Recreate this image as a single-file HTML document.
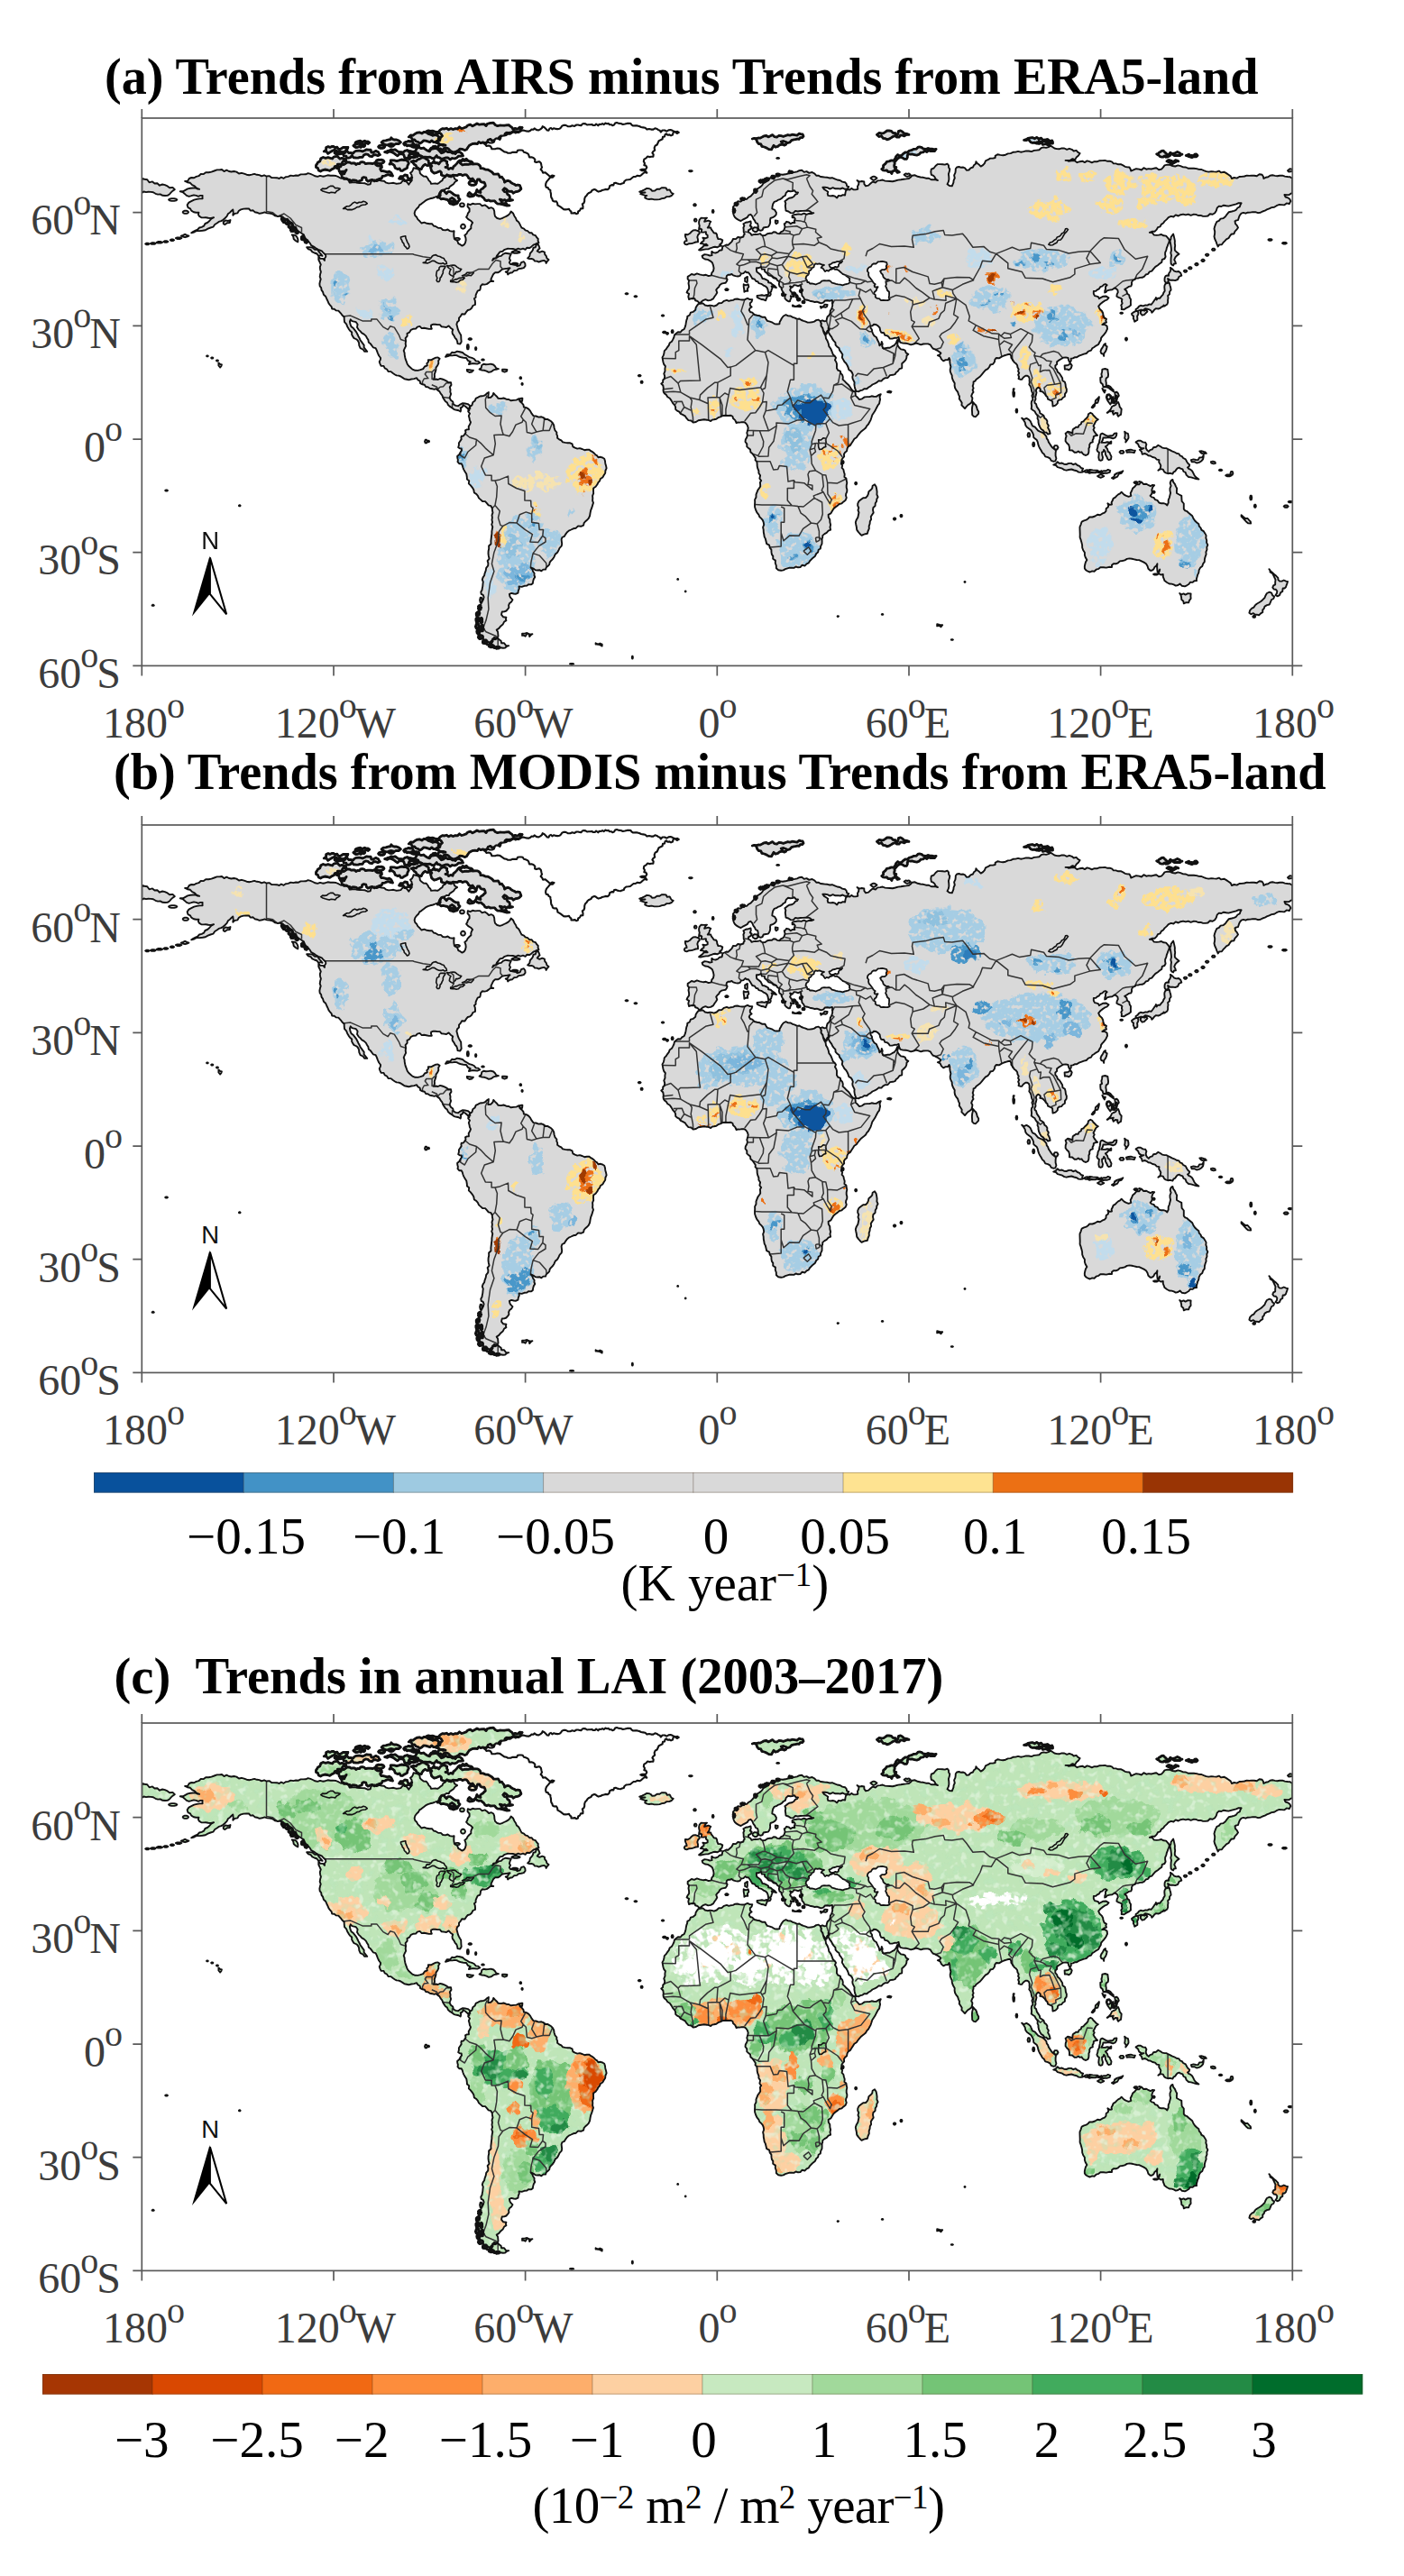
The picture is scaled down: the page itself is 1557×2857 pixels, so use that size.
<!DOCTYPE html>
<html><head><meta charset="utf-8"><title>Trends</title>
<style>
html,body{margin:0;padding:0;background:#fff}
body{width:1557px;height:2857px;position:relative;overflow:hidden;font-family:"Liberation Serif",serif}
.map{position:absolute;overflow:visible}
.ti{position:absolute;font-weight:bold;font-size:56px;line-height:60px;white-space:pre;color:#000}
.yl{position:absolute;left:0;width:134px;text-align:right;font-size:48px;line-height:50px;color:#3c3c3c;white-space:nowrap}
.xl{position:absolute;width:200px;text-align:center;font-size:48px;line-height:50px;color:#3c3c3c;white-space:nowrap}
.yl sup,.xl sup{font-size:40px;vertical-align:baseline;position:relative;top:-22.5px;line-height:0;margin:0 -2px 0 -1px}
.cl{position:absolute;width:200px;text-align:center;font-size:57px;line-height:60px;color:#000;white-space:nowrap}
.un{position:absolute;font-size:57px;line-height:60px;color:#000;white-space:nowrap}
.un sup{font-size:37px;vertical-align:baseline;position:relative;top:-16px;line-height:0}
</style></head><body>

<div class="ti" style="left:116px;top:55px;font-size:56.2px">(a) Trends from AIRS minus Trends from ERA5-land</div>
<div class="ti" style="left:126px;top:826px;font-size:56.3px">(b) Trends from MODIS minus Trends from ERA5-land</div>
<div class="ti" style="left:126.5px;top:1829px;font-size:56.5px">(c)  Trends in annual LAI (2003–2017)</div>
<svg class="map" style="left:0;top:110.6px" width="1557" height="652" viewBox="0 0 1557 652">
<defs>
<path id="landp" d="M42.5,81.3L45.6,81.3L48.2,79.9L50.9,78.4L53.8,77.8L56.7,77.5L59.2,77.4L61.4,78.5L63.8,78.8L60.8,77.7L58.5,75.4L55.8,74.1L53.6,71.8L50.5,71.2L47.8,70.0L50.7,69.9L52.5,67.0L55.0,66.0L57.9,66.3L60.3,64.9L63.1,64.2L65.4,62.0L68.5,62.1L70.9,60.3L74.1,60.3L77.2,59.6L80.3,58.5L83.3,57.4L86.0,57.4L88.7,57.0L91.2,59.1L94.0,57.7L96.6,59.0L99.2,59.5L102.2,59.0L105.0,59.6L107.7,61.5L110.6,60.8L113.4,61.6L116.2,62.7L119.0,63.2L121.9,62.6L124.8,61.9L127.6,62.8L130.3,63.1L132.8,64.4L135.7,63.3L138.2,64.5L141.2,64.1L143.8,66.1L146.7,66.1L149.6,66.2L152.4,67.0L154.6,65.5L157.3,66.8L159.5,65.3L162.3,64.9L165.1,63.6L168.0,64.1L170.8,63.5L173.7,63.7L176.2,62.4L179.0,62.4L181.8,62.3L184.3,61.2L187.0,61.9L189.6,63.0L192.2,64.3L194.9,64.9L197.7,63.9L200.6,64.7L203.5,64.2L206.2,63.3L209.1,63.7L212.2,63.6L215.2,64.0L218.0,65.2L220.8,66.8L224.0,66.0L226.8,67.4L229.2,68.9L230.4,71.6L233.2,71.2L236.1,71.2L238.9,71.9L241.7,72.0L244.6,72.1L247.5,72.3L250.4,73.7L253.4,73.3L254.0,71.1L255.2,69.1L257.9,68.4L260.5,70.1L263.2,68.8L265.8,69.5L268.6,69.7L271.0,71.7L273.6,72.4L276.5,72.1L279.1,71.8L281.8,72.7L284.4,72.5L287.1,72.1L288.7,70.2L290.6,68.7L292.6,70.1L294.5,71.6L296.0,73.7L297.6,71.3L299.5,69.1L299.2,66.2L299.3,63.3L297.7,60.7L299.6,59.4L300.6,57.5L301.3,55.3L303.9,55.9L306.6,56.6L308.2,58.4L308.5,61.1L310.1,62.8L312.4,64.5L315.3,64.7L317.2,67.0L318.2,69.1L320.0,70.7L320.8,72.9L323.1,72.6L325.5,72.5L327.9,72.9L329.7,71.7L331.4,70.3L333.2,69.1L334.0,67.0L336.1,65.9L336.7,63.7L339.7,63.3L342.7,63.4L345.6,64.5L347.0,67.5L349.8,69.1L347.3,70.7L345.6,73.3L343.5,74.6L341.5,76.0L340.3,78.3L337.8,77.9L335.6,79.5L333.2,79.6L331.9,81.4L331.2,83.5L331.4,85.9L329.3,87.6L326.6,87.0L324.3,88.0L322.0,88.8L319.6,89.3L317.2,90.1L314.7,91.4L312.4,93.3L310.1,95.1L307.9,96.4L306.7,98.8L304.8,100.5L303.1,102.8L302.3,105.6L303.0,108.1L304.8,109.8L306.1,112.4L308.2,114.3L310.1,116.5L313.2,115.7L316.1,116.8L319.0,117.3L321.7,117.2L323.6,119.5L326.1,120.2L328.6,121.8L331.6,121.9L333.8,124.0L336.7,124.4L339.2,123.5L341.5,125.1L343.9,125.6L346.3,125.3L346.0,128.2L346.1,131.1L346.6,134.0L348.7,135.1L350.2,136.7L350.9,139.1L353.1,140.2L355.2,141.6L357.3,140.4L358.7,138.2L359.4,135.3L359.1,132.6L358.0,129.9L360.1,128.3L361.3,125.9L363.1,124.0L365.1,122.3L365.0,120.0L365.6,117.9L366.8,116.0L364.7,113.7L361.9,112.1L359.8,109.8L361.0,107.7L361.7,105.3L363.3,103.5L363.3,100.5L361.2,98.1L361.5,95.1L364.2,96.2L366.8,94.8L369.5,95.4L372.2,95.1L375.0,95.1L377.3,97.4L380.4,96.4L382.8,98.0L384.8,100.0L387.7,99.2L389.9,100.5L390.9,103.2L391.1,106.1L391.7,108.9L394.0,111.0L397.0,111.8L399.4,111.1L401.7,110.0L404.1,108.9L406.3,107.6L408.1,105.8L409.4,103.5L411.7,105.5L413.0,108.4L414.7,111.0L415.6,113.4L417.6,115.0L418.9,117.1L420.0,119.4L421.3,121.7L423.7,122.6L425.3,124.4L427.8,125.2L429.8,127.2L432.4,127.3L433.9,129.4L436.5,130.1L437.8,132.2L439.5,134.0L439.3,136.2L440.2,138.2L438.1,138.8L436.2,139.8L434.2,140.7L432.2,142.4L430.1,144.0L427.1,143.7L425.3,145.8L422.7,144.7L420.0,145.6L417.4,144.6L414.7,145.8L411.6,145.0L408.5,144.9L405.4,144.8L402.3,145.8L400.1,147.7L397.1,148.4L395.2,150.8L393.7,152.7L392.7,155.1L389.9,155.6L388.8,157.9L390.9,155.9L393.4,155.0L395.7,153.4L398.5,152.9L400.5,150.8L403.5,149.7L406.4,150.2L409.4,150.8L408.3,153.2L407.6,155.8L408.7,157.8L407.5,160.2L408.7,162.1L411.4,162.1L414.1,162.7L416.5,164.2L419.3,163.3L420.7,160.1L423.6,159.2L425.0,161.2L425.3,163.8L423.5,166.1L420.7,166.7L418.0,167.1L415.7,168.9L412.9,169.2L410.9,171.2L408.0,171.7L405.8,173.4L405.3,171.3L403.4,170.5L405.6,170.0L406.7,167.7L408.3,166.3L405.3,166.8L402.3,167.1L399.3,167.8L397.0,170.1L394.7,171.3L391.9,171.1L389.9,173.0L388.9,174.9L388.0,176.9L387.1,178.9L388.1,180.5L389.9,181.0L387.0,180.8L384.6,182.6L382.4,184.1L380.0,184.6L377.5,184.3L375.7,186.4L375.5,188.5L375.0,190.6L372.4,191.7L371.1,194.4L370.3,196.3L370.3,198.7L368.6,200.2L369.5,202.4L369.7,204.6L369.7,206.9L367.1,208.0L365.8,210.7L363.9,212.3L361.5,213.0L359.8,214.9L358.2,217.5L354.9,217.3L353.4,219.9L351.7,221.7L351.7,224.5L349.8,226.2L349.1,228.7L349.8,231.2L350.4,233.9L351.4,236.4L352.7,238.8L353.9,240.7L354.0,242.9L354.1,245.1L354.4,248.0L353.0,250.5L350.2,250.1L349.8,247.7L349.0,245.5L347.4,243.8L346.2,241.3L344.5,239.2L344.2,236.8L344.9,234.6L342.4,232.7L340.3,230.4L337.8,232.0L334.9,231.6L332.4,231.3L330.5,229.1L327.9,229.1L325.5,228.8L323.1,228.7L320.8,229.6L320.7,231.7L321.5,233.7L318.4,233.9L315.5,233.3L313.0,232.8L310.4,233.1L308.2,230.9L305.5,231.6L303.8,233.6L301.3,233.7L298.5,234.8L296.8,237.6L294.2,238.8L294.4,241.7L292.3,244.2L292.8,247.1L292.4,250.0L292.8,252.9L291.4,255.5L290.4,257.9L291.3,260.3L291.4,262.6L291.9,265.2L292.5,267.7L293.5,270.2L294.4,272.7L295.8,274.8L297.7,276.5L300.1,278.6L303.1,279.8L306.1,279.9L309.0,279.2L311.9,278.1L313.7,275.5L316.5,274.4L316.0,272.1L317.7,270.3L317.6,268.1L320.7,268.3L323.4,266.9L326.1,265.6L328.4,265.4L330.3,266.8L328.9,269.1L329.0,272.0L327.9,274.4L326.2,276.6L326.1,279.4L325.3,281.9L324.5,284.3L324.7,286.9L323.6,289.9L326.0,289.5L328.4,290.0L330.8,288.9L333.2,289.5L335.6,290.4L337.9,291.6L340.0,293.3L342.7,293.2L343.2,295.9L341.5,298.4L342.2,301.1L342.0,303.7L342.8,305.9L342.1,308.0L341.3,310.0L342.5,312.7L344.9,314.5L345.6,317.5L348.1,318.9L350.9,319.2L353.1,317.6L355.5,316.3L358.5,316.5L361.5,317.1L363.1,318.2L364.0,320.0L363.1,322.0L363.0,324.2L361.9,322.6L360.5,321.3L358.5,319.5L356.2,318.4L355.4,320.5L353.4,321.3L353.9,323.4L353.4,325.5L351.4,324.3L349.1,323.8L346.2,323.1L343.8,321.3L341.3,319.6L339.6,318.0L338.6,315.6L336.7,314.2L335.3,312.1L333.9,310.0L333.0,307.3L331.3,305.4L330.1,303.1L327.9,301.6L326.3,300.2L324.3,300.8L321.9,300.2L319.4,299.8L317.2,298.3L314.9,298.0L313.5,295.7L311.2,295.3L308.9,294.2L308.3,291.5L306.1,290.3L304.8,288.2L301.9,289.1L298.9,289.5L296.0,290.3L293.6,289.8L291.2,289.3L289.2,287.9L287.1,286.5L284.9,285.6L282.4,285.4L280.3,284.2L278.2,282.8L276.2,281.1L273.3,281.0L271.7,278.5L269.4,277.3L268.2,274.9L265.2,274.7L264.1,272.3L263.4,270.1L264.5,268.1L264.8,266.0L262.9,263.5L261.6,260.6L260.5,257.6L259.3,255.1L256.5,254.3L255.0,252.2L253.4,250.1L251.5,248.7L251.1,246.1L249.9,244.2L248.5,241.6L246.3,239.6L244.0,238.4L242.3,236.4L240.3,234.6L238.7,232.1L239.3,228.7L237.5,226.2L235.3,225.6L233.1,225.1L231.5,223.3L230.6,225.7L231.1,228.3L232.2,231.2L234.6,233.1L236.4,235.4L237.9,237.3L239.0,239.5L240.0,241.7L241.3,243.9L242.3,246.4L243.9,248.4L245.1,250.2L246.4,251.9L246.3,254.3L248.1,256.6L249.9,258.9L247.0,258.9L245.2,256.5L242.3,255.1L241.0,252.2L240.7,249.0L239.2,246.3L237.4,245.0L235.3,244.1L233.9,242.1L232.8,240.0L232.9,237.5L230.8,235.8L229.3,233.6L227.9,231.2L226.8,228.4L224.7,226.1L224.4,222.9L224.4,220.5L222.6,219.1L221.2,217.2L219.6,215.4L218.0,213.6L215.5,213.4L213.4,211.8L210.9,211.5L210.3,209.1L208.7,207.3L207.2,205.4L206.3,203.2L205.0,200.5L203.8,197.7L201.6,195.8L200.8,192.9L199.2,190.6L198.9,188.2L197.4,186.4L197.1,183.8L197.6,181.2L198.4,178.6L197.4,175.9L197.8,173.3L198.6,170.6L197.8,167.9L197.5,165.1L198.5,162.5L197.2,159.7L196.0,157.0L196.0,153.7L197.9,155.8L200.9,155.9L202.7,157.9L202.6,155.7L204.0,153.8L203.8,151.6L202.6,150.5L201.3,149.5L199.8,147.7L197.8,146.7L195.7,145.8L193.0,144.3L190.6,142.5L187.9,141.2L186.3,138.5L184.3,136.1L182.2,134.4L180.5,132.2L179.6,129.3L177.2,127.8L175.4,126.5L173.3,125.5L171.9,123.6L170.8,120.8L168.0,119.8L167.3,116.6L164.8,115.2L162.5,113.7L160.2,112.2L157.7,111.0L155.6,109.2L153.2,108.7L150.6,108.9L147.6,108.2L144.9,106.2L141.8,105.6L138.9,105.4L136.1,104.4L133.3,105.3L130.4,105.9L127.6,104.7L125.2,104.2L123.3,102.3L120.6,102.6L118.7,100.5L115.8,100.5L112.8,100.6L109.9,101.4L107.6,102.8L106.0,105.4L103.1,105.9L101.0,107.7L101.4,104.5L101.0,101.4L99.3,103.0L97.7,104.7L95.7,106.0L94.3,108.8L92.2,111.0L90.2,112.8L87.9,114.1L85.4,114.9L83.3,116.5L80.9,118.0L79.1,120.7L76.2,121.5L73.2,122.6L70.5,124.3L67.3,124.8L64.2,125.1L60.9,125.0L58.0,126.5L54.9,127.3L57.1,125.8L59.5,124.6L61.9,123.5L63.8,121.5L66.4,120.8L68.7,119.7L70.2,117.0L72.7,116.0L75.0,114.0L77.0,111.6L79.8,110.2L76.8,111.0L73.8,110.8L70.9,110.2L68.4,110.4L66.0,110.3L63.8,108.9L62.6,107.0L63.1,104.7L60.2,104.8L57.5,104.2L54.9,102.6L53.6,100.3L51.1,99.1L50.3,96.3L52.1,93.6L54.9,92.2L57.9,90.7L61.0,89.9L64.1,89.4L67.3,89.2L67.2,87.5L67.3,85.9L65.0,85.9L62.6,86.9L60.3,85.9L57.6,85.4L54.9,86.2L52.3,86.9L49.6,85.9L47.5,83.9L45.3,82.1L42.5,81.3Z M364.0,320.0L366.2,318.2L367.0,315.3L369.3,313.6L370.4,310.8L372.9,309.6L374.9,308.5L377.1,308.2L379.3,307.9L381.2,306.9L382.7,305.2L384.6,304.1L384.3,307.1L383.9,310.0L386.9,309.7L389.2,307.5L389.9,305.0L391.7,306.9L393.6,308.7L395.2,310.8L398.2,311.1L401.2,310.5L404.1,311.7L406.9,312.0L409.4,313.3L412.4,312.9L415.4,312.6L418.2,311.2L419.4,314.3L421.8,316.3L423.2,318.1L423.6,320.5L426.4,321.1L428.9,322.6L430.8,324.9L432.3,327.7L434.2,330.1L437.1,330.5L440.0,331.6L443.1,331.3L445.3,332.2L447.2,334.0L449.8,333.9L451.9,335.1L453.9,336.3L455.5,338.0L456.9,340.5L457.3,343.5L458.2,346.3L460.1,348.5L460.0,350.7L460.9,352.7L460.8,354.8L462.8,356.3L465.1,357.4L466.8,359.4L469.5,359.9L472.2,360.2L475.0,360.3L477.3,361.4L478.0,364.4L480.3,365.7L482.9,366.6L485.6,366.1L488.3,367.0L490.9,368.2L493.5,367.7L496.2,367.8L497.9,369.2L499.8,370.2L501.5,371.6L503.0,373.2L504.8,374.4L506.1,376.2L508.6,375.8L510.8,376.5L512.9,377.8L513.7,380.3L514.0,382.9L514.7,385.4L515.3,388.3L514.1,391.0L513.9,393.8L512.4,396.0L511.0,398.5L508.6,400.0L507.8,402.3L506.1,404.1L505.1,406.3L503.3,408.8L500.8,410.5L500.7,413.3L500.9,416.2L499.8,418.9L500.0,421.5L499.8,424.1L500.7,426.8L499.8,429.4L499.0,432.2L497.9,434.9L497.3,437.7L496.8,441.0L495.5,443.8L493.4,446.1L491.7,447.5L490.3,449.2L489.8,451.6L486.9,452.8L483.8,452.4L481.5,454.7L478.5,455.3L476.0,456.5L473.5,457.6L471.4,459.5L469.9,461.6L468.5,463.9L466.1,465.0L465.3,467.3L465.6,469.8L465.9,472.2L465.4,474.6L463.4,476.6L462.2,479.2L460.8,481.7L458.4,483.8L457.2,486.7L455.5,489.3L453.8,490.9L452.4,492.7L451.9,495.1L450.3,496.8L448.5,498.3L447.7,500.6L445.1,500.6L443.1,502.3L441.0,501.2L438.8,501.5L436.7,501.4L434.2,499.6L431.4,498.5L433.0,500.3L433.8,502.8L435.3,504.8L435.1,507.0L436.0,509.0L434.6,511.1L433.9,513.6L433.5,516.1L431.5,517.4L429.0,517.1L427.1,518.6L424.1,518.8L421.3,519.9L418.2,519.4L418.5,521.9L417.5,524.2L417.2,526.6L414.9,527.7L412.4,527.5L409.9,526.9L407.6,527.8L408.1,530.4L409.4,532.4L411.2,534.1L409.8,536.6L407.6,538.3L406.8,540.3L407.1,542.7L405.8,544.6L404.1,546.5L401.9,547.4L399.5,547.5L399.0,549.2L398.8,550.8L400.9,553.3L404.1,553.8L403.6,555.5L404.1,557.1L401.7,558.8L400.3,561.6L398.0,563.4L396.0,565.9L393.4,567.6L394.8,569.7L395.0,572.2L395.2,574.7L393.1,576.4L390.6,576.0L389.4,578.0L387.7,579.6L386.3,581.4L383.7,581.0L381.8,578.7L379.3,578.1L377.1,577.2L375.4,575.7L373.9,573.9L372.1,571.4L372.4,567.9L370.4,565.5L371.6,562.9L370.7,559.7L372.2,557.1L372.3,554.8L371.1,552.9L370.4,550.8L372.0,548.6L374.0,546.7L375.7,544.6L375.6,541.6L376.0,538.8L377.5,536.2L378.7,533.8L379.3,531.2L378.4,528.9L376.4,527.8L376.0,525.6L377.2,523.6L377.5,521.5L378.0,519.1L378.2,516.7L378.5,514.3L377.5,511.9L378.3,509.4L379.8,507.3L380.3,504.8L381.4,501.9L381.9,498.8L383.9,496.4L384.1,493.8L383.3,491.1L385.3,488.6L384.6,485.9L384.2,483.1L384.3,480.3L384.9,477.5L384.8,474.5L387.2,472.2L387.1,469.2L387.4,466.4L387.7,463.6L388.1,460.8L388.1,458.3L388.5,455.8L389.0,453.3L387.9,450.7L388.8,448.2L388.2,445.6L388.6,443.0L388.2,440.3L389.2,437.7L388.7,435.3L388.5,432.7L387.2,430.2L384.4,429.4L382.8,427.3L380.8,425.1L377.8,425.0L375.7,423.1L373.7,421.4L372.6,418.8L370.9,416.9L368.6,415.5L368.0,412.3L366.4,409.6L364.4,407.2L362.5,405.3L362.9,402.3L360.7,400.6L360.5,398.0L360.0,394.8L358.4,392.2L356.9,389.6L356.1,387.5L355.5,385.3L354.4,383.3L351.9,383.2L350.2,381.2L350.6,379.1L350.0,377.0L349.8,374.9L352.1,373.0L353.4,370.3L354.7,368.7L354.4,366.5L352.5,366.3L350.9,365.3L351.6,362.8L351.6,360.3L353.0,358.2L354.4,356.1L354.1,354.4L354.4,352.7L356.6,352.5L358.0,350.6L359.2,348.7L358.7,346.4L360.5,345.4L362.6,345.2L362.4,342.0L364.0,339.3L364.7,337.1L363.6,335.1L363.3,333.0L362.5,330.2L363.7,327.6L361.9,325.5L362.3,322.5L364.0,320.0Z M617.1,206.1L619.2,205.7L622.2,205.4L624.6,207.5L627.4,208.2L629.8,207.8L632.1,207.9L634.5,208.6L637.4,207.5L639.8,205.3L643.0,205.1L645.6,202.8L648.6,201.9L651.0,202.8L653.4,202.2L655.7,201.9L658.0,200.7L660.4,200.5L662.8,201.1L665.9,201.5L668.8,201.2L671.7,199.8L674.2,201.1L677.0,201.1L676.3,203.6L674.5,205.3L674.5,207.8L676.3,209.4L674.4,210.7L673.4,212.8L674.7,215.0L677.0,215.7L679.3,218.0L682.3,218.7L685.3,219.3L688.1,220.8L691.2,220.8L692.3,223.0L693.6,224.9L696.5,225.6L699.3,226.7L701.8,228.3L704.5,228.5L707.1,228.3L707.4,226.0L708.6,224.0L709.6,222.0L711.5,219.5L714.2,218.2L716.7,219.4L719.5,219.5L721.8,220.9L724.3,221.6L726.6,222.9L729.2,222.5L731.4,224.0L733.7,224.9L736.1,225.6L738.3,226.6L740.8,226.6L743.3,226.3L745.7,225.6L747.9,224.1L750.4,223.6L752.5,225.4L753.6,227.8L753.2,230.4L755.1,232.8L755.6,236.0L756.7,238.8L758.3,241.4L758.7,244.5L760.3,247.1L761.4,250.0L762.0,253.1L763.8,255.5L764.8,257.7L765.7,260.0L766.6,262.3L768.4,263.9L769.7,265.8L768.6,268.3L769.9,270.2L770.7,272.5L770.7,274.9L770.6,277.3L772.0,279.7L774.5,280.7L775.1,283.0L776.8,284.9L777.5,287.2L777.3,289.9L779.5,291.9L781.5,294.1L783.7,295.9L785.4,298.2L786.9,300.8L788.8,302.6L791.1,303.7L791.4,305.8L791.5,307.9L793.7,309.8L795.7,312.1L798.7,311.3L801.4,309.4L804.6,309.1L807.0,309.1L809.3,308.3L811.7,308.7L814.5,308.9L816.9,307.2L819.5,306.2L818.2,309.0L818.8,312.1L818.2,314.3L817.8,316.6L816.3,318.4L815.2,320.5L814.1,322.6L813.0,324.8L811.7,326.7L810.0,329.3L809.1,332.2L808.1,335.1L806.9,337.3L805.7,339.5L803.9,341.3L802.8,343.5L800.4,345.6L797.9,347.4L795.7,349.8L794.0,352.0L792.5,354.2L790.1,355.8L788.6,358.2L787.1,360.5L785.6,362.9L783.3,364.4L782.2,366.6L781.8,369.2L779.8,370.7L778.6,372.7L778.9,375.3L777.3,377.0L776.1,378.9L775.9,381.1L775.5,383.3L776.9,385.1L776.3,387.9L778.0,389.6L778.6,392.3L779.4,395.1L779.1,398.0L781.1,399.5L781.5,402.1L782.0,404.6L781.4,407.2L781.4,409.7L782.1,412.2L781.9,414.7L780.9,416.7L780.7,418.8L781.5,421.0L780.4,423.7L778.2,425.4L776.2,427.3L773.5,428.0L771.4,429.9L769.1,431.5L767.1,433.2L765.6,435.7L764.0,438.4L761.3,439.8L761.5,442.7L763.0,445.3L763.1,448.2L763.8,451.0L763.2,453.8L763.8,456.6L761.3,457.7L759.4,459.8L757.1,461.1L755.0,462.9L754.9,465.0L754.2,467.0L754.3,469.2L754.2,472.1L752.9,474.7L752.5,477.5L750.4,478.8L749.8,481.6L747.9,483.0L746.7,485.7L744.6,487.4L742.6,489.3L740.9,491.0L739.5,493.3L737.2,494.3L735.3,496.5L732.1,495.8L730.2,498.1L727.8,498.3L725.3,497.5L723.1,498.9L720.7,498.7L718.3,498.6L716.0,499.3L713.6,500.1L711.4,501.4L708.9,501.8L705.9,501.3L703.6,499.3L703.5,496.3L702.5,493.5L702.6,490.6L699.9,488.8L700.0,485.9L698.6,483.9L698.2,481.4L698.1,478.7L696.5,476.7L695.8,473.7L692.9,472.2L692.2,469.2L691.6,466.7L690.4,464.3L690.0,461.8L689.5,459.2L689.4,456.6L688.8,453.8L689.9,451.0L689.4,448.2L688.5,445.8L686.8,443.9L685.0,442.3L684.1,439.8L682.1,437.4L680.8,434.5L679.8,431.5L679.7,428.7L679.9,425.9L679.8,423.1L681.2,420.5L681.2,417.4L682.3,414.7L683.2,412.4L684.6,410.5L685.9,408.4L685.8,406.2L685.6,404.1L686.9,402.1L685.1,399.7L685.8,396.3L684.1,393.8L684.1,391.1L683.0,388.6L682.4,386.0L682.3,383.3L682.1,381.1L680.3,379.4L680.5,377.0L678.8,374.4L677.0,372.0L675.1,370.5L674.7,367.6L672.8,366.0L671.0,364.4L671.0,361.4L669.2,359.0L669.5,356.4L670.8,354.2L671.7,351.9L671.0,349.0L671.9,346.3L672.4,343.5L671.5,340.8L669.9,338.5L668.1,337.2L665.4,337.1L662.8,337.6L661.0,337.5L659.3,338.0L658.0,335.1L655.7,333.0L655.1,330.8L653.2,329.7L650.1,330.0L646.9,329.7L644.1,330.1L641.5,331.3L639.1,332.2L637.0,333.8L634.5,334.3L632.5,334.6L630.9,336.0L628.8,335.2L626.7,334.7L623.5,334.3L620.3,334.7L617.2,335.3L614.5,337.0L611.4,337.6L609.1,335.5L606.1,335.1L604.1,332.9L602.4,330.3L599.7,328.8L597.5,327.8L595.9,325.7L593.7,324.6L591.9,323.0L591.8,320.4L590.9,318.4L588.8,316.1L587.3,313.4L585.5,310.8L583.0,309.3L581.3,306.6L579.6,305.5L578.5,303.7L578.2,301.6L578.5,299.5L578.0,296.5L576.0,294.5L577.8,293.1L577.9,290.5L579.5,289.0L579.9,286.3L579.0,283.4L580.2,280.7L580.1,277.9L580.6,275.2L579.0,273.1L578.2,270.7L577.7,268.1L577.2,265.4L578.5,263.1L579.1,260.7L579.5,258.2L581.3,256.4L582.8,254.1L584.5,251.9L585.5,249.2L587.7,247.7L589.0,245.4L590.1,243.0L590.7,240.4L592.6,238.8L594.6,237.3L597.3,237.5L599.0,235.4L601.5,234.0L602.6,231.2L603.2,228.7L603.6,226.2L604.0,224.1L604.8,222.1L605.0,219.9L607.5,218.5L608.6,215.7L611.5,214.8L613.9,212.8L614.3,210.2L615.6,208.1L617.1,206.1Z M812.7,406.3L814.3,408.8L814.9,411.6L815.3,414.5L815.1,417.5L816.3,420.2L815.0,422.4L814.8,425.1L813.4,427.3L813.3,430.0L811.1,432.0L810.7,434.6L811.4,437.6L809.9,439.8L808.5,442.1L808.8,445.0L807.5,447.3L807.3,450.0L806.4,452.4L806.5,455.4L805.3,458.0L804.6,460.8L802.4,461.2L800.2,461.8L798.2,462.9L796.3,461.0L794.5,458.9L792.9,456.6L792.6,453.8L792.0,451.0L791.5,448.2L792.5,445.4L794.1,442.8L794.7,439.8L795.2,437.3L794.2,434.8L795.0,432.2L793.9,429.8L794.0,427.3L795.3,424.7L797.5,423.1L799.9,421.3L802.8,421.0L804.6,419.2L805.6,416.9L806.1,414.2L808.1,412.6L809.9,410.7L810.4,407.7L812.7,406.3Z M752.5,225.4L754.7,224.3L757.0,225.4L759.2,224.9L759.6,222.6L760.3,220.3L762.1,218.7L763.3,216.5L763.5,213.7L764.9,211.5L765.5,209.5L766.0,207.4L765.6,205.3L765.9,203.6L765.6,201.9L763.0,202.7L760.3,202.3L757.6,202.5L755.7,204.6L753.2,205.3L750.9,204.5L748.6,203.7L746.1,204.0L743.5,203.2L740.8,202.7L737.8,201.7L734.8,201.1L733.9,198.9L732.2,197.2L731.9,194.8L731.6,192.5L733.0,190.6L730.9,188.5L731.0,186.7L730.2,185.2L727.8,186.3L725.4,185.4L723.1,185.2L721.3,187.7L718.8,186.4L719.7,188.5L718.8,190.6L720.2,192.7L722.1,193.9L723.1,196.0L723.1,198.1L721.3,197.8L719.5,197.3L720.2,199.8L719.1,201.3L718.8,203.2L717.0,203.2L714.9,201.9L713.2,200.2L713.1,197.7L714.2,195.6L712.3,195.5L711.7,193.5L710.5,192.0L709.6,190.2L709.0,187.8L707.1,186.4L706.5,183.9L707.1,181.4L705.0,180.2L703.6,178.0L700.5,177.3L698.3,175.1L695.1,174.4L692.9,171.7L690.9,170.2L690.5,167.6L687.6,167.6L686.6,165.0L684.2,166.2L681.6,166.3L681.6,168.4L682.0,170.5L684.1,172.1L686.2,173.8L687.3,175.9L688.3,178.0L690.6,178.3L692.7,179.4L694.7,180.5L694.7,182.2L697.4,182.8L699.5,184.7L701.8,186.0L703.6,188.1L700.9,187.4L698.3,186.4L699.2,188.5L698.3,190.6L697.9,192.4L696.5,193.5L697.5,195.1L696.8,196.9L695.2,197.3L693.6,196.9L694.9,195.0L694.7,192.7L694.3,190.6L693.6,188.5L691.8,186.6L689.4,185.6L686.9,183.8L684.1,183.1L683.1,181.3L681.2,181.0L679.6,178.7L677.0,178.0L675.8,175.9L674.5,173.8L672.7,171.3L670.8,171.3L669.2,170.1L667.2,172.1L664.6,172.6L663.4,174.9L661.0,175.5L658.3,175.1L655.7,174.3L654.1,172.9L652.2,173.8L650.2,173.8L648.6,175.1L648.1,177.2L649.3,178.9L648.6,181.0L647.2,182.8L645.1,183.1L642.8,183.7L640.8,185.2L639.9,187.3L638.2,188.7L636.9,190.6L638.0,193.5L636.7,195.7L635.2,197.7L633.5,200.4L630.9,201.9L628.0,202.4L625.0,201.2L622.0,202.3L620.3,204.0L618.2,205.3L617.1,203.8L615.7,202.7L613.8,202.3L613.2,200.2L611.0,200.0L608.9,200.2L606.8,201.1L606.0,197.9L606.8,194.8L604.3,193.5L605.3,191.2L606.8,189.1L606.8,186.4L606.2,183.3L606.8,180.1L605.3,178.3L605.4,175.9L607.5,174.5L609.6,173.0L612.6,173.9L615.6,172.4L618.5,173.4L620.8,173.9L623.2,174.3L625.6,173.8L628.5,175.1L631.6,174.3L632.0,171.6L633.7,169.7L634.3,166.5L633.7,163.4L632.6,160.3L630.2,158.3L627.6,156.9L624.6,156.5L622.0,155.0L621.3,152.9L624.1,151.1L627.4,151.6L629.8,152.5L632.3,152.1L631.9,150.0L632.0,147.9L633.7,149.1L636.3,149.5L638.7,148.7L640.7,146.7L643.3,146.2L643.7,144.3L644.0,142.4L646.1,141.5L648.1,140.5L650.4,140.7L652.1,139.0L653.9,137.4L654.9,135.8L655.7,134.0L658.7,134.1L661.0,132.0L664.1,132.5L667.1,131.5L667.4,129.9L668.5,128.6L667.4,126.2L667.4,123.6L667.1,121.5L668.1,119.3L667.1,117.3L669.7,115.7L672.7,115.2L675.2,114.4L675.5,117.0L674.5,119.4L676.3,120.6L675.0,123.1L672.7,124.4L672.7,126.5L674.9,127.8L676.3,129.9L678.3,129.1L680.5,129.0L683.2,128.9L685.9,128.2L686.9,129.5L688.3,130.3L691.2,130.1L693.7,128.3L696.5,127.8L698.7,127.7L700.6,126.2L702.9,126.5L704.8,127.9L707.1,128.2L708.9,126.1L710.9,125.3L712.4,123.6L713.3,120.4L712.4,117.3L714.0,116.4L714.9,114.8L717.5,115.5L719.5,117.3L721.7,115.9L724.1,116.0L723.5,113.9L724.5,111.8L723.3,110.0L721.3,110.2L721.3,108.1L723.6,107.1L726.0,106.8L728.4,106.4L731.3,106.9L734.3,105.6L737.2,106.8L739.8,105.8L742.5,106.1L745.0,105.1L742.8,105.0L741.1,103.3L739.0,102.6L736.1,102.7L733.1,102.9L730.2,103.0L727.5,103.5L724.7,103.0L722.3,105.4L719.5,105.1L717.0,103.5L714.2,102.6L713.9,99.9L713.5,97.2L714.0,94.6L713.1,92.2L715.4,90.4L717.8,88.8L720.6,88.3L723.0,87.0L724.8,84.6L726.6,84.1L727.7,82.5L725.4,82.3L723.8,80.4L721.4,81.0L719.1,81.2L716.7,80.8L714.4,82.9L713.5,85.9L711.4,87.0L709.7,88.9L707.6,90.1L705.3,90.9L703.5,92.2L701.3,92.9L700.0,95.1L699.3,97.8L699.0,100.5L701.9,101.9L703.6,104.7L703.4,107.2L701.8,108.9L699.6,110.2L697.2,111.0L696.7,113.1L696.9,115.2L696.5,117.3L695.7,119.0L694.7,120.6L692.0,121.0L689.4,121.5L688.3,124.0L686.2,124.8L684.1,124.0L683.6,121.7L683.4,119.4L682.9,117.1L680.6,116.0L679.8,113.9L678.1,111.7L677.0,108.9L675.2,106.8L672.9,107.6L671.7,109.8L669.0,111.3L666.4,112.7L664.3,114.0L662.1,113.1L659.6,111.7L657.5,109.8L656.3,107.4L655.7,104.7L655.8,101.6L655.7,98.4L657.6,96.5L659.3,94.3L661.1,92.2L663.9,92.6L665.9,91.2L668.1,90.1L670.8,89.8L672.8,87.8L675.2,86.7L676.8,84.8L678.5,83.0L680.5,81.7L681.6,78.9L684.1,77.5L686.2,76.1L688.0,74.3L689.4,72.1L691.3,71.1L693.1,69.9L694.7,68.3L696.7,66.3L699.7,66.7L701.8,64.9L704.8,64.3L707.5,62.4L710.7,62.8L713.7,62.3L716.6,61.5L719.5,60.7L722.0,60.3L724.4,59.9L726.8,59.3L729.1,58.2L731.9,57.7L734.4,59.9L737.2,59.1L740.0,60.9L743.3,60.0L746.1,61.6L747.9,63.7L750.3,63.7L752.6,65.0L755.0,65.3L757.6,65.6L760.3,65.8L762.9,66.5L765.6,66.2L768.4,67.3L771.2,68.5L774.2,69.0L776.8,70.6L779.8,71.2L781.3,72.8L781.9,75.3L784.0,76.2L782.4,78.5L779.8,78.8L777.2,77.5L774.5,78.5L771.8,78.1L769.1,78.3L766.3,77.1L763.1,78.6L760.3,77.1L757.6,76.7L755.0,76.7L756.6,78.9L758.8,80.3L761.0,81.7L760.4,83.8L761.0,85.9L763.5,86.4L766.2,86.0L768.7,86.7L770.9,88.4L772.7,85.9L775.1,86.4L777.4,85.1L779.8,85.5L780.2,82.9L780.8,80.4L782.6,79.0L785.1,79.5L786.9,77.9L789.1,79.3L791.5,79.4L794.0,78.8L793.7,75.8L795.0,73.3L795.0,70.8L793.2,69.1L795.7,70.6L798.4,70.0L801.0,70.4L801.1,73.2L802.8,75.4L805.8,74.6L808.1,72.5L810.5,70.6L813.6,71.5L815.9,69.4L818.8,69.1L821.5,68.5L824.1,69.6L826.7,69.9L829.4,70.0L832.6,70.2L835.6,69.5L838.7,68.6L841.8,68.3L844.7,67.7L847.7,67.4L850.7,67.0L852.6,65.6L854.2,63.7L857.4,63.3L860.4,64.8L863.5,65.5L866.6,65.8L869.6,66.7L872.7,66.7L875.5,68.3L877.9,68.3L880.3,68.3L882.6,69.1L880.3,67.5L879.0,64.9L877.4,63.6L875.5,62.8L875.0,59.7L875.5,56.6L878.3,55.5L880.2,53.0L882.6,51.1L885.2,51.1L887.9,51.2L890.6,51.6L893.2,50.7L894.7,52.3L894.8,54.8L896.0,56.6L895.5,59.3L894.6,62.0L895.0,64.9L895.1,67.9L894.5,70.7L893.2,73.3L895.6,75.0L898.5,75.4L899.3,73.4L900.1,71.3L900.3,69.1L901.5,66.5L900.8,63.4L902.1,60.7L902.4,58.6L902.5,56.3L903.8,54.5L906.2,54.0L908.6,54.8L910.9,54.5L913.1,55.7L914.5,57.8L917.2,57.5L919.1,55.4L921.6,54.5L922.7,52.3L924.7,50.7L925.1,48.2L926.6,50.3L928.7,51.8L930.4,53.6L932.8,52.1L934.6,50.1L935.7,47.3L938.3,46.2L940.8,44.6L943.7,44.6L946.4,44.0L946.4,41.9L949.0,40.2L952.0,40.9L955.0,41.3L957.8,40.7L960.5,39.4L963.4,39.1L966.1,37.8L969.0,37.6L971.8,36.9L974.7,37.7L977.7,37.1L980.6,36.4L983.6,36.5L986.6,37.1L989.5,35.9L992.4,35.6L995.1,35.3L997.3,33.2L999.9,32.4L1002.8,32.9L1005.4,32.2L1007.7,30.6L1009.9,32.0L1012.1,33.5L1014.6,34.1L1017.3,34.3L1020.1,33.4L1023.0,33.5L1025.8,34.8L1028.6,33.8L1031.4,34.8L1033.4,36.5L1036.3,35.8L1038.1,37.8L1040.3,39.0L1038.7,41.5L1036.4,43.4L1035.0,46.1L1032.2,45.1L1029.7,46.6L1027.0,47.0L1024.3,46.9L1026.2,46.9L1027.9,47.8L1031.0,47.2L1034.1,47.0L1037.2,49.2L1040.3,48.2L1043.0,47.7L1045.6,49.1L1048.3,47.4L1050.9,48.1L1053.6,49.3L1056.2,48.2L1059.2,48.3L1062.1,47.2L1065.1,47.1L1068.0,46.9L1071.0,47.8L1074.0,47.8L1076.0,48.7L1077.5,50.3L1080.2,50.4L1082.8,51.3L1085.6,51.2L1088.1,52.4L1090.3,53.8L1092.7,54.4L1095.2,54.5L1096.3,56.4L1097.0,58.6L1099.8,57.4L1102.7,56.2L1105.9,56.6L1108.6,57.5L1111.1,55.2L1113.9,56.7L1116.5,56.1L1119.3,56.5L1122.2,55.8L1125.0,55.2L1127.8,57.2L1130.7,56.6L1132.6,54.6L1134.2,52.4L1137.2,51.6L1140.2,51.8L1143.1,53.0L1146.0,53.5L1149.0,52.4L1151.9,53.2L1154.8,54.4L1157.8,54.5L1160.6,55.8L1163.7,55.8L1166.7,55.8L1169.7,56.1L1172.3,56.9L1175.1,57.0L1177.7,58.1L1180.3,59.1L1183.2,59.6L1186.0,59.1L1188.8,59.4L1191.7,59.6L1194.5,58.6L1196.9,60.4L1200.1,59.7L1202.7,61.1L1205.1,62.8L1207.4,64.4L1208.7,67.0L1211.4,66.0L1214.4,66.6L1217.1,65.0L1220.0,64.9L1222.8,64.5L1225.4,63.6L1228.1,63.9L1230.8,63.6L1233.5,63.7L1236.5,64.3L1239.3,62.3L1242.3,62.8L1243.6,64.7L1244.1,67.0L1246.4,65.8L1249.0,65.3L1251.2,63.7L1253.8,63.3L1256.5,63.9L1259.2,64.3L1261.8,63.7L1264.8,63.7L1267.6,64.6L1270.5,65.0L1273.4,65.2L1276.0,67.0L1276.0,82.9L1274.1,83.8L1272.5,85.0L1269.8,85.3L1267.1,85.0L1268.3,87.5L1270.9,88.3L1272.9,89.8L1274.2,92.2L1273.2,93.5L1272.5,95.1L1269.5,94.4L1266.8,96.4L1263.9,96.1L1261.0,96.0L1258.3,97.2L1255.8,98.8L1252.9,99.1L1250.3,100.3L1247.6,101.4L1245.4,102.7L1242.9,103.5L1240.6,104.7L1237.7,105.1L1234.9,104.2L1232.0,104.1L1229.2,104.6L1226.4,104.7L1224.1,105.7L1221.6,104.9L1219.3,105.6L1217.5,107.8L1216.5,110.4L1215.7,113.1L1213.9,113.4L1212.2,114.4L1212.7,117.1L1214.5,119.1L1215.7,121.5L1214.1,123.7L1212.2,125.7L1211.1,128.3L1208.1,128.8L1206.5,130.9L1205.1,133.2L1202.7,134.3L1200.9,136.3L1199.1,138.2L1197.6,140.3L1194.9,140.4L1193.4,142.4L1192.2,139.6L1191.2,136.8L1189.9,134.0L1189.2,131.3L1189.8,128.5L1189.9,125.7L1189.2,122.7L1189.9,120.0L1190.9,117.3L1192.1,114.9L1194.5,113.9L1196.3,111.6L1199.4,111.1L1201.6,109.3L1203.3,106.8L1205.5,104.2L1208.7,103.5L1211.2,102.8L1213.5,101.8L1215.2,99.5L1217.5,98.4L1218.2,96.3L1219.3,94.3L1216.3,94.2L1213.6,95.4L1210.7,96.1L1207.9,96.8L1205.1,97.6L1202.5,97.3L1199.8,96.7L1197.1,98.0L1194.5,97.6L1192.4,99.7L1191.5,102.7L1189.9,105.2L1187.4,106.8L1184.5,106.3L1182.2,108.5L1179.5,108.9L1176.8,108.9L1174.2,107.9L1171.4,108.0L1168.9,106.9L1166.1,106.8L1163.3,107.8L1160.4,106.6L1157.6,107.4L1154.8,106.6L1151.9,107.2L1149.4,108.5L1146.5,107.4L1144.1,109.5L1141.3,108.9L1138.5,110.1L1136.5,112.4L1134.2,114.4L1132.7,116.5L1130.5,117.9L1129.3,120.3L1126.7,121.2L1125.4,123.6L1123.2,125.7L1120.2,125.8L1117.6,126.9L1120.4,127.0L1122.5,129.6L1125.4,129.9L1128.0,129.6L1130.7,129.0L1133.0,130.3L1135.8,130.6L1137.8,132.8L1139.4,134.8L1139.2,137.4L1138.2,139.6L1137.4,141.9L1136.5,144.2L1136.0,146.6L1134.9,148.9L1134.8,151.3L1135.3,153.7L1134.1,156.0L1131.5,156.9L1131.0,159.9L1128.9,161.3L1126.6,163.2L1124.0,164.9L1122.0,167.2L1120.0,169.7L1117.5,170.4L1115.9,172.8L1113.4,173.5L1111.7,175.6L1109.4,176.8L1107.0,176.9L1104.7,177.6L1102.3,177.6L1101.3,178.9L1098.9,179.8L1097.7,182.2L1097.8,184.4L1097.0,186.4L1094.4,186.9L1092.2,188.5L1089.9,189.8L1092.1,191.8L1092.8,194.8L1094.9,196.3L1095.4,198.9L1096.7,201.1L1096.6,204.2L1096.7,207.4L1095.4,208.4L1094.2,209.4L1091.7,210.6L1089.3,212.2L1086.4,212.0L1086.6,209.6L1086.0,207.4L1087.3,205.4L1086.6,203.1L1087.1,201.1L1085.2,199.6L1083.1,198.8L1081.1,197.7L1081.4,195.3L1082.5,193.1L1082.1,190.6L1080.5,189.2L1078.6,188.5L1076.1,190.3L1073.2,190.6L1070.4,191.4L1069.4,192.8L1067.9,193.5L1068.0,191.4L1068.8,189.4L1068.6,187.2L1070.4,185.2L1068.7,184.1L1066.9,184.7L1065.2,186.4L1062.9,187.2L1061.6,189.3L1059.6,190.3L1057.9,191.9L1055.5,191.9L1055.5,194.8L1056.7,197.1L1059.1,197.7L1060.8,198.4L1061.6,200.2L1063.8,198.8L1066.2,197.7L1069.4,197.5L1072.2,199.4L1070.4,201.5L1067.6,202.7L1065.1,204.4L1062.8,206.3L1060.9,208.6L1062.1,211.5L1064.4,213.6L1065.8,216.0L1066.2,218.7L1067.3,221.4L1069.7,222.9L1069.0,224.7L1069.7,226.6L1067.2,227.4L1065.1,229.1L1068.0,228.9L1070.4,230.8L1070.7,233.9L1069.4,236.7L1068.1,238.7L1066.7,240.5L1065.1,242.1L1063.8,243.9L1063.5,246.2L1062.3,248.0L1060.8,251.0L1058.0,252.6L1056.1,254.0L1054.0,255.3L1052.7,257.6L1049.7,258.7L1047.4,261.0L1044.7,261.6L1042.1,262.6L1039.3,263.6L1036.8,265.2L1034.5,265.3L1032.5,266.4L1030.4,266.8L1030.5,269.2L1029.0,271.0L1027.8,268.6L1027.2,266.0L1024.5,265.4L1021.9,265.6L1019.2,267.2L1016.5,268.9L1014.8,270.3L1014.8,273.1L1013.0,274.4L1013.0,277.1L1014.8,279.1L1015.5,281.5L1017.7,283.3L1019.3,285.7L1020.8,288.2L1021.1,291.1L1023.6,292.7L1024.3,295.3L1024.6,298.1L1025.6,300.8L1025.4,303.7L1023.7,305.9L1023.6,308.7L1021.5,310.0L1019.8,312.1L1017.3,312.5L1015.7,314.0L1015.5,316.3L1013.2,318.7L1010.2,319.6L1010.0,316.9L1009.8,314.2L1007.4,312.8L1004.8,311.7L1004.2,309.3L1002.5,307.7L1001.3,305.8L999.0,303.5L996.0,302.9L996.6,301.1L995.6,299.5L993.9,298.7L992.4,299.9L991.5,302.1L992.2,304.4L991.7,306.6L990.9,309.1L991.2,311.8L990.0,314.2L990.3,316.0L991.7,317.1L992.5,320.1L994.2,322.6L995.6,324.7L996.0,327.2L998.2,328.5L1000.2,330.1L1000.9,332.6L1002.9,334.0L1004.1,336.0L1003.9,338.5L1005.5,340.9L1004.8,343.5L1006.0,345.4L1006.8,347.6L1007.3,349.8L1004.8,350.6L1003.3,348.8L1000.9,348.4L999.5,346.4L997.4,345.0L996.0,342.7L994.8,340.0L994.2,337.2L994.2,335.1L993.2,333.1L993.5,330.9L992.7,329.1L991.4,327.6L990.3,325.3L988.3,324.0L986.4,322.6L986.8,319.4L986.4,316.3L986.7,314.1L988.1,312.3L987.8,310.0L987.1,308.0L988.1,305.7L987.1,303.7L986.5,301.6L986.2,299.4L985.4,297.4L984.0,295.5L984.5,293.3L984.3,291.1L984.4,288.9L983.6,286.9L982.0,285.8L980.0,285.7L977.6,287.5L975.8,289.9L974.0,289.7L972.2,289.0L972.8,287.0L971.8,284.7L972.9,282.8L971.8,280.8L972.4,278.4L971.2,276.5L970.8,274.0L969.5,272.3L967.6,271.0L966.0,268.4L964.1,266.0L964.0,263.8L963.0,261.8L960.9,262.0L958.8,262.6L956.0,263.5L953.5,264.7L950.6,266.3L947.4,266.0L946.0,267.8L945.7,270.2L943.9,272.8L941.0,273.5L939.8,276.0L938.1,278.1L935.7,279.4L933.7,281.7L931.7,284.1L929.7,286.5L927.4,288.2L925.1,289.9L924.1,291.7L922.3,292.4L922.2,294.8L921.4,297.1L922.3,299.5L921.3,301.5L922.2,303.9L920.8,305.8L919.9,308.2L921.1,310.5L920.8,312.9L920.0,315.5L918.0,317.1L916.5,317.9L915.2,319.2L913.9,320.6L912.7,322.1L910.9,320.2L909.1,318.4L909.4,315.7L908.0,313.5L906.5,311.4L906.7,308.7L905.6,306.3L904.8,303.7L903.1,301.6L901.8,299.3L901.3,296.7L901.4,294.1L900.2,292.1L899.2,290.0L898.5,287.8L898.4,285.4L897.3,283.2L896.5,281.0L896.4,278.6L897.1,275.7L896.4,273.0L896.0,270.2L896.1,268.0L895.3,266.0L893.9,268.1L891.3,268.1L888.9,269.4L886.7,267.4L885.3,264.4L882.6,263.1L884.8,262.5L886.1,260.6L884.0,259.1L881.9,257.6L879.6,256.3L877.2,255.5L875.7,253.5L874.4,251.3L871.9,250.4L869.3,250.4L866.6,250.5L864.0,251.4L861.3,250.4L858.6,249.5L856.0,250.5L852.9,251.3L850.0,250.4L847.1,249.7L844.1,249.6L841.1,248.8L839.8,246.0L839.3,243.0L837.1,243.9L834.7,243.8L832.1,244.6L829.4,244.6L828.1,242.6L826.4,241.2L824.1,240.9L823.0,238.3L820.0,237.8L818.8,235.4L818.3,232.5L816.3,230.4L814.2,229.0L811.7,228.7L810.2,230.4L808.1,230.4L808.2,232.7L809.6,234.5L809.9,236.7L810.8,239.3L812.2,241.5L814.5,243.0L815.2,244.6L815.9,246.3L817.4,249.1L818.1,252.2L820.0,250.6L820.5,248.0L821.4,250.4L820.9,253.0L822.3,255.5L824.7,255.1L827.0,254.8L829.4,254.7L832.0,253.2L834.6,251.8L836.5,249.2L837.2,247.6L837.9,245.9L838.6,248.0L837.9,250.1L838.3,252.2L839.8,254.5L841.8,256.4L844.2,256.7L846.4,257.6L847.5,260.4L850.0,261.8L848.2,263.5L848.0,266.0L847.1,268.1L845.1,270.3L842.9,272.3L843.0,274.8L842.9,277.3L840.1,278.2L838.3,280.7L836.5,282.0L835.2,284.2L832.9,284.8L829.7,285.1L827.3,288.0L824.1,288.2L821.9,289.6L820.1,291.6L817.1,291.3L815.2,293.2L812.8,294.4L810.2,295.5L808.1,297.4L805.9,298.5L804.0,300.2L801.3,300.1L799.3,301.6L796.9,302.2L794.7,303.4L792.2,302.9L791.0,300.2L790.4,297.4L790.1,295.3L790.3,293.1L789.3,291.1L788.3,289.1L788.0,287.1L788.6,284.8L787.7,282.4L786.3,280.4L784.0,279.1L783.3,276.5L782.3,274.2L781.0,272.0L779.2,270.3L778.0,268.1L776.5,265.5L777.1,262.2L775.5,259.7L773.9,257.7L773.1,255.0L770.9,253.4L769.3,251.6L769.1,248.9L767.4,247.1L765.9,245.2L764.9,242.9L763.4,240.9L762.1,238.8L761.1,236.8L762.6,234.5L761.3,232.5L761.4,234.8L759.8,236.5L759.6,238.8L759.2,239.6L757.2,237.7L755.7,235.4L754.8,232.7L753.2,230.4L753.3,227.8L752.5,225.4Z M0.0,67.0L3.0,67.7L6.0,68.3L8.2,71.3L11.7,70.4L14.2,72.5L17.1,72.3L19.7,74.7L22.8,73.5L25.6,74.1L28.4,75.4L30.8,77.3L34.2,76.9L36.5,79.2L34.3,80.6L32.4,82.4L30.6,84.5L28.4,85.9L25.7,86.0L23.0,85.8L20.4,84.4L17.7,84.6L15.1,83.8L12.6,82.3L9.9,81.9L7.1,81.7L4.7,82.1L2.2,81.5L0.0,82.9Z M1143.1,400.9L1143.8,403.6L1145.6,405.8L1146.6,408.4L1147.9,410.8L1147.6,413.4L1147.7,416.0L1150.3,417.5L1153.0,418.9L1153.1,421.9L1153.3,424.9L1155.5,427.5L1155.5,430.5L1155.5,433.6L1157.0,435.4L1159.2,436.2L1160.8,437.7L1162.9,439.5L1165.0,441.3L1166.1,444.0L1167.8,446.5L1169.9,448.5L1172.1,450.3L1172.5,452.7L1174.2,454.4L1175.0,456.6L1177.4,458.1L1178.9,460.4L1180.3,462.9L1180.0,465.6L1180.9,468.2L1180.8,470.9L1182.1,473.4L1181.0,475.8L1181.2,478.6L1180.1,481.1L1180.3,483.8L1179.3,486.5L1178.6,489.3L1178.5,492.2L1176.9,494.2L1176.0,496.9L1173.9,498.5L1172.4,501.1L1172.0,504.2L1170.7,506.9L1170.2,508.9L1169.6,511.0L1169.7,513.1L1167.2,513.2L1165.1,514.9L1162.6,514.8L1161.0,517.0L1158.8,518.3L1156.6,519.4L1153.5,518.8L1151.2,516.5L1149.1,518.0L1146.6,518.6L1144.4,517.4L1142.1,516.6L1139.5,516.5L1136.8,515.0L1134.2,513.1L1133.4,510.8L1132.5,508.6L1132.5,506.0L1130.0,506.5L1127.8,505.2L1127.8,502.7L1128.9,500.6L1128.4,502.8L1126.4,503.5L1126.0,500.5L1125.8,497.4L1126.1,494.3L1125.0,496.6L1123.1,498.1L1122.0,500.4L1120.0,501.8L1118.3,501.8L1116.1,499.8L1115.2,496.8L1113.7,494.3L1111.2,492.6L1108.6,491.3L1105.9,490.1L1103.2,490.0L1100.5,489.4L1097.9,488.8L1095.2,488.4L1092.5,488.9L1090.0,490.4L1087.4,491.0L1084.6,491.4L1082.6,493.3L1080.2,494.3L1077.5,494.3L1075.7,495.7L1075.7,498.1L1072.6,497.8L1069.5,498.6L1066.4,498.2L1063.3,498.1L1061.1,499.8L1058.3,500.7L1056.2,502.7L1053.9,502.4L1051.5,503.5L1049.2,502.7L1047.2,501.5L1045.6,499.7L1045.5,497.1L1046.0,494.7L1046.7,492.3L1048.1,490.1L1046.6,487.6L1045.6,484.8L1045.6,481.7L1043.9,479.2L1042.9,476.5L1042.8,473.4L1042.1,470.5L1041.3,467.7L1040.3,465.0L1040.4,461.8L1040.3,458.7L1040.2,456.0L1040.2,453.3L1041.3,450.8L1042.1,448.2L1042.8,447.4L1044.9,446.3L1047.3,445.7L1049.3,444.3L1050.9,442.4L1054.1,442.5L1057.0,441.5L1059.8,439.8L1062.6,440.3L1065.0,438.7L1067.6,437.7L1069.2,435.9L1069.4,433.0L1071.5,431.5L1072.0,429.3L1071.1,427.3L1073.2,428.8L1075.7,428.5L1075.3,426.3L1076.4,424.3L1077.3,421.9L1079.5,420.7L1081.1,418.9L1082.8,417.4L1084.8,416.4L1086.4,414.7L1088.0,416.3L1089.6,417.9L1091.7,418.9L1094.3,419.8L1097.0,418.9L1096.4,416.0L1097.7,413.5L1098.9,410.4L1101.3,408.4L1103.0,406.3L1105.9,406.3L1107.6,404.2L1105.9,403.0L1108.6,403.7L1110.9,406.0L1114.0,405.7L1116.5,407.2L1118.6,408.2L1120.8,406.9L1122.9,407.2L1120.9,409.5L1120.0,412.6L1120.4,415.0L1119.7,417.1L1118.3,418.9L1120.0,420.4L1122.3,420.9L1123.6,423.1L1126.2,423.9L1128.0,426.5L1130.7,427.3L1133.0,427.2L1135.2,427.8L1137.1,429.4L1138.4,426.7L1138.4,423.7L1139.5,421.0L1140.1,418.4L1140.8,415.8L1140.2,413.1L1140.2,410.5L1141.3,407.8L1140.3,404.8L1141.3,402.1L1143.1,400.9Z M1150.9,527.0L1152.8,528.4L1155.3,527.4L1157.3,528.6L1160.1,527.1L1163.3,527.4L1163.1,530.1L1163.3,532.8L1161.7,534.9L1160.8,537.4L1158.1,537.2L1155.5,538.3L1155.0,535.7L1153.0,534.1L1152.8,531.5L1152.2,529.1L1150.9,527.0Z M1250.1,500.2L1251.7,502.5L1253.8,504.1L1255.8,506.0L1258.0,507.8L1260.0,509.8L1260.2,512.1L1261.8,513.6L1264.2,513.6L1266.5,512.5L1268.9,513.6L1270.7,514.0L1270.1,516.1L1269.3,518.2L1268.6,520.3L1267.2,521.5L1265.4,521.5L1265.1,523.2L1265.0,524.9L1262.8,526.3L1261.7,529.1L1259.3,530.3L1257.2,529.1L1258.7,527.0L1259.0,524.5L1257.6,522.8L1255.4,522.5L1254.0,520.7L1254.9,518.4L1256.9,517.3L1256.9,514.6L1257.2,511.9L1256.3,510.0L1255.4,508.1L1254.0,505.1L1251.2,503.5L1251.3,501.6L1250.1,500.2Z M1250.5,525.7L1252.8,526.7L1253.9,529.3L1255.8,530.7L1255.0,533.0L1252.8,534.0L1251.9,536.2L1251.2,537.8L1250.5,539.5L1247.7,540.1L1245.2,541.6L1244.5,543.8L1242.9,545.5L1243.0,547.9L1240.8,549.4L1238.8,551.3L1236.7,550.6L1234.5,550.8L1232.7,549.1L1230.1,550.2L1228.1,548.8L1228.9,545.8L1231.0,543.7L1233.2,542.6L1234.5,540.4L1236.4,538.7L1238.5,537.5L1240.6,536.2L1243.0,534.2L1245.2,532.0L1246.2,529.4L1247.6,527.0L1250.5,525.7Z M1102.3,359.4L1104.8,357.8L1107.6,357.7L1110.1,359.4L1113.0,359.8L1114.1,362.0L1113.4,364.3L1113.7,366.5L1114.9,368.4L1116.5,369.9L1118.1,368.1L1120.5,367.4L1121.8,365.3L1124.7,364.7L1127.1,362.8L1129.4,364.0L1131.6,365.6L1134.2,366.1L1136.1,366.1L1137.8,367.0L1140.1,368.2L1142.4,369.4L1144.9,370.3L1147.4,371.8L1150.2,372.4L1151.3,374.4L1153.5,375.1L1154.8,377.0L1157.5,378.4L1159.0,381.2L1160.2,383.1L1161.9,384.5L1161.3,386.4L1159.7,387.5L1160.9,388.9L1162.6,389.6L1164.7,391.3L1166.1,393.8L1167.5,396.6L1169.7,398.8L1172.1,400.5L1169.1,400.0L1166.1,399.2L1163.5,398.4L1160.8,398.0L1158.4,395.9L1157.3,392.9L1155.2,392.0L1154.2,389.4L1151.9,388.7L1150.3,387.6L1148.4,388.3L1147.1,389.9L1145.9,391.7L1144.1,392.7L1143.1,394.6L1140.5,393.8L1137.8,394.2L1135.4,393.4L1133.6,391.9L1132.5,389.6L1129.6,389.1L1127.1,390.8L1129.4,388.6L1130.0,385.4L1129.1,383.4L1127.9,381.5L1128.2,379.1L1125.5,378.6L1123.6,376.6L1120.8,376.0L1118.3,374.5L1116.1,374.2L1114.3,372.8L1112.2,372.0L1109.4,372.8L1108.7,369.9L1106.6,367.8L1108.9,367.0L1111.2,366.1L1108.3,366.1L1105.9,364.4L1104.7,361.4L1102.3,359.4Z M1024.3,349.8L1025.6,348.8L1026.8,347.7L1029.6,348.4L1032.1,349.8L1032.1,347.5L1032.5,345.2L1034.4,343.9L1036.2,342.6L1038.5,342.7L1039.3,340.5L1041.4,339.5L1042.1,337.2L1044.2,336.3L1045.7,334.5L1047.4,333.0L1049.1,331.1L1049.7,328.2L1052.0,326.7L1053.9,327.8L1055.2,329.7L1056.9,331.3L1058.5,333.0L1060.5,334.3L1058.3,335.7L1057.0,338.0L1056.2,339.8L1055.2,341.4L1056.4,343.3L1055.2,345.7L1056.2,347.7L1057.9,349.9L1059.8,351.9L1057.6,352.2L1055.5,353.1L1055.4,355.3L1054.3,357.2L1054.5,359.4L1052.1,360.1L1050.9,362.3L1051.0,364.5L1050.1,366.5L1050.2,368.6L1050.0,370.8L1049.2,372.8L1046.9,374.0L1044.5,373.2L1043.2,371.9L1042.1,370.3L1040.1,370.8L1038.5,369.5L1036.6,370.8L1034.3,370.7L1031.8,368.5L1028.6,368.2L1028.7,365.2L1027.9,362.3L1025.9,360.5L1024.3,358.2L1024.4,355.4L1025.3,352.6L1024.3,349.8Z M975.8,332.6L978.2,334.2L981.1,332.9L983.6,334.3L985.4,336.1L986.4,338.5L987.7,341.3L990.5,342.6L992.4,344.8L993.9,346.7L996.0,347.7L998.8,348.8L1001.1,350.7L1003.1,353.1L1003.5,355.4L1004.9,357.2L1005.6,359.4L1007.0,361.5L1008.4,363.6L1009.9,365.6L1011.8,367.1L1013.7,368.6L1013.3,371.5L1013.3,374.5L1014.1,377.5L1013.0,380.4L1010.7,380.7L1008.4,379.9L1007.1,377.4L1004.7,376.1L1001.9,375.4L1000.6,372.8L998.6,371.1L997.4,368.8L996.0,366.5L994.9,364.3L994.0,361.9L993.5,359.4L992.5,357.1L990.6,355.6L988.9,354.0L988.8,351.3L987.8,348.9L986.2,346.2L983.6,344.3L981.5,342.7L980.0,340.6L979.4,337.4L977.8,334.9L975.8,332.6Z M1010.9,384.5L1013.5,383.4L1015.5,381.2L1017.6,382.9L1020.3,382.5L1022.6,383.7L1025.3,384.0L1028.0,382.9L1030.7,382.9L1032.8,384.3L1035.5,383.2L1037.5,385.0L1039.8,385.9L1041.5,387.9L1043.8,388.7L1042.8,390.5L1043.5,392.5L1041.1,392.9L1038.8,392.6L1036.8,391.2L1033.8,390.5L1031.0,389.5L1027.9,390.0L1025.4,390.7L1023.0,390.1L1020.8,388.7L1018.2,387.8L1015.5,387.1L1013.6,385.0L1010.9,384.5Z M1063.3,350.6L1065.1,349.7L1066.9,350.6L1069.1,351.9L1071.4,352.6L1074.0,352.3L1076.6,352.2L1078.5,349.8L1081.1,349.4L1080.8,352.1L1079.3,354.4L1076.9,355.4L1074.5,354.5L1072.2,354.0L1069.2,354.5L1066.2,354.4L1065.5,357.3L1064.0,359.8L1066.3,359.9L1068.6,359.8L1070.8,359.3L1073.0,359.8L1075.0,358.6L1075.0,360.7L1072.3,361.0L1070.4,363.2L1068.6,364.4L1070.7,366.8L1071.5,369.9L1073.2,370.9L1074.0,372.8L1075.2,375.4L1074.7,378.3L1072.2,379.1L1070.9,377.9L1070.4,376.2L1069.4,374.6L1068.6,372.8L1068.4,370.0L1066.9,367.8L1066.4,369.8L1064.8,370.7L1064.9,373.5L1065.7,376.3L1065.1,379.1L1063.3,379.8L1061.6,379.1L1061.0,376.3L1061.3,373.5L1061.6,370.7L1059.9,369.7L1059.1,367.8L1060.0,365.3L1060.3,362.6L1061.6,360.3L1062.0,357.7L1062.6,355.2L1062.8,352.9L1063.3,350.6Z M1065.1,278.6L1068.2,278.0L1071.1,279.0L1071.4,281.6L1071.8,284.3L1071.5,286.9L1069.4,288.5L1069.0,291.1L1069.5,293.8L1069.4,296.6L1071.8,296.7L1074.0,297.8L1075.7,299.8L1077.5,301.6L1077.5,303.3L1075.8,302.0L1074.0,300.8L1072.1,299.0L1069.7,298.3L1067.9,298.0L1066.2,298.3L1065.5,295.3L1063.3,293.2L1063.0,290.5L1063.0,287.8L1064.8,286.9L1064.1,284.1L1064.8,281.4L1065.1,278.6Z M1070.4,326.7L1072.6,324.9L1074.5,322.8L1075.7,320.0L1077.6,319.0L1079.7,318.2L1081.1,316.3L1082.8,315.0L1083.8,317.6L1084.5,320.4L1086.4,322.6L1086.2,324.7L1086.0,326.8L1085.7,328.8L1084.1,329.6L1082.8,330.9L1081.9,329.2L1082.1,327.2L1079.5,327.0L1077.5,328.8L1076.6,326.7L1077.5,324.6L1075.3,325.2L1073.0,325.3L1071.1,326.7L1070.4,326.7Z M1081.1,303.7L1082.7,305.5L1083.5,307.9L1081.7,310.3L1081.1,313.3L1080.9,311.2L1079.3,310.0L1079.4,307.0L1078.9,304.1L1081.1,303.7Z M1070.4,306.6L1072.8,306.3L1074.7,307.9L1074.6,310.2L1075.7,312.1L1075.4,315.0L1074.0,317.5L1072.2,315.0L1071.2,313.6L1070.4,312.1L1069.5,309.4L1070.4,306.6Z M1053.4,320.9L1055.0,318.5L1057.2,316.6L1057.6,313.2L1059.7,311.3L1061.6,309.1L1061.4,311.1L1060.9,312.9L1060.0,315.6L1057.0,316.5L1056.5,319.6L1054.5,321.3L1053.4,320.9Z M1065.1,299.9L1066.5,301.6L1068.6,301.6L1067.6,304.5L1066.2,302.4L1065.1,299.9Z M1139.5,182.6L1140.1,185.3L1140.9,187.9L1141.3,190.6L1139.8,192.5L1139.7,195.3L1137.8,196.9L1138.2,199.4L1137.8,201.9L1137.9,204.3L1137.1,206.5L1135.6,207.5L1134.2,208.6L1133.2,207.4L1132.4,209.0L1130.7,209.4L1129.6,210.7L1127.2,211.5L1124.7,211.1L1122.9,212.4L1121.6,214.2L1120.0,215.7L1119.2,213.5L1117.2,212.4L1115.1,211.6L1113.0,211.1L1110.6,213.0L1107.6,212.8L1105.0,213.6L1102.3,214.1L1102.3,212.0L1104.2,210.8L1105.7,208.9L1107.6,207.8L1110.4,208.4L1113.0,207.4L1115.1,207.6L1117.2,206.4L1119.3,206.9L1121.2,204.5L1122.9,201.9L1124.0,200.6L1124.7,199.0L1125.4,201.5L1126.7,199.7L1128.9,199.8L1130.6,197.7L1132.5,195.6L1133.1,193.6L1134.4,191.7L1134.2,189.3L1134.0,187.5L1134.2,185.6L1135.3,183.5L1137.4,183.1L1139.5,182.6Z M1135.3,182.2L1137.2,182.6L1138.5,181.0L1137.8,178.0L1140.3,179.7L1143.2,179.6L1145.9,180.1L1148.8,179.0L1150.2,175.8L1153.0,174.7L1151.9,171.7L1149.8,170.0L1147.2,170.4L1144.9,169.7L1143.0,167.5L1140.6,165.9L1141.1,168.2L1140.2,170.5L1138.9,172.3L1138.8,174.7L1137.0,174.5L1135.3,175.1L1134.4,176.9L1134.2,178.9L1134.3,180.7L1135.3,182.2Z M1102.0,214.1L1104.0,213.9L1105.2,215.7L1104.9,217.8L1103.8,219.8L1104.1,222.0L1104.0,224.0L1102.3,224.9L1100.9,225.8L1100.4,223.8L1099.5,222.0L1099.8,219.5L1098.3,218.7L1097.7,217.0L1099.8,215.3L1102.0,214.1Z M1107.6,214.5L1109.4,212.9L1111.8,213.7L1113.7,212.4L1115.1,214.5L1113.0,216.6L1111.5,218.2L1109.4,218.7L1107.6,216.6L1107.6,214.5Z M1143.8,128.6L1144.5,131.1L1145.1,133.6L1145.6,136.1L1145.5,138.8L1145.9,141.4L1145.5,144.0L1145.6,146.6L1147.8,148.8L1150.2,150.8L1147.9,152.4L1146.1,154.4L1144.9,157.1L1146.0,159.1L1146.6,161.3L1144.7,161.5L1143.8,163.4L1142.3,162.6L1141.3,161.3L1141.2,158.1L1141.3,155.0L1141.7,152.2L1141.0,149.4L1141.7,146.6L1141.5,143.8L1141.1,141.0L1140.6,138.2L1140.2,136.1L1141.1,134.1L1141.3,132.0L1142.5,130.3L1143.8,128.6Z M1068.6,250.1L1068.7,252.3L1070.4,253.4L1069.8,256.1L1068.8,258.7L1067.0,261.0L1066.9,263.9L1066.1,261.7L1064.0,261.0L1063.2,258.7L1064.0,256.4L1065.6,254.0L1066.9,251.3L1068.6,250.1Z M1029.7,271.9L1031.4,274.4L1030.4,277.5L1027.9,279.4L1025.9,278.4L1023.6,278.6L1023.4,276.5L1023.3,274.4L1025.7,274.3L1027.9,273.7L1029.7,271.9Z M921.6,315.0L923.1,316.7L924.8,318.2L925.8,320.5L926.5,323.2L927.9,325.5L927.8,327.9L926.2,329.7L924.7,331.2L922.6,330.9L920.9,329.2L920.8,326.7L920.6,323.6L920.8,320.5L921.5,317.8L921.6,315.0Z M619.6,146.6L622.6,145.9L625.6,145.4L628.4,145.2L630.9,144.1L633.2,143.3L635.6,142.8L638.0,143.3L640.2,142.1L642.6,141.6L640.8,140.3L643.2,138.4L644.0,135.3L641.7,134.1L639.1,134.0L638.0,131.5L637.8,129.5L636.9,127.8L634.3,127.2L632.7,124.8L631.5,123.3L630.9,121.5L629.1,121.5L627.4,121.5L629.1,119.4L629.7,116.9L630.9,114.8L628.3,113.6L625.6,114.4L623.8,114.8L624.9,112.4L626.7,110.6L623.5,110.9L620.3,110.6L618.5,112.6L617.8,115.2L617.9,117.3L618.5,119.4L618.0,121.4L617.8,123.6L619.4,122.5L621.0,123.6L620.3,126.5L623.0,126.6L625.6,126.1L625.6,128.4L627.4,129.9L627.4,132.4L624.8,133.3L622.0,132.8L623.3,134.2L623.1,136.1L621.1,137.3L619.6,139.1L621.8,139.2L623.8,140.3L625.8,139.7L627.4,141.2L625.2,141.1L623.1,141.6L621.6,143.4L619.6,144.7L617.8,146.2L619.6,146.6Z M616.7,137.4L616.7,134.6L616.0,132.0L616.8,129.5L618.5,127.8L617.9,125.7L616.0,124.8L613.8,124.1L611.4,124.4L609.5,125.9L607.9,127.8L605.4,129.3L602.6,129.0L602.6,131.0L603.3,132.8L604.0,134.4L604.3,136.1L602.4,136.4L601.5,138.2L602.5,139.9L604.3,140.3L606.9,139.2L609.6,139.1L612.0,138.4L614.3,137.5L616.7,137.4Z M551.9,81.7L554.7,80.6L557.4,79.4L560.0,77.9L562.4,78.1L564.4,79.0L566.0,80.8L568.9,80.6L571.3,78.7L574.2,78.8L576.4,77.3L578.8,77.1L581.3,77.5L582.5,79.8L585.4,79.4L586.6,81.7L587.7,83.2L589.4,83.8L587.5,86.0L584.8,87.1L582.0,87.1L579.6,88.8L576.8,89.1L574.2,90.1L571.2,90.4L568.3,90.4L565.3,89.6L562.7,90.0L560.3,89.6L557.9,88.4L558.4,86.6L560.0,85.9L557.6,85.6L555.3,84.8L552.9,84.2L555.4,82.7L558.2,82.5L556.1,82.5L553.9,82.7L551.9,81.7Z M677.0,23.0L679.2,22.3L681.4,22.6L683.6,22.0L685.9,22.1L688.0,20.9L690.1,19.8L692.6,19.5L694.7,20.9L697.0,19.8L699.3,18.6L701.4,20.6L704.2,21.1L706.3,19.5L708.9,19.7L711.4,20.3L713.9,19.5L716.3,18.7L718.8,19.1L721.3,18.2L723.8,18.6L726.6,19.1L728.8,17.2L730.6,17.7L732.7,17.9L733.7,20.1L732.4,21.7L730.1,21.7L728.8,23.4L726.9,23.0L725.0,23.7L723.1,23.9L720.5,24.7L718.6,26.9L716.1,27.5L713.7,26.3L711.4,25.5L708.9,26.0L709.9,27.4L710.9,28.9L712.4,30.1L714.2,29.3L711.8,29.5L709.5,29.1L707.2,29.8L705.3,31.4L702.7,32.2L700.7,30.3L699.5,32.5L698.3,34.8L695.4,34.6L692.9,33.1L690.3,32.0L687.6,31.4L686.6,28.9L684.1,28.5L682.4,26.6L681.7,24.1L679.6,22.3L677.0,23.0Z M820.5,56.6L822.1,57.8L824.1,58.1L826.2,57.8L827.6,59.5L830.1,59.6L831.7,61.5L832.3,59.1L834.5,58.3L836.0,56.7L838.0,58.4L840.0,59.9L837.9,60.4L836.4,58.6L835.3,56.5L836.5,54.5L834.6,54.3L834.4,52.2L834.9,50.7L834.7,49.0L836.5,46.9L838.3,44.7L840.8,43.2L843.6,44.0L845.6,45.3L848.1,45.3L849.0,43.6L849.0,41.4L850.1,39.7L852.2,40.1L854.2,39.8L856.7,40.7L859.4,41.1L861.9,40.2L863.8,38.2L866.3,37.9L868.4,36.4L870.6,37.5L872.5,35.8L874.7,36.6L876.9,36.6L879.3,36.5L880.8,34.3L878.6,34.9L876.3,34.2L874.1,34.1L871.9,33.5L869.3,34.5L866.6,34.0L864.9,32.6L863.0,32.0L861.0,32.1L858.8,34.2L855.8,34.4L853.4,35.7L850.7,36.4L848.9,38.1L846.6,37.9L844.6,39.3L842.9,41.0L840.5,42.1L838.3,40.6L836.4,42.4L835.5,44.8L833.9,47.1L831.2,46.9L828.7,47.9L826.1,48.4L824.5,50.7L822.3,52.4L822.3,54.9L820.5,56.6Z M978.3,24.3L980.7,23.7L982.8,22.3L985.2,21.9L987.6,21.6L990.1,22.8L992.4,21.4L994.7,23.0L997.3,22.1L999.1,24.3L1001.9,24.0L1004.5,23.5L1006.6,25.1L1007.7,27.6L1010.2,28.1L1007.5,27.9L1005.7,30.1L1003.7,29.3L1003.4,26.5L1001.3,25.7L998.9,25.3L996.9,26.7L994.9,28.2L992.4,28.1L990.1,27.1L987.6,27.4L985.7,26.7L984.4,25.2L983.5,23.4L981.0,24.6L978.3,24.3Z M407.6,96.8L404.9,97.1L402.2,96.4L399.6,95.7L397.0,95.1L394.7,95.1L392.8,93.9L391.3,91.8L388.8,91.9L386.6,92.0L384.6,90.9L382.5,91.6L380.5,90.9L379.4,88.8L377.6,87.4L376.0,85.9L373.9,86.3L371.7,85.6L369.9,83.9L368.2,86.1L365.6,86.9L363.5,87.0L361.5,85.9L361.9,83.9L363.3,82.5L365.2,84.3L367.4,85.4L369.6,84.0L370.8,81.9L371.6,79.4L373.1,81.8L375.7,82.5L375.1,80.4L376.5,78.9L378.1,78.0L379.3,76.7L381.0,75.3L380.6,73.1L379.6,71.1L377.5,71.2L375.5,70.2L374.5,68.0L372.3,68.0L371.4,70.6L369.5,71.1L368.3,69.0L366.8,67.0L364.6,67.9L362.5,66.5L361.4,64.4L359.8,62.8L357.6,62.8L355.6,63.7L353.7,62.4L351.5,62.5L349.5,63.7L347.4,63.3L344.8,63.2L342.8,65.0L340.5,64.4L338.5,62.8L336.6,64.7L334.1,63.9L332.1,62.9L332.1,60.2L330.6,58.8L328.3,59.7L326.1,60.7L324.2,61.2L322.6,59.9L321.2,58.5L320.8,56.6L320.2,54.6L321.5,53.2L320.1,52.1L319.7,50.3L322.3,49.8L323.9,47.5L325.1,49.8L327.6,49.5L329.3,50.9L330.9,48.6L333.2,46.9L336.0,46.9L338.5,48.2L338.2,50.1L339.1,51.8L338.8,54.1L336.7,54.5L338.9,54.8L340.3,56.6L342.4,55.4L344.7,56.2L345.5,53.9L347.4,52.4L349.3,50.4L350.9,48.2L352.5,47.0L354.4,47.3L355.9,45.5L358.2,46.4L359.9,45.3L361.4,46.8L363.0,48.0L365.1,48.2L365.2,50.2L366.8,51.1L369.6,50.8L372.4,50.9L374.1,52.0L375.4,53.5L375.7,55.7L378.5,55.8L381.0,57.1L383.9,57.2L386.3,58.6L388.5,60.0L390.2,62.1L392.7,62.1L395.2,62.0L396.3,63.7L397.0,65.6L399.1,65.2L400.5,67.0L401.8,68.9L402.3,71.2L404.0,69.9L405.9,69.4L408.0,70.0L409.4,71.5L411.1,72.5L412.9,73.3L414.8,74.5L416.9,74.0L419.1,74.5L420.0,76.7L420.6,78.5L419.3,79.9L418.0,80.9L416.5,81.3L414.1,81.8L412.0,83.2L410.2,81.2L407.6,81.3L405.7,80.6L404.4,79.0L402.2,77.8L400.5,79.6L402.2,81.6L404.6,82.1L405.5,84.5L407.6,85.9L408.1,87.9L407.5,90.0L409.1,91.4L411.2,90.9L409.2,90.5L407.6,91.7L405.8,90.9L404.1,92.2L402.5,90.6L400.5,91.4L398.8,90.5L397.0,90.1L398.7,92.1L399.2,94.8L401.6,94.6L404.1,94.4L405.3,96.6L407.6,96.8Z M226.8,67.0L228.7,68.0L230.7,68.5L231.7,70.7L233.3,68.8L235.4,68.8L237.5,69.1L239.6,70.6L241.9,69.5L243.9,68.9L244.4,66.4L246.2,65.6L248.5,66.2L249.2,68.8L250.8,70.2L253.0,69.1L255.2,68.3L257.8,69.9L260.6,68.6L263.1,67.5L265.8,67.0L266.9,64.4L269.6,64.1L271.5,63.1L273.6,62.6L275.8,63.7L278.2,64.1L277.4,62.4L276.5,60.7L274.4,59.2L272.0,59.8L269.8,59.2L267.6,58.6L265.4,58.5L264.4,56.3L266.1,54.7L265.8,52.4L263.8,53.2L261.6,52.9L259.5,51.8L258.7,49.4L256.2,50.5L253.4,50.2L250.7,50.1L248.1,50.7L246.6,49.1L244.7,48.7L242.6,48.8L241.3,50.6L239.1,50.5L237.5,51.5L236.1,50.0L234.1,49.8L232.1,50.2L230.4,49.0L228.0,48.8L226.0,50.2L223.9,51.5L221.5,51.1L219.3,51.2L217.1,51.1L216.4,53.3L216.2,55.7L218.4,56.2L218.9,59.1L221.1,59.5L223.1,59.1L225.3,59.1L226.8,57.4L225.5,59.5L224.4,61.8L222.1,61.3L219.8,60.7L221.5,62.8L222.0,65.6L224.2,67.3L226.8,67.0Z M193.2,54.5L195.2,55.6L196.0,57.9L198.2,59.0L200.3,57.8L202.9,57.0L205.6,57.5L208.4,58.3L210.9,56.6L213.0,55.8L214.0,53.6L216.5,53.0L218.7,54.5L220.8,53.4L221.5,51.1L222.3,49.3L223.2,47.7L225.1,47.7L226.8,48.2L226.1,45.8L223.8,45.2L221.8,44.3L219.8,45.2L218.3,43.8L216.9,42.2L214.6,42.6L212.7,43.0L211.3,45.0L209.1,44.4L206.5,43.6L203.8,44.3L201.0,43.5L198.5,44.8L197.5,47.7L195.1,49.2L194.3,50.8L193.2,52.4L193.2,54.5Z M223.3,39.8L223.9,42.0L226.6,42.1L227.3,44.2L229.6,44.2L231.6,43.4L233.0,41.4L234.7,43.8L237.5,44.0L239.7,44.1L241.9,43.4L244.7,43.4L246.2,40.9L248.3,39.9L250.6,40.3L252.6,42.1L255.2,42.7L257.0,40.8L259.4,40.7L261.8,41.7L264.1,40.6L263.0,39.3L262.3,37.7L259.4,36.4L256.7,38.0L254.5,38.0L253.8,35.1L251.7,35.2L249.2,34.8L247.0,35.9L244.6,37.0L242.2,36.2L239.8,36.2L237.5,36.4L235.7,37.4L234.2,39.1L232.0,38.5L229.7,38.7L228.2,37.2L226.8,35.6L225.6,38.2L223.3,39.8Z M274.7,51.1L277.5,50.7L279.9,52.4L280.9,55.3L283.6,56.6L285.8,55.9L287.1,58.3L289.1,58.4L290.7,57.1L292.5,56.3L294.2,55.3L294.7,52.6L296.0,50.3L295.4,48.5L294.0,47.2L292.4,46.5L290.6,46.5L287.9,46.0L285.3,46.9L282.7,47.7L280.0,46.9L277.9,46.8L275.9,46.8L276.0,49.2L274.7,51.1Z M298.8,48.2L300.7,49.3L301.9,51.2L303.8,52.4L304.8,54.5L307.2,56.0L309.9,56.7L310.9,54.5L312.3,52.7L314.1,51.3L316.4,52.6L319.0,52.4L318.1,49.7L317.9,46.9L315.6,45.6L313.5,44.1L310.7,43.7L308.4,45.2L305.8,46.0L303.9,47.9L301.3,47.4L298.8,48.2Z M294.2,35.6L296.4,36.8L298.8,37.0L301.1,37.7L303.4,38.3L306.1,38.8L307.5,41.3L309.8,41.9L311.9,43.1L314.4,43.2L316.9,43.4L319.5,43.1L321.8,44.5L324.1,44.8L325.5,43.1L326.9,41.6L328.0,43.5L330.3,43.8L331.7,45.3L334.3,45.0L336.7,44.0L339.6,44.0L341.8,46.0L344.1,44.5L346.7,45.0L349.2,44.0L351.3,42.1L353.8,42.2L356.2,41.9L355.0,39.3L352.7,37.7L349.7,37.2L347.6,39.5L345.4,37.9L342.9,36.9L341.4,35.6L340.1,34.1L338.3,33.2L335.3,33.3L333.2,35.6L331.0,34.0L328.3,34.5L326.0,33.4L323.5,33.9L320.7,34.4L319.0,36.9L316.6,36.0L314.5,34.6L312.3,33.0L309.8,33.6L307.3,32.5L304.8,33.5L303.9,35.8L302.3,37.0L299.9,37.1L298.0,36.7L296.0,36.3L294.2,35.6Z M319.0,35.6L320.7,33.2L323.5,33.2L325.7,33.3L327.9,33.6L329.2,35.5L330.7,37.1L332.2,38.8L334.7,37.9L336.7,36.0L339.2,37.5L342.1,37.6L344.8,39.0L347.4,37.4L349.3,36.7L351.1,35.8L352.6,34.2L355.4,34.4L358.0,35.6L360.2,34.7L361.6,32.5L363.0,30.5L365.1,29.3L367.2,28.4L369.5,28.2L372.0,28.6L373.7,26.4L375.9,27.7L378.3,26.9L380.6,27.5L382.8,26.8L384.1,24.2L386.7,23.3L388.2,25.1L390.7,24.7L392.3,26.3L393.1,24.4L395.5,24.0L395.9,21.8L398.0,19.9L400.5,20.9L402.4,20.0L402.7,17.5L404.2,16.2L407.0,16.4L409.7,16.0L412.0,14.7L414.7,14.7L417.0,15.6L419.3,14.6L420.0,12.2L421.8,10.5L418.9,10.2L416.6,12.2L414.1,11.3L411.6,12.4L410.5,10.4L408.7,9.1L407.0,7.7L404.5,7.8L402.0,8.2L399.5,8.1L397.0,8.0L394.4,8.7L391.9,7.5L389.9,5.1L386.9,5.4L384.9,5.9L382.9,6.5L381.8,8.6L379.6,6.6L376.7,6.8L374.1,7.2L371.7,6.0L370.0,7.0L368.3,7.9L366.6,8.8L364.3,7.1L361.5,8.0L359.6,9.9L357.1,10.8L354.4,11.5L352.2,9.8L350.2,11.8L347.6,11.6L345.2,12.5L342.8,11.6L340.2,12.8L337.9,11.2L335.6,12.0L333.2,11.7L330.8,13.1L329.1,15.2L326.8,15.6L324.6,14.9L322.3,14.1L320.0,14.4L317.7,13.9L315.5,14.7L317.4,16.1L319.7,16.8L322.2,16.6L324.0,18.6L325.8,17.8L328.0,17.8L329.4,15.8L331.6,17.3L333.2,19.7L331.1,21.6L330.5,24.4L328.0,25.2L326.1,27.2L328.9,27.9L331.2,29.6L334.0,29.3L336.7,30.2L334.1,30.4L331.7,29.3L329.2,30.4L327.9,32.9L325.5,31.2L322.8,31.7L321.3,34.1L319.0,35.6Z M296.0,20.9L298.6,21.2L300.0,23.6L302.4,24.0L304.1,25.9L306.4,26.5L308.4,28.1L310.6,26.7L312.6,24.9L314.9,25.1L317.1,25.8L319.5,26.6L321.5,24.9L323.5,26.7L326.1,26.4L327.7,25.1L329.7,25.1L328.8,23.0L329.6,20.9L327.6,19.2L325.1,18.7L322.4,19.3L320.0,18.1L317.6,17.3L315.5,15.9L312.8,15.4L310.5,17.0L308.0,15.8L305.2,16.2L302.9,17.5L300.7,19.2L298.0,19.0L296.0,20.9Z M269.4,37.7L272.2,38.4L274.7,36.9L277.0,37.8L279.3,38.7L281.4,40.4L283.6,41.9L285.5,39.9L288.1,39.5L290.5,40.7L291.2,43.2L292.3,45.4L294.5,44.0L296.7,45.5L298.7,43.5L301.3,42.7L302.7,41.5L304.4,42.2L304.6,40.1L306.6,39.8L304.3,40.9L302.0,40.1L300.0,39.1L298.0,38.1L295.9,37.2L294.2,35.6L291.7,36.3L289.7,38.1L287.5,37.6L285.2,37.7L283.0,36.4L280.9,34.8L278.7,35.3L276.5,34.8L274.8,35.9L272.9,36.3L271.2,37.2L269.4,37.7Z M202.0,36.9L204.7,37.0L206.4,39.4L208.6,37.9L210.9,36.5L213.1,35.5L215.4,35.8L217.1,37.9L219.8,37.7L222.6,37.7L225.4,37.3L226.3,35.5L227.9,34.2L228.6,32.3L226.0,32.5L223.3,32.4L221.6,33.5L219.9,34.5L217.9,34.2L216.6,32.2L214.2,32.8L212.7,31.4L210.6,31.5L208.7,32.4L206.6,31.6L204.4,32.5L204.3,35.4L202.0,36.9Z M285.3,67.0L287.6,67.3L289.9,67.4L291.6,69.6L294.2,69.1L296.1,68.1L297.9,69.3L297.8,67.1L299.5,65.8L298.1,67.8L295.8,67.0L294.7,65.3L294.2,63.3L291.6,63.0L289.6,64.8L286.9,64.6L285.3,67.0Z M327.9,88.0L330.2,88.1L331.8,89.9L334.1,89.3L336.4,90.0L338.7,90.3L340.3,92.2L341.7,89.9L344.0,88.5L346.0,89.8L347.6,91.6L349.0,93.6L351.1,92.2L352.7,90.1L351.0,88.4L350.9,85.9L348.4,85.9L346.1,84.8L344.1,83.2L342.0,81.7L339.5,81.6L337.9,83.8L336.2,82.1L334.9,80.0L332.2,80.6L330.5,83.1L329.5,85.7L327.9,88.0Z M427.8,155.4L430.0,153.1L430.6,150.0L432.3,148.2L433.6,146.2L434.2,143.7L436.5,143.3L437.4,140.6L439.5,139.9L440.5,142.2L441.3,144.5L439.7,145.8L438.4,147.5L441.0,148.9L444.0,147.6L446.6,148.7L446.9,151.1L448.4,152.9L449.2,155.5L451.2,157.1L449.6,158.8L448.4,160.9L447.7,158.9L445.9,157.9L443.0,158.5L440.2,159.6L438.2,158.6L435.8,158.6L434.2,156.7L432.1,156.0L429.9,156.1L427.8,155.4Z M182.9,143.3L186.0,143.1L189.1,143.6L191.8,145.9L194.9,145.8L196.4,148.4L198.5,150.6L200.3,152.9L198.1,152.1L196.0,152.9L194.2,150.5L191.4,149.5L189.0,148.4L187.3,146.1L184.7,145.3L182.9,143.3Z M166.6,129.4L169.0,129.6L171.2,130.7L172.5,132.7L173.2,134.9L173.0,137.4L170.5,136.0L168.4,134.0L168.0,131.5L166.6,129.4Z M90.4,115.2L92.7,113.4L95.6,114.0L98.2,113.1L97.5,116.0L94.6,116.3L92.2,118.1L90.5,117.2L90.4,115.2Z M336.7,264.7L338.5,262.1L341.9,262.2L343.8,259.7L346.8,260.1L349.7,258.6L352.7,259.3L355.7,260.0L358.1,262.1L360.7,263.5L363.3,265.2L366.0,265.9L368.5,267.0L370.4,269.4L373.0,269.6L375.0,271.4L372.0,272.6L368.8,272.3L365.6,272.3L362.6,273.1L363.2,271.5L364.4,270.2L361.5,268.8L359.8,266.0L357.0,265.9L354.3,265.3L351.6,264.5L349.1,263.1L346.8,262.9L344.4,263.4L342.0,263.1L339.4,264.1L336.7,264.7Z M374.3,278.6L376.4,277.1L377.0,274.0L379.3,272.7L381.5,273.2L383.9,273.1L386.9,272.6L389.9,273.5L391.7,275.2L393.0,277.5L395.6,278.1L392.7,278.7L389.9,279.4L387.5,281.3L384.6,281.9L382.3,280.7L380.0,279.8L377.1,279.5L374.3,278.6Z M360.5,279.0L362.9,279.1L365.2,279.5L367.6,279.8L365.8,281.5L363.2,282.0L360.8,280.7L360.5,279.0Z M399.8,278.6L402.5,278.8L405.1,279.0L404.8,280.7L402.3,281.6L399.8,280.7L399.8,278.6Z M419.0,311.2L420.5,310.8L422.1,310.8L421.8,313.8L419.0,313.8L419.0,311.2Z M394.9,576.8L396.4,578.4L398.3,579.8L398.8,582.3L401.8,582.3L403.9,585.1L406.9,585.2L404.7,585.9L402.8,587.5L400.5,587.7L397.9,587.3L395.2,588.0L392.5,588.0L389.9,587.7L387.9,585.7L385.5,584.7L382.8,584.4L385.4,583.2L388.1,582.3L389.4,580.1L388.8,577.7L392.0,578.2L394.9,576.8Z M421.8,571.8L424.5,571.6L427.1,571.0L426.5,573.0L425.3,574.7L423.7,573.7L421.8,573.9L421.8,571.8Z M427.8,571.4L430.4,572.7L433.1,572.2L431.3,573.4L429.9,575.1L429.4,572.9L427.8,571.4Z M682.3,196.9L685.0,196.6L687.6,196.3L690.3,196.9L692.9,196.0L693.4,198.3L692.5,200.3L691.9,202.3L689.5,201.3L686.9,201.0L684.5,199.9L682.3,198.6L682.3,196.9Z M667.4,184.3L669.9,185.4L672.4,184.3L673.1,186.9L671.6,189.3L672.0,191.9L670.0,191.6L668.1,192.7L667.9,189.9L667.4,187.1L667.4,184.3Z M668.8,177.6L670.2,176.7L671.7,175.9L671.5,178.0L671.6,180.1L671.3,182.2L668.8,181.0L668.9,179.3L668.8,177.6Z M721.6,207.4L723.9,208.6L726.4,208.4L728.9,207.3L731.2,208.6L730.2,209.4L727.3,209.1L724.5,209.1L721.6,208.6L721.6,207.4Z M752.5,209.0L755.3,209.4L757.4,206.6L760.3,206.9L759.9,208.9L758.2,209.9L755.5,209.3L753.2,210.7L752.5,209.0Z M1075.7,399.2L1078.0,397.9L1079.1,395.4L1081.1,393.8L1083.5,393.1L1085.9,392.5L1088.1,391.2L1086.4,393.8L1083.5,394.6L1081.9,397.6L1079.3,398.8L1077.6,400.0L1075.7,399.2Z M1059.8,391.2L1062.2,391.9L1064.5,392.2L1066.9,391.2L1069.2,391.3L1071.5,389.9L1074.0,390.8L1073.3,392.9L1070.8,393.7L1068.3,393.7L1065.8,394.0L1063.3,393.3L1061.6,393.2L1059.8,392.9L1059.8,391.2Z M1048.4,390.8L1051.4,390.0L1054.5,390.4L1057.1,390.6L1059.8,390.8L1058.0,393.3L1055.6,393.2L1053.3,393.0L1050.9,393.8L1048.4,392.5L1048.4,390.8Z M1089.9,347.7L1091.4,349.2L1093.5,349.8L1094.1,352.3L1094.2,354.8L1092.7,357.2L1091.0,359.4L1091.5,357.1L1089.9,355.0L1090.3,352.7L1090.4,350.2L1089.9,347.7Z M1091.7,368.6L1094.2,368.0L1096.7,367.7L1099.1,368.4L1101.6,368.6L1100.5,371.1L1097.9,370.6L1095.1,370.3L1092.4,370.7L1091.7,368.6Z M1163.6,379.1L1166.2,378.4L1168.8,379.0L1171.4,379.1L1172.8,376.5L1176.0,376.1L1177.5,373.7L1177.3,376.0L1176.8,378.3L1174.8,380.5L1172.5,381.9L1169.7,382.5L1167.2,381.1L1164.3,381.2L1163.6,379.1Z M1219.3,440.3L1221.3,442.0L1223.4,443.7L1226.3,444.0L1228.1,446.1L1229.5,447.5L1229.9,449.5L1227.0,449.4L1224.6,447.4L1222.9,445.5L1221.1,443.7L1219.3,441.9L1219.3,440.3Z M85.1,271.4L86.7,272.8L88.6,273.5L88.0,275.2L86.8,276.5L85.1,274.4L85.1,271.4Z M826.9,303.3L829.0,302.6L831.2,303.3L830.5,304.5L828.7,304.2L826.9,304.1L826.9,303.3Z M881.9,561.3L884.9,561.9L887.9,562.2L886.1,564.3L884.2,562.8L881.9,563.4L881.9,561.3Z M503.3,582.3L505.5,583.8L508.1,582.5L510.4,583.5L510.4,585.6L508.2,584.3L505.9,583.3L503.3,583.5L503.3,582.3Z M1270.7,58.2L1273.1,56.3L1276.0,56.6L1276.0,59.1L1273.9,59.3L1271.7,59.5L1270.7,58.2Z M677.0,122.7L679.4,121.1L682.3,121.5L683.2,123.6L682.3,125.7L679.9,126.2L677.7,124.8L677.0,122.7Z M702.5,113.5L705.3,113.9L705.2,116.1L703.6,117.3L702.5,116.0L702.5,113.5Z M287.1,26.8L285.1,25.1L282.5,24.0L279.8,24.0L277.9,23.3L276.5,21.8L275.4,23.9L273.2,24.0L270.6,24.9L267.9,25.1L265.8,26.8L267.9,28.5L270.4,29.8L273.2,29.6L274.8,28.9L276.5,28.5L278.2,28.9L279.8,29.6L282.3,28.3L285.1,28.5L287.1,26.8Z M301.6,28.5L300.5,27.0L299.5,25.2L297.7,26.1L296.0,25.4L294.2,26.1L292.7,26.4L291.4,27.0L290.3,28.5L291.4,30.0L293.1,29.2L294.2,30.9L296.0,30.0L297.7,30.9L298.9,29.7L300.5,30.0L301.6,28.5Z M252.4,27.2L250.9,26.0L248.8,26.1L247.0,25.2L244.6,26.5L242.2,25.2L240.2,25.6L238.3,26.0L236.8,27.2L238.3,28.5L240.4,27.7L242.2,29.2L244.6,28.7L247.0,29.2L248.7,27.5L250.9,28.5L252.4,27.2Z M247.4,30.6L246.2,29.5L244.5,29.8L243.0,28.8L241.0,27.7L239.1,28.8L237.5,29.2L235.9,29.5L234.6,30.6L235.9,31.7L237.3,32.7L239.1,32.4L241.0,31.4L243.0,32.4L244.3,30.7L246.2,31.7L247.4,30.6Z M269.4,31.8L268.7,30.9L266.9,30.2L264.7,30.2L263.0,30.9L262.3,31.8L263.0,32.8L264.7,33.4L266.9,33.4L268.7,32.8L269.4,31.8Z M268.7,48.2L267.8,46.9L265.5,46.2L264.1,46.4L262.6,46.2L260.3,46.9L259.5,48.2L260.3,49.4L262.6,50.2L264.1,50.5L265.5,50.2L267.8,49.4L268.7,48.2Z M306.6,41.5L305.6,40.2L302.9,39.5L301.3,39.5L299.6,39.5L297.0,40.2L296.0,41.5L297.0,42.7L299.6,43.5L301.3,44.0L302.9,43.5L305.6,42.7L306.6,41.5Z M366.8,49.4L365.5,48.2L363.7,48.0L362.0,47.4L359.8,46.9L357.6,47.4L355.6,46.7L354.0,48.2L352.7,49.4L354.0,50.7L355.6,52.0L357.6,51.4L359.8,51.1L362.0,51.4L363.7,51.0L365.5,50.7L366.8,49.4Z M371.1,72.1L370.3,70.6L368.2,69.7L365.5,69.7L363.4,70.6L362.6,72.1L363.4,73.5L365.5,74.4L368.2,74.4L370.3,73.5L371.1,72.1Z M350.2,93.8L349.3,92.8L347.0,92.2L345.6,93.3L344.2,92.2L341.9,92.8L341.0,93.8L341.9,94.8L344.2,95.4L345.6,96.1L347.0,95.4L349.3,94.8L350.2,93.8Z M357.6,96.3L357.2,95.1L355.9,94.4L354.4,94.4L353.1,95.1L352.7,96.3L353.1,97.6L354.4,98.3L355.9,98.3L357.2,97.6L357.6,96.3Z M352.7,134.0L352.1,133.3L350.7,132.9L349.0,132.9L347.5,133.3L347.0,134.0L347.5,134.8L349.0,135.2L350.7,135.2L352.1,134.8L352.7,134.0Z M358.7,120.2L358.2,118.7L357.0,117.8L355.4,117.8L354.2,118.7L353.7,120.2L354.2,121.7L355.4,122.6L357.0,122.6L358.2,121.7L358.7,120.2Z M222.2,38.5L221.4,37.7L219.3,37.1L216.7,37.1L214.5,37.7L213.7,38.5L214.5,39.4L216.7,39.9L219.3,39.9L221.4,39.4L222.2,38.5Z M307.3,31.0L306.5,30.1L304.4,29.6L301.7,29.6L299.6,30.1L298.8,31.0L299.6,31.9L301.7,32.4L304.4,32.4L306.5,31.9L307.3,31.0Z M279.3,30.2L278.8,29.4L277.3,29.0L275.6,29.0L274.2,29.4L273.6,30.2L274.2,30.9L275.6,31.4L277.3,31.4L278.8,30.9L279.3,30.2Z M419.3,148.7L418.4,148.0L416.1,147.5L413.3,147.5L411.0,148.0L410.1,148.7L411.0,149.4L413.3,149.9L416.1,149.9L418.4,149.4L419.3,148.7Z M417.2,161.7L416.5,161.1L414.7,160.7L412.5,160.7L410.8,161.1L410.1,161.7L410.8,162.3L412.5,162.7L414.7,162.7L416.5,162.3L417.2,161.7Z M51.7,104.3L51.1,103.3L49.5,102.7L47.6,102.7L46.0,103.3L45.4,104.3L46.0,105.3L47.6,105.9L49.5,105.9L51.1,105.3L51.7,104.3Z M39.0,90.5L38.1,89.6L35.8,89.1L33.0,89.1L30.7,89.6L29.8,90.5L30.7,91.3L33.0,91.9L35.8,91.9L38.1,91.3L39.0,90.5Z M52.1,130.7L50.0,129.9L47.8,128.8L45.7,129.9L43.6,130.7L45.7,131.5L47.8,132.2L50.0,131.5L52.1,130.7Z M44.0,133.2L42.4,132.4L39.2,132.4L37.6,133.2L39.2,134.0L42.4,134.0L44.0,133.2Z M35.8,135.3L34.7,134.5L32.6,134.5L31.5,135.3L32.6,136.1L34.7,136.1L35.8,135.3Z M29.1,137.0L27.8,136.2L25.3,136.2L24.1,137.0L25.3,137.8L27.8,137.8L29.1,137.0Z M22.7,137.8L21.1,137.0L17.9,137.0L16.3,137.8L17.9,138.6L21.1,138.6L22.7,137.8Z M15.2,139.1L13.8,138.3L11.0,138.3L9.6,139.1L11.0,139.9L13.8,139.9L15.2,139.1Z M8.2,139.5L7.1,138.7L5.0,138.7L3.9,139.5L5.0,140.3L7.1,140.3L8.2,139.5Z M1269.6,138.7L1268.4,137.9L1265.9,137.9L1264.7,138.7L1265.9,139.5L1268.4,139.5L1269.6,138.7Z M1253.3,134.9L1252.3,134.1L1250.1,134.1L1249.1,134.9L1250.1,135.7L1252.3,135.7L1253.3,134.9Z M1159.0,169.7L1158.1,168.6L1156.4,168.6L1155.5,169.7L1156.4,170.7L1158.1,170.7L1159.0,169.7Z M1164.3,166.3L1163.5,165.2L1161.7,165.2L1160.8,166.3L1161.7,167.4L1163.5,167.4L1164.3,166.3Z M1171.4,162.1L1170.6,161.0L1168.8,161.0L1167.9,162.1L1168.8,163.2L1170.6,163.2L1171.4,162.1Z M1178.5,157.9L1177.6,156.8L1175.9,156.8L1175.0,157.9L1175.9,159.0L1177.6,159.0L1178.5,157.9Z M1183.1,151.6L1182.2,150.6L1180.5,150.6L1179.6,151.6L1180.5,152.7L1182.2,152.7L1183.1,151.6Z M1190.2,145.8L1189.3,144.7L1187.6,144.7L1186.7,145.8L1187.6,146.9L1189.3,146.9L1190.2,145.8Z M850.7,18.4L848.1,17.4L845.5,17.0L843.6,15.2L841.4,13.9L839.0,14.7L838.6,17.6L837.0,19.2L835.6,16.7L832.9,16.3L831.2,14.3L828.7,14.0L826.4,14.0L824.5,15.4L822.6,16.7L820.4,17.0L817.5,16.5L815.2,18.4L817.5,20.5L820.4,19.9L821.9,22.3L824.5,22.7L826.5,23.8L828.6,23.2L830.8,21.9L832.9,20.5L835.2,19.6L837.2,21.1L839.7,21.1L841.3,19.0L843.4,19.0L845.5,19.9L847.9,18.3L850.7,18.4Z M1010.2,26.8L1009.5,24.9L1007.6,25.3L1006.5,27.4L1004.2,27.3L1003.6,24.9L1001.3,24.7L999.6,24.8L998.2,25.9L996.5,26.5L995.0,25.3L994.1,26.9L992.4,26.8L993.4,28.2L995.0,28.3L996.7,27.8L998.3,27.3L999.2,29.4L1001.3,28.9L1002.9,28.7L1004.5,28.7L1006.0,28.6L1007.6,28.3L1008.3,26.4L1010.2,26.8Z M1143.1,39.8L1141.8,39.0L1140.5,38.3L1139.1,40.1L1137.1,40.9L1135.9,39.1L1134.2,37.7L1132.9,36.2L1131.0,36.4L1129.5,37.5L1128.0,38.3L1126.9,39.6L1125.4,39.8L1126.6,40.7L1128.0,41.3L1129.2,42.7L1131.0,43.1L1132.7,43.0L1134.2,41.9L1135.6,43.2L1137.5,43.1L1139.0,42.2L1140.5,41.3L1141.4,39.7L1143.1,39.8Z M1153.7,40.2L1152.1,40.0L1151.1,38.8L1148.4,37.4L1145.7,38.8L1144.3,39.2L1143.1,40.2L1144.3,41.1L1145.7,41.7L1148.4,41.3L1151.1,41.7L1152.2,40.5L1153.7,40.2Z M1170.7,41.5L1169.4,40.0L1167.5,40.2L1166.3,42.0L1164.3,41.4L1162.5,41.6L1161.2,40.2L1159.6,40.9L1158.0,41.5L1159.7,41.8L1161.2,42.7L1162.8,43.0L1164.3,43.7L1165.9,42.9L1167.5,42.7L1169.4,42.9L1170.7,41.5Z M1149.5,47.8L1147.9,47.1L1146.3,46.7L1144.8,47.8L1143.1,48.2L1141.6,47.3L1139.9,46.7L1138.2,46.7L1136.7,47.8L1138.2,48.5L1139.9,48.8L1141.0,50.7L1143.1,50.5L1144.7,49.6L1146.3,48.8L1147.6,47.5L1149.5,47.8Z M815.2,66.6L813.4,65.2L811.7,64.6L809.9,65.2L808.1,66.6L809.9,68.1L811.7,69.0L813.4,68.1L815.2,66.6Z M852.4,62.8L850.7,61.4L848.9,62.0L847.1,61.4L845.3,62.8L847.1,64.3L848.9,64.9L850.7,64.3L852.4,62.8Z M1051.3,391.7L1049.7,390.6L1048.1,390.2L1046.5,390.6L1044.9,391.7L1046.5,392.8L1048.1,392.9L1049.7,392.8L1051.3,391.7Z M1066.9,397.1L1065.1,396.0L1063.3,395.0L1061.6,396.0L1059.8,397.1L1061.6,398.2L1063.3,398.9L1065.1,398.2L1066.9,397.1Z M1089.2,370.3L1088.0,368.9L1085.5,368.9L1084.2,370.3L1085.5,371.8L1088.0,371.8L1089.2,370.3Z M1016.2,365.3L1015.0,363.1L1012.5,363.1L1011.2,365.3L1012.5,367.5L1015.0,367.5L1016.2,365.3Z M985.0,351.5L984.3,349.3L982.9,349.3L982.2,351.5L982.9,353.6L984.3,353.6L985.0,351.5Z M990.0,361.9L989.4,359.7L988.4,359.7L987.8,361.9L988.4,364.1L989.4,364.1L990.0,361.9Z M1180.5,371.9L1179.4,370.5L1177.5,370.0L1175.6,369.3L1173.0,369.5L1174.2,370.9L1175.8,372.1L1177.9,372.1L1180.5,371.9Z M1190.6,382.8L1190.2,381.5L1187.7,380.7L1185.6,381.2L1186.0,382.6L1188.5,383.4L1190.6,382.8Z M1208.3,396.3L1206.7,395.4L1203.5,395.4L1201.9,396.3L1203.5,397.2L1206.7,397.2L1208.3,396.3Z M1210.1,393.8L1209.4,391.9L1207.9,391.9L1207.2,393.8L1207.9,395.6L1209.4,395.6L1210.1,393.8Z M1231.0,421.0L1230.5,418.8L1229.4,418.8L1228.9,421.0L1229.4,423.2L1230.5,423.2L1231.0,421.0Z M1235.6,430.2L1235.1,428.8L1234.0,428.8L1233.5,430.2L1234.0,431.7L1235.1,431.7L1235.6,430.2Z M1271.4,430.6L1270.2,429.5L1267.7,429.5L1266.4,430.6L1267.7,431.7L1270.2,431.7L1271.4,430.6Z M1275.6,425.6L1274.6,424.9L1272.5,424.9L1271.4,425.6L1272.5,426.3L1274.6,426.3L1275.6,425.6Z M1081.8,310.8L1081.2,309.2L1081.1,307.6L1079.6,307.6L1080.1,309.4L1078.9,310.8L1080.2,312.2L1079.6,314.1L1081.1,314.1L1080.8,312.3L1081.8,310.8Z M1077.7,312.5L1076.9,311.0L1077.2,309.2L1076.4,309.2L1075.3,310.7L1075.9,312.5L1076.6,314.1L1076.4,315.8L1077.2,315.8L1078.3,314.3L1077.7,312.5Z M1079.6,315.0L1078.9,313.9L1077.5,313.9L1076.8,315.0L1077.5,316.1L1078.9,316.1L1079.6,315.0Z M1074.3,309.6L1073.3,307.4L1071.1,307.4L1070.1,309.6L1071.1,311.7L1073.3,311.7L1074.3,309.6Z M1087.8,216.2L1087.1,215.6L1085.7,215.6L1085.0,216.2L1085.7,216.7L1087.1,216.7L1087.8,216.2Z M1092.8,245.1L1092.2,243.6L1091.2,243.6L1090.6,245.1L1091.2,246.5L1092.2,246.5L1092.8,245.1Z M967.8,304.5L966.6,302.5L967.4,300.2L966.5,300.2L966.3,302.4L966.0,304.5L966.1,306.7L966.5,308.9L967.4,308.9L967.7,306.7L967.8,304.5Z M971.0,324.6L970.6,322.8L969.7,322.8L969.2,324.6L969.7,326.5L970.6,326.5L971.0,324.6Z M778.4,381.6L778.0,380.2L777.3,380.2L776.9,381.6L777.3,383.1L778.0,383.1L778.4,381.6Z M836.0,444.4L835.3,443.4L834.1,443.4L833.5,444.4L834.1,445.5L835.3,445.5L836.0,444.4Z M843.2,441.1L842.7,440.0L841.6,440.0L841.1,441.1L841.6,442.2L842.7,442.2L843.2,441.1Z M792.9,405.1L792.4,404.0L791.3,404.0L790.8,405.1L791.3,406.2L792.4,406.2L792.9,405.1Z M581.3,237.5L580.4,236.8L578.6,236.8L577.7,237.5L578.6,238.2L580.4,238.2L581.3,237.5Z M589.4,236.7L588.9,235.2L587.8,235.2L587.3,236.7L587.8,238.1L588.9,238.1L589.4,236.7Z M583.8,238.8L583.2,237.9L582.2,237.9L581.6,238.8L582.2,239.7L583.2,239.7L583.8,238.8Z M579.0,219.1L578.4,218.5L577.1,218.5L576.5,219.1L577.1,219.6L578.4,219.6L579.0,219.1Z M549.0,197.7L548.3,197.2L546.9,197.2L546.2,197.7L546.9,198.3L548.3,198.3L549.0,197.7Z M539.1,194.8L538.4,194.2L537.0,194.2L536.3,194.8L537.0,195.3L538.4,195.3L539.1,194.8Z M555.4,292.8L554.9,291.7L553.8,291.7L553.3,292.8L553.8,293.9L554.9,293.9L555.4,292.8Z M553.3,285.7L552.6,285.0L551.2,285.0L550.5,285.7L551.2,286.4L552.6,286.4L553.3,285.7Z M650.4,190.2L649.5,189.3L647.7,189.3L646.9,190.2L647.7,191.1L649.5,191.1L650.4,190.2Z M614.6,96.3L613.9,95.3L612.5,95.3L611.8,96.3L612.5,97.4L613.9,97.4L614.6,96.3Z M634.3,103.5L633.8,102.0L632.9,102.0L632.5,103.5L632.9,104.9L633.8,104.9L634.3,103.5Z M615.3,113.1L614.6,111.7L613.2,111.7L612.5,113.1L613.2,114.6L614.6,114.6L615.3,113.1Z M610.4,58.6L609.5,58.1L607.7,58.1L606.8,58.6L607.7,59.2L609.5,59.2L610.4,58.6Z M706.8,44.4L706.1,43.9L704.6,43.9L703.9,44.4L704.6,44.9L706.1,44.9L706.8,44.4Z M316.5,358.6L315.8,356.8L314.4,356.8L313.7,358.6L314.4,360.4L315.8,360.4L316.5,358.6Z M318.8,358.6L318.4,357.8L317.5,357.8L317.1,358.6L317.5,359.3L318.4,359.3L318.8,358.6Z M362.6,253.9L362.1,251.3L361.0,251.3L360.5,253.9L361.0,256.4L362.1,256.4L362.6,253.9Z M365.8,245.1L364.9,244.3L363.1,244.3L362.2,245.1L363.1,245.8L364.9,245.8L365.8,245.1Z M371.1,255.5L370.7,254.1L370.0,254.1L369.7,255.5L370.0,257.0L370.7,257.0L371.1,255.5Z M379.6,268.1L378.9,267.5L377.5,267.5L376.8,268.1L377.5,268.6L378.9,268.6L379.6,268.1Z M420.9,288.2L420.5,287.3L419.6,287.3L419.1,288.2L419.6,289.1L420.5,289.1L420.9,288.2Z M422.5,294.9L422.1,294.0L421.4,294.0L421.1,294.9L421.4,295.8L422.1,295.8L422.5,294.9Z M377.3,534.5L376.7,531.6L375.4,531.6L374.8,534.5L375.4,537.4L376.7,537.4L377.3,534.5Z M79.0,266.0L78.5,265.5L77.4,265.5L76.9,266.0L77.4,266.5L78.5,266.5L79.0,266.0Z M84.7,268.9L84.2,268.4L83.1,268.4L82.6,268.9L83.1,269.5L84.2,269.5L84.7,268.9Z M73.5,263.9L73.1,263.4L72.2,263.4L71.8,263.9L72.2,264.4L73.1,264.4L73.5,263.9Z M13.5,540.4L12.9,539.8L11.9,539.8L11.3,540.4L11.9,540.9L12.9,540.9L13.5,540.4Z M1234.9,552.9L1234.2,552.0L1232.8,552.0L1232.0,552.9L1232.8,553.9L1234.2,553.9L1234.9,552.9Z M1126.8,506.0L1125.5,505.5L1123.1,505.5L1121.8,506.0L1123.1,506.6L1125.5,506.6L1126.8,506.0Z M1104.4,404.2L1103.4,403.3L1101.3,403.3L1100.2,404.2L1101.3,405.1L1103.4,405.1L1104.4,404.2Z M1123.4,414.7L1122.8,413.6L1121.6,413.6L1120.9,414.7L1121.6,415.8L1122.8,415.8L1123.4,414.7Z M109.3,429.8L108.9,429.2L108.0,429.2L107.6,429.8L108.0,430.3L108.9,430.3L109.3,429.8Z M28.7,413.0L28.0,412.5L26.6,412.5L25.9,413.0L26.6,413.6L28.0,413.6L28.7,413.0Z M1198.0,390.4L1197.1,389.7L1195.4,389.7L1194.5,390.4L1195.4,391.1L1197.1,391.1L1198.0,390.4Z M913.2,514.4L913.0,513.9L912.4,513.9L912.2,514.4L912.4,514.9L913.0,514.9L913.2,514.4Z M822.0,550.4L821.6,550.0L820.9,550.0L820.5,550.4L820.9,550.9L821.6,550.9L822.0,550.4Z M899.6,578.5L899.0,578.1L898.0,578.1L897.5,578.5L898.0,578.9L899.0,578.9L899.6,578.5Z M772.7,552.5L772.3,552.1L771.6,552.1L771.3,552.5L771.6,553.0L772.3,553.0L772.7,552.5Z M594.9,511.5L594.7,511.0L594.1,511.0L593.9,511.5L594.1,511.9L594.7,511.9L594.9,511.5Z M603.3,524.9L603.1,524.4L602.7,524.4L602.5,524.9L602.7,525.3L603.1,525.3L603.3,524.9Z M544.6,598.2L544.3,596.7L543.8,596.7L543.5,598.2L543.8,599.6L544.3,599.6L544.6,598.2Z M478.9,605.3L477.8,604.9L475.7,604.9L474.6,605.3L475.7,605.7L477.8,605.7L478.9,605.3Z M167.3,119.4L166.9,118.8L166.7,118.1L166.4,117.4L165.7,117.2L165.1,116.6L164.3,116.9L163.5,117.1L162.9,117.5L162.6,118.3L163.0,119.0L162.7,119.7L162.6,120.5L163.5,120.5L163.6,121.5L164.3,121.8L165.1,122.3L165.7,121.9L166.4,121.4L167.1,120.9L166.5,119.8L167.3,119.4Z M162.7,114.8L162.8,113.9L161.7,113.7L161.9,112.8L161.1,112.2L160.1,112.3L159.1,112.7L158.6,113.7L158.9,114.4L158.8,115.1L158.6,115.9L159.6,116.3L160.1,117.2L161.1,117.6L161.9,116.7L162.3,116.2L162.0,115.2L162.7,114.8Z M170.1,123.6L169.3,123.0L169.3,121.9L168.5,121.6L167.5,121.5L166.9,122.3L166.1,122.7L165.6,123.6L166.1,124.5L167.1,124.6L167.5,125.6L168.4,125.0L169.3,125.2L169.5,124.3L170.1,123.6Z M158.8,113.5L158.9,112.6L158.3,111.9L157.6,111.9L157.1,111.5L156.3,111.8L156.1,112.6L155.6,113.5L156.1,114.4L156.8,114.8L157.1,115.6L157.6,115.2L158.3,115.2L158.4,114.3L158.8,113.5Z M180.4,132.8L179.6,132.2L179.7,131.2L179.0,130.8L178.2,130.7L177.7,131.4L177.0,131.9L177.3,132.8L177.0,133.7L177.3,134.7L178.2,134.8L179.1,135.0L179.7,134.4L180.1,133.6L180.4,132.8Z M183.6,136.6L183.4,135.9L183.1,135.3L182.3,135.6L181.9,134.9L181.6,135.6L180.9,135.8L180.6,136.6L180.9,137.3L181.2,138.0L181.9,138.2L182.5,138.4L183.1,137.9L183.6,137.3L183.6,136.6Z M173.3,126.5L173.4,125.8L172.8,125.5L172.3,125.0L171.6,125.3L171.1,125.5L170.6,126.0L171.1,126.5L170.6,127.1L171.1,127.4L171.6,127.7L172.2,127.9L172.8,127.5L173.3,127.1L173.3,126.5Z M166.9,123.2L166.4,122.3L166.5,121.2L165.6,120.7L164.9,121.2L164.9,122.1L165.2,122.8L164.9,123.5L164.9,124.2L165.6,124.7L165.6,125.6L166.5,125.1L167.2,124.2L166.9,123.2Z M157.0,111.8L156.6,111.5L156.6,110.9L155.7,110.6L155.0,111.3L154.8,111.8L155.0,112.4L155.7,113.1L156.6,112.8L156.7,112.3L157.0,111.8Z M376.4,542.9L375.6,542.1L375.8,540.9L375.1,540.5L374.3,540.4L373.6,541.1L373.1,541.8L373.5,542.5L373.5,543.3L373.1,544.0L373.6,544.8L374.3,545.3L375.0,545.2L375.8,544.9L375.7,543.7L376.4,542.9Z M374.6,549.6L374.6,548.6L374.0,548.0L373.2,547.8L372.5,547.6L372.1,548.3L371.3,548.7L370.9,549.6L371.3,550.5L372.0,550.9L372.5,551.6L373.2,551.4L374.0,551.2L374.0,550.2L374.6,549.6Z M373.9,556.3L373.7,555.3L373.3,554.3L372.6,553.9L371.8,553.8L371.4,554.7L370.6,555.2L370.5,555.9L370.7,556.7L370.6,557.4L371.1,558.2L371.8,558.7L372.4,558.2L373.3,558.3L373.6,557.3L373.9,556.3Z M373.9,563.4L374.1,562.5L373.4,561.9L373.3,561.1L372.5,560.8L371.8,560.6L371.2,561.4L370.6,562.1L370.6,563.0L370.1,563.8L370.6,564.7L370.8,565.8L371.8,566.3L372.7,566.5L373.3,565.7L373.3,564.9L373.8,564.2L373.9,563.4Z M375.0,569.7L375.1,568.5L374.3,567.7L373.4,568.0L372.8,567.2L372.5,568.2L371.6,568.6L371.5,569.3L371.8,570.1L371.6,570.8L372.3,571.4L372.8,572.1L373.5,571.6L374.3,571.7L374.2,570.5L375.0,569.7Z M378.2,575.6L378.0,574.5L377.3,573.9L376.5,573.9L375.9,573.6L375.2,573.5L374.3,574.1L373.5,574.7L373.0,575.6L373.5,576.5L374.2,577.3L375.2,577.6L375.8,577.3L376.5,577.2L377.3,577.2L378.1,576.6L378.2,575.6Z M383.5,581.0L382.8,580.5L382.4,579.7L381.7,579.0L380.8,579.7L380.0,579.4L379.5,579.9L378.6,579.6L378.1,580.3L378.1,581.0L378.1,581.7L378.6,582.4L379.6,581.9L380.0,582.6L380.8,582.3L381.7,583.0L382.4,582.3L382.8,581.5L383.5,581.0Z M390.6,585.6L389.9,585.3L389.5,584.6L388.7,585.2L388.0,584.0L387.1,584.4L386.1,584.5L385.2,585.1L385.6,585.6L385.2,586.2L386.3,586.2L387.1,586.8L387.9,586.8L388.7,586.1L389.5,586.6L389.9,585.9L390.6,585.6Z M396.6,587.3L396.4,586.5L395.7,586.5L394.6,586.9L393.6,586.3L392.8,586.8L391.9,586.8L391.9,587.7L392.7,588.0L393.6,588.3L394.6,587.7L395.7,588.1L395.9,587.3L396.6,587.3Z M378.5,565.5L378.3,564.7L378.5,563.7L378.1,562.9L377.9,562.2L377.2,562.2L377.0,563.2L376.5,564.1L376.2,565.0L376.2,566.0L376.5,567.0L376.7,568.0L377.2,568.8L378.0,568.9L378.1,568.1L377.8,567.2L378.9,566.5L378.5,565.5Z M377.5,557.1L377.4,556.4L377.4,555.6L377.1,554.8L376.4,555.1L376.2,554.3L375.7,555.0L375.5,555.9L375.1,556.7L376.0,557.6L375.5,558.4L376.0,559.1L376.2,560.0L376.4,559.3L377.1,559.4L377.6,558.7L377.0,557.8L377.5,557.1Z M661.0,95.1L660.7,94.6L660.4,94.1L659.5,94.6L658.9,93.9L658.3,94.3L657.7,94.5L658.2,95.1L657.7,95.6L658.2,96.2L658.9,96.3L659.7,96.8L660.4,96.1L660.7,95.6L661.0,95.1Z M657.8,102.6L657.3,101.9L657.4,101.0L656.5,100.6L655.9,101.0L655.8,101.7L656.1,102.6L655.8,103.5L656.3,104.0L656.5,104.7L657.4,104.3L657.3,103.3L657.8,102.6Z M668.5,89.6L668.3,89.0L667.7,88.8L666.7,89.1L665.9,88.6L665.3,89.2L664.4,89.2L664.4,90.1L665.1,90.4L665.9,90.7L666.8,90.6L667.7,90.5L667.7,89.7L668.5,89.6Z M682.0,80.4L681.9,79.7L681.4,79.1L680.8,79.1L680.2,78.8L679.5,79.0L679.3,79.7L679.3,80.4L679.3,81.2L679.8,81.5L680.2,82.1L680.9,82.5L681.4,81.7L682.0,81.2L682.0,80.4Z M690.8,70.0L690.4,69.3L689.6,69.1L688.7,68.5L687.8,69.2L686.9,68.9L686.1,68.7L685.4,69.1L684.7,69.5L684.7,70.4L685.4,70.8L686.1,71.4L686.9,71.0L687.8,70.8L688.7,71.0L689.6,70.8L690.0,70.0L690.8,70.0Z M695.1,67.9L695.1,67.0L694.3,66.9L693.4,66.7L692.5,66.6L691.9,67.3L691.0,67.3L690.7,67.9L691.0,68.4L691.8,68.7L692.5,69.1L693.4,69.4L694.3,68.8L694.9,68.6L695.1,67.9Z M701.8,65.3L701.3,65.0L701.1,64.4L700.4,64.2L699.6,64.1L698.9,64.2L698.4,64.8L698.8,65.3L698.4,65.9L699.1,66.1L699.6,66.6L700.5,67.1L701.1,66.3L701.5,65.9L701.8,65.3Z M707.1,62.8L706.8,62.4L706.4,62.0L705.6,62.4L705.0,61.8L704.3,62.0L703.7,62.4L703.7,63.3L704.3,63.8L705.0,63.9L705.7,64.2L706.4,63.7L707.1,63.6L707.1,62.8Z M721.6,59.9L720.8,59.2L719.9,59.2L719.0,59.1L718.2,58.7L717.6,59.5L717.6,60.3L718.2,60.9L719.0,60.7L719.9,60.5L720.8,60.6L721.6,59.9Z M724.8,194.8L724.2,194.1L723.5,193.7L722.7,194.0L722.1,194.2L721.5,194.4L721.5,195.2L722.1,195.3L722.7,195.6L723.4,195.2L724.2,195.4L724.8,194.8Z M729.8,201.1L729.3,200.3L728.7,199.9L728.1,200.0L727.7,200.5L727.1,200.6L727.1,201.5L727.5,202.0L728.1,202.1L728.6,201.5L729.3,201.9L729.8,201.1Z M731.9,191.9L731.5,191.0L730.6,190.8L729.9,191.4L729.9,192.3L730.6,192.9L731.5,192.7L731.9,191.9Z M734.8,204.0L734.4,203.3L733.5,203.2L732.7,203.6L732.7,204.4L733.5,204.8L734.4,204.7L734.8,204.0Z M727.0,197.7L726.7,196.9L726.1,196.7L725.6,197.3L725.6,198.2L726.1,198.7L726.7,198.5L727.0,197.7Z M711.9,195.6L711.6,194.6L710.8,194.4L710.2,195.1L710.7,195.6L710.2,196.2L710.8,196.8L711.6,196.6L711.9,195.6Z M1064.4,392.1L1064.3,391.8L1064.0,391.7L1063.7,391.9L1063.7,392.3L1064.0,392.5L1064.3,392.4L1064.4,392.1Z"/>
<path id="lakep" d="M311.9,160.4L314.6,159.9L315.9,156.9L318.8,156.9L320.8,155.0L322.1,153.0L323.9,152.0L326.1,151.6L328.1,153.0L330.5,153.5L332.7,154.7L334.9,155.4L335.9,157.5L337.5,159.0L338.1,161.3L336.0,162.0L333.9,160.8L331.8,161.4L329.6,161.3L327.7,160.6L326.0,159.5L324.3,158.3L321.7,158.4L319.5,159.8L317.2,160.9L314.6,160.6L311.9,160.4Z M326.8,180.1L327.9,181.5L329.6,181.4L330.6,179.6L330.7,177.4L332.1,175.9L332.9,173.9L334.0,171.9L334.0,169.5L334.9,167.6L336.1,166.1L336.7,164.2L334.1,164.4L331.4,164.2L329.8,165.8L329.5,168.3L327.3,169.4L326.8,171.7L326.4,174.5L327.6,177.3L326.8,180.1Z M338.5,163.4L340.7,164.0L342.9,163.2L345.1,163.1L347.4,163.4L349.5,165.2L351.8,166.7L354.4,167.6L352.7,169.7L350.6,170.6L348.4,170.5L347.7,172.4L346.0,173.8L345.6,175.9L344.0,174.9L342.3,174.0L341.0,172.6L341.5,169.9L342.7,167.6L340.9,166.6L339.3,165.4L338.5,163.4Z M342.4,181.4L344.5,181.6L346.6,181.5L348.7,182.3L350.9,181.8L353.0,179.8L355.9,179.2L358.0,177.2L356.2,176.4L354.1,177.4L351.7,177.4L349.7,178.6L347.4,178.9L345.0,180.1L342.4,180.1L342.4,181.4Z M355.2,174.7L357.6,174.4L360.1,175.1L362.6,174.3L365.1,174.7L366.5,173.2L367.9,171.7L365.6,171.4L363.3,171.3L360.9,171.2L359.2,172.8L357.3,174.1L355.2,174.7Z M750.4,356.9L753.2,357.0L755.6,354.8L758.5,355.2L758.3,357.5L759.0,359.8L758.1,362.1L758.5,364.4L756.1,365.3L754.0,367.1L751.4,367.4L750.4,364.8L750.2,362.2L750.7,359.5L750.4,356.9Z M1005.6,140.3L1007.8,141.0L1009.9,140.8L1011.9,139.5L1014.5,138.3L1015.9,135.5L1018.9,135.0L1020.8,132.8L1022.1,130.2L1023.6,127.9L1025.6,125.9L1027.2,123.6L1025.9,122.5L1024.3,122.7L1023.5,124.9L1022.4,126.9L1020.2,128.0L1019.0,129.9L1017.3,131.3L1015.1,131.9L1013.9,134.2L1011.9,135.3L1009.9,137.2L1007.2,137.9L1005.6,140.3Z M287.1,132.0L289.7,131.2L292.4,130.7L292.7,133.3L293.7,135.6L294.6,137.9L296.0,140.0L296.7,142.4L295.9,144.2L294.2,144.9L292.8,143.1L291.1,141.5L290.5,139.1L288.9,137.4L288.4,135.5L287.3,133.9L287.1,132.0Z M198.5,79.6L200.4,78.1L202.9,78.4L205.2,77.9L207.0,76.4L209.1,75.4L212.0,75.2L214.3,77.6L217.1,77.5L219.8,78.3L218.0,79.9L215.9,81.0L214.4,82.9L212.2,82.5L210.0,82.3L207.8,83.1L205.6,82.5L203.1,81.8L200.7,81.0L198.5,79.6Z M223.3,100.5L225.3,99.0L227.4,97.7L230.1,97.6L232.1,96.1L233.9,94.3L236.2,93.1L238.7,94.5L241.0,93.2L243.4,93.5L245.7,92.2L248.1,93.0L249.9,94.7L247.8,96.0L245.3,96.2L243.0,96.8L241.0,98.4L238.3,98.8L235.9,100.6L233.3,101.6L230.4,101.4L228.0,101.6L225.7,100.1L223.3,100.5Z"/>
<path id="seap" d="M740.8,183.5L743.0,183.3L745.2,183.8L747.4,184.5L749.6,183.5L752.1,182.6L754.1,180.6L756.7,180.1L759.4,180.3L762.1,180.1L763.9,181.0L765.3,182.7L767.4,183.1L769.7,183.8L772.0,184.4L774.5,184.7L777.2,185.3L779.8,184.3L781.9,184.0L783.9,183.4L785.4,181.8L784.6,180.0L785.1,178.0L783.3,176.6L781.5,175.3L779.8,173.8L777.7,173.2L776.1,171.9L774.5,170.5L772.5,168.7L770.2,167.6L768.6,167.9L767.4,166.7L765.3,167.5L763.1,168.0L761.6,169.6L759.4,168.9L757.8,170.1L756.4,168.4L755.3,166.6L753.2,165.9L754.6,163.9L756.7,163.0L754.0,162.4L751.4,161.3L749.3,161.9L747.2,161.3L745.7,162.8L745.2,165.2L743.3,166.3L741.8,168.4L739.7,169.7L739.9,171.9L739.0,173.8L736.9,175.4L736.2,178.0L737.6,179.9L738.0,182.2L739.7,182.0L740.8,183.5Z M762.1,162.5L764.3,161.9L766.3,160.3L768.7,160.0L770.9,159.2L772.9,159.1L775.0,159.5L776.9,158.8L775.7,160.3L773.8,160.9L772.7,162.5L772.5,164.5L770.9,165.5L769.1,164.9L767.4,165.5L765.2,166.2L763.1,165.0L762.1,162.5Z M804.6,169.7L806.0,171.5L805.8,173.8L806.4,175.9L808.2,178.0L809.9,180.2L811.3,182.6L813.4,184.3L812.3,185.6L812.7,187.2L814.5,187.5L816.3,187.2L815.1,189.1L814.4,191.3L812.6,192.7L811.7,194.8L813.5,195.9L813.5,198.6L815.2,199.8L817.7,200.2L819.7,202.2L822.3,201.9L824.7,202.2L827.1,202.1L829.4,201.1L828.4,199.1L828.7,196.9L828.8,194.8L828.7,192.7L826.7,191.0L825.9,188.5L824.8,186.5L825.6,184.3L825.1,182.2L827.0,180.5L829.4,180.1L827.8,179.0L825.7,179.1L824.1,178.0L822.3,176.3L821.6,173.7L819.9,171.9L818.8,169.7L821.0,168.1L823.8,168.2L825.9,166.3L825.4,164.2L826.4,162.1L825.9,160.0L823.5,159.3L821.2,158.9L818.8,159.2L816.3,159.4L814.3,161.5L811.7,161.3L809.8,162.6L808.5,164.7L806.4,165.5L804.9,167.3L804.6,169.7Z"/>
<path id="greenp" d="M379.3,28.1L381.7,28.4L383.6,26.6L385.9,27.5L388.4,27.5L390.5,26.6L391.2,24.6L392.1,22.7L393.8,22.4L395.4,23.0L397.0,23.9L397.9,22.5L398.2,20.7L399.5,19.6L401.8,19.4L404.1,18.9L406.1,17.4L408.5,17.6L410.5,16.3L412.7,15.3L414.3,16.5L416.1,15.7L417.7,16.1L419.8,14.8L421.8,13.4L424.1,13.8L426.4,14.4L428.8,14.8L431.0,13.7L432.2,12.5L434.2,12.8L435.4,11.4L436.8,12.5L438.3,13.3L440.1,13.4L441.9,12.4L443.5,11.2L444.4,9.2L446.4,10.2L447.9,11.7L449.3,13.4L451.2,13.6L452.1,11.6L453.7,10.9L455.1,12.3L457.0,11.2L458.6,11.9L461.0,12.1L463.3,11.8L464.8,10.4L465.9,8.7L467.7,7.9L469.5,7.7L471.1,8.4L472.7,9.3L475.1,9.3L477.3,8.2L479.8,8.9L482.0,7.5L483.8,7.5L485.5,7.9L487.1,8.2L488.5,6.6L490.2,6.1L492.1,6.4L493.7,7.5L495.5,7.2L497.3,7.3L499.0,7.0L500.6,8.0L502.4,8.0L503.8,6.5L506.0,8.3L507.4,6.7L509.1,7.0L510.8,6.1L512.5,7.1L513.9,5.6L515.8,6.3L517.5,5.9L518.7,7.2L520.5,7.2L521.9,8.2L523.7,7.5L524.9,5.6L526.7,5.0L528.9,5.9L531.2,6.0L533.4,7.0L535.8,6.5L538.1,5.9L540.4,5.7L542.2,6.1L543.3,7.6L544.8,8.5L547.1,8.2L549.4,8.4L551.6,9.0L553.7,10.0L555.9,10.4L558.2,10.8L560.1,12.6L562.6,12.0L564.8,12.6L567.1,12.6L569.1,11.3L571.4,12.0L572.8,13.1L574.5,13.8L575.5,15.5L577.3,13.5L579.9,13.5L582.0,14.6L584.1,13.4L586.3,13.0L588.4,13.8L590.0,14.7L591.7,15.6L593.5,17.0L595.5,15.9L593.9,14.9L592.1,15.2L590.5,14.9L589.2,16.3L588.7,18.5L586.8,19.4L585.2,18.4L583.1,18.7L581.6,17.3L580.2,18.4L579.7,20.5L577.7,20.9L577.3,23.3L575.3,24.3L573.3,25.2L572.4,27.2L571.4,29.5L569.3,30.7L568.3,33.1L568.9,35.6L567.2,36.8L566.1,38.6L567.4,40.4L567.1,42.7L565.0,42.8L562.9,43.1L560.7,42.6L559.2,44.4L557.0,45.6L556.5,48.2L557.7,50.0L557.0,52.2L558.9,52.6L560.0,54.5L559.0,56.6L556.8,56.8L554.8,56.7L552.9,57.4L554.8,58.2L556.9,58.0L558.7,59.0L560.0,60.7L557.7,60.0L555.7,61.5L554.0,63.1L552.0,64.3L549.7,63.7L547.6,64.9L545.3,65.0L543.4,66.5L541.6,68.0L539.3,68.3L537.1,68.5L535.2,70.0L534.4,72.0L532.6,72.4L530.9,73.2L529.1,73.0L527.3,72.6L525.5,71.8L523.8,72.0L523.0,74.4L521.0,74.1L518.9,75.2L518.3,77.7L516.6,79.3L514.3,78.9L512.4,79.5L510.4,80.0L508.5,81.1L506.4,81.6L504.8,80.8L503.4,79.6L501.8,79.0L499.4,79.9L498.0,82.1L495.9,82.9L494.2,84.3L493.1,86.1L491.6,87.5L490.9,89.7L490.9,92.2L490.2,94.2L488.5,95.3L489.2,97.7L489.1,100.1L486.7,100.4L485.6,102.6L483.9,103.5L483.6,105.6L481.8,106.2L480.3,105.1L478.3,105.4L476.2,105.5L476.1,103.5L474.5,102.4L473.7,100.8L471.7,101.2L469.6,101.4L467.7,101.1L466.1,99.8L464.6,98.7L463.0,97.7L461.1,96.6L460.8,94.3L459.6,92.3L457.4,92.5L455.6,91.6L455.1,89.6L454.0,87.9L453.7,85.9L453.7,83.9L453.2,81.9L453.0,79.9L451.3,78.9L450.3,77.1L448.4,76.7L447.8,74.6L448.0,72.6L448.8,70.6L450.1,69.1L451.6,67.3L453.1,65.6L455.5,65.8L457.2,64.1L454.8,63.5L452.7,64.9L450.9,63.2L449.0,61.6L447.1,60.2L444.8,60.7L443.9,58.6L442.3,57.0L443.7,54.8L443.1,52.4L442.6,50.0L441.2,48.3L439.4,48.4L437.6,49.1L435.8,48.4L436.0,45.8L434.2,44.0L432.0,43.3L429.8,43.5L429.3,41.9L428.8,40.3L427.5,39.1L425.6,38.2L423.6,37.7L422.4,35.8L420.6,35.5L418.7,35.5L416.8,35.8L415.8,37.9L413.8,37.9L411.3,37.8L408.9,38.7L407.2,38.8L405.6,38.7L404.1,37.7L402.0,37.4L400.2,36.1L398.4,34.8L396.5,33.8L394.4,33.5L392.3,34.1L390.2,34.3L388.1,34.3L387.5,32.5L386.3,31.0L384.3,30.5L382.3,31.0L381.0,29.3L379.3,28.1Z"/>
<path id="arcp" d="M407.6,96.8L404.9,97.1L402.2,96.4L399.6,95.7L397.0,95.1L394.7,95.1L392.8,93.9L391.3,91.8L388.8,91.9L386.6,92.0L384.6,90.9L382.5,91.6L380.5,90.9L379.4,88.8L377.6,87.4L376.0,85.9L373.9,86.3L371.7,85.6L369.9,83.9L368.2,86.1L365.6,86.9L363.5,87.0L361.5,85.9L361.9,83.9L363.3,82.5L365.2,84.3L367.4,85.4L369.6,84.0L370.8,81.9L371.6,79.4L373.1,81.8L375.7,82.5L375.1,80.4L376.5,78.9L378.1,78.0L379.3,76.7L381.0,75.3L380.6,73.1L379.6,71.1L377.5,71.2L375.5,70.2L374.5,68.0L372.3,68.0L371.4,70.6L369.5,71.1L368.3,69.0L366.8,67.0L364.6,67.9L362.5,66.5L361.4,64.4L359.8,62.8L357.6,62.8L355.6,63.7L353.7,62.4L351.5,62.5L349.5,63.7L347.4,63.3L344.8,63.2L342.8,65.0L340.5,64.4L338.5,62.8L336.6,64.7L334.1,63.9L332.1,62.9L332.1,60.2L330.6,58.8L328.3,59.7L326.1,60.7L324.2,61.2L322.6,59.9L321.2,58.5L320.8,56.6L320.2,54.6L321.5,53.2L320.1,52.1L319.7,50.3L322.3,49.8L323.9,47.5L325.1,49.8L327.6,49.5L329.3,50.9L330.9,48.6L333.2,46.9L336.0,46.9L338.5,48.2L338.2,50.1L339.1,51.8L338.8,54.1L336.7,54.5L338.9,54.8L340.3,56.6L342.4,55.4L344.7,56.2L345.5,53.9L347.4,52.4L349.3,50.4L350.9,48.2L352.5,47.0L354.4,47.3L355.9,45.5L358.2,46.4L359.9,45.3L361.4,46.8L363.0,48.0L365.1,48.2L365.2,50.2L366.8,51.1L369.6,50.8L372.4,50.9L374.1,52.0L375.4,53.5L375.7,55.7L378.5,55.8L381.0,57.1L383.9,57.2L386.3,58.6L388.5,60.0L390.2,62.1L392.7,62.1L395.2,62.0L396.3,63.7L397.0,65.6L399.1,65.2L400.5,67.0L401.8,68.9L402.3,71.2L404.0,69.9L405.9,69.4L408.0,70.0L409.4,71.5L411.1,72.5L412.9,73.3L414.8,74.5L416.9,74.0L419.1,74.5L420.0,76.7L420.6,78.5L419.3,79.9L418.0,80.9L416.5,81.3L414.1,81.8L412.0,83.2L410.2,81.2L407.6,81.3L405.7,80.6L404.4,79.0L402.2,77.8L400.5,79.6L402.2,81.6L404.6,82.1L405.5,84.5L407.6,85.9L408.1,87.9L407.5,90.0L409.1,91.4L411.2,90.9L409.2,90.5L407.6,91.7L405.8,90.9L404.1,92.2L402.5,90.6L400.5,91.4L398.8,90.5L397.0,90.1L398.7,92.1L399.2,94.8L401.6,94.6L404.1,94.4L405.3,96.6L407.6,96.8Z M226.8,67.0L228.7,68.0L230.7,68.5L231.7,70.7L233.3,68.8L235.4,68.8L237.5,69.1L239.6,70.6L241.9,69.5L243.9,68.9L244.4,66.4L246.2,65.6L248.5,66.2L249.2,68.8L250.8,70.2L253.0,69.1L255.2,68.3L257.8,69.9L260.6,68.6L263.1,67.5L265.8,67.0L266.9,64.4L269.6,64.1L271.5,63.1L273.6,62.6L275.8,63.7L278.2,64.1L277.4,62.4L276.5,60.7L274.4,59.2L272.0,59.8L269.8,59.2L267.6,58.6L265.4,58.5L264.4,56.3L266.1,54.7L265.8,52.4L263.8,53.2L261.6,52.9L259.5,51.8L258.7,49.4L256.2,50.5L253.4,50.2L250.7,50.1L248.1,50.7L246.6,49.1L244.7,48.7L242.6,48.8L241.3,50.6L239.1,50.5L237.5,51.5L236.1,50.0L234.1,49.8L232.1,50.2L230.4,49.0L228.0,48.8L226.0,50.2L223.9,51.5L221.5,51.1L219.3,51.2L217.1,51.1L216.4,53.3L216.2,55.7L218.4,56.2L218.9,59.1L221.1,59.5L223.1,59.1L225.3,59.1L226.8,57.4L225.5,59.5L224.4,61.8L222.1,61.3L219.8,60.7L221.5,62.8L222.0,65.6L224.2,67.3L226.8,67.0Z M193.2,54.5L195.2,55.6L196.0,57.9L198.2,59.0L200.3,57.8L202.9,57.0L205.6,57.5L208.4,58.3L210.9,56.6L213.0,55.8L214.0,53.6L216.5,53.0L218.7,54.5L220.8,53.4L221.5,51.1L222.3,49.3L223.2,47.7L225.1,47.7L226.8,48.2L226.1,45.8L223.8,45.2L221.8,44.3L219.8,45.2L218.3,43.8L216.9,42.2L214.6,42.6L212.7,43.0L211.3,45.0L209.1,44.4L206.5,43.6L203.8,44.3L201.0,43.5L198.5,44.8L197.5,47.7L195.1,49.2L194.3,50.8L193.2,52.4L193.2,54.5Z M223.3,39.8L223.9,42.0L226.6,42.1L227.3,44.2L229.6,44.2L231.6,43.4L233.0,41.4L234.7,43.8L237.5,44.0L239.7,44.1L241.9,43.4L244.7,43.4L246.2,40.9L248.3,39.9L250.6,40.3L252.6,42.1L255.2,42.7L257.0,40.8L259.4,40.7L261.8,41.7L264.1,40.6L263.0,39.3L262.3,37.7L259.4,36.4L256.7,38.0L254.5,38.0L253.8,35.1L251.7,35.2L249.2,34.8L247.0,35.9L244.6,37.0L242.2,36.2L239.8,36.2L237.5,36.4L235.7,37.4L234.2,39.1L232.0,38.5L229.7,38.7L228.2,37.2L226.8,35.6L225.6,38.2L223.3,39.8Z M274.7,51.1L277.5,50.7L279.9,52.4L280.9,55.3L283.6,56.6L285.8,55.9L287.1,58.3L289.1,58.4L290.7,57.1L292.5,56.3L294.2,55.3L294.7,52.6L296.0,50.3L295.4,48.5L294.0,47.2L292.4,46.5L290.6,46.5L287.9,46.0L285.3,46.9L282.7,47.7L280.0,46.9L277.9,46.8L275.9,46.8L276.0,49.2L274.7,51.1Z M298.8,48.2L300.7,49.3L301.9,51.2L303.8,52.4L304.8,54.5L307.2,56.0L309.9,56.7L310.9,54.5L312.3,52.7L314.1,51.3L316.4,52.6L319.0,52.4L318.1,49.7L317.9,46.9L315.6,45.6L313.5,44.1L310.7,43.7L308.4,45.2L305.8,46.0L303.9,47.9L301.3,47.4L298.8,48.2Z M294.2,35.6L296.4,36.8L298.8,37.0L301.1,37.7L303.4,38.3L306.1,38.8L307.5,41.3L309.8,41.9L311.9,43.1L314.4,43.2L316.9,43.4L319.5,43.1L321.8,44.5L324.1,44.8L325.5,43.1L326.9,41.6L328.0,43.5L330.3,43.8L331.7,45.3L334.3,45.0L336.7,44.0L339.6,44.0L341.8,46.0L344.1,44.5L346.7,45.0L349.2,44.0L351.3,42.1L353.8,42.2L356.2,41.9L355.0,39.3L352.7,37.7L349.7,37.2L347.6,39.5L345.4,37.9L342.9,36.9L341.4,35.6L340.1,34.1L338.3,33.2L335.3,33.3L333.2,35.6L331.0,34.0L328.3,34.5L326.0,33.4L323.5,33.9L320.7,34.4L319.0,36.9L316.6,36.0L314.5,34.6L312.3,33.0L309.8,33.6L307.3,32.5L304.8,33.5L303.9,35.8L302.3,37.0L299.9,37.1L298.0,36.7L296.0,36.3L294.2,35.6Z M319.0,35.6L320.7,33.2L323.5,33.2L325.7,33.3L327.9,33.6L329.2,35.5L330.7,37.1L332.2,38.8L334.7,37.9L336.7,36.0L339.2,37.5L342.1,37.6L344.8,39.0L347.4,37.4L349.3,36.7L351.1,35.8L352.6,34.2L355.4,34.4L358.0,35.6L360.2,34.7L361.6,32.5L363.0,30.5L365.1,29.3L367.2,28.4L369.5,28.2L372.0,28.6L373.7,26.4L375.9,27.7L378.3,26.9L380.6,27.5L382.8,26.8L384.1,24.2L386.7,23.3L388.2,25.1L390.7,24.7L392.3,26.3L393.1,24.4L395.5,24.0L395.9,21.8L398.0,19.9L400.5,20.9L402.4,20.0L402.7,17.5L404.2,16.2L407.0,16.4L409.7,16.0L412.0,14.7L414.7,14.7L417.0,15.6L419.3,14.6L420.0,12.2L421.8,10.5L418.9,10.2L416.6,12.2L414.1,11.3L411.6,12.4L410.5,10.4L408.7,9.1L407.0,7.7L404.5,7.8L402.0,8.2L399.5,8.1L397.0,8.0L394.4,8.7L391.9,7.5L389.9,5.1L386.9,5.4L384.9,5.9L382.9,6.5L381.8,8.6L379.6,6.6L376.7,6.8L374.1,7.2L371.7,6.0L370.0,7.0L368.3,7.9L366.6,8.8L364.3,7.1L361.5,8.0L359.6,9.9L357.1,10.8L354.4,11.5L352.2,9.8L350.2,11.8L347.6,11.6L345.2,12.5L342.8,11.6L340.2,12.8L337.9,11.2L335.6,12.0L333.2,11.7L330.8,13.1L329.1,15.2L326.8,15.6L324.6,14.9L322.3,14.1L320.0,14.4L317.7,13.9L315.5,14.7L317.4,16.1L319.7,16.8L322.2,16.6L324.0,18.6L325.8,17.8L328.0,17.8L329.4,15.8L331.6,17.3L333.2,19.7L331.1,21.6L330.5,24.4L328.0,25.2L326.1,27.2L328.9,27.9L331.2,29.6L334.0,29.3L336.7,30.2L334.1,30.4L331.7,29.3L329.2,30.4L327.9,32.9L325.5,31.2L322.8,31.7L321.3,34.1L319.0,35.6Z M296.0,20.9L298.6,21.2L300.0,23.6L302.4,24.0L304.1,25.9L306.4,26.5L308.4,28.1L310.6,26.7L312.6,24.9L314.9,25.1L317.1,25.8L319.5,26.6L321.5,24.9L323.5,26.7L326.1,26.4L327.7,25.1L329.7,25.1L328.8,23.0L329.6,20.9L327.6,19.2L325.1,18.7L322.4,19.3L320.0,18.1L317.6,17.3L315.5,15.9L312.8,15.4L310.5,17.0L308.0,15.8L305.2,16.2L302.9,17.5L300.7,19.2L298.0,19.0L296.0,20.9Z M269.4,37.7L272.2,38.4L274.7,36.9L277.0,37.8L279.3,38.7L281.4,40.4L283.6,41.9L285.5,39.9L288.1,39.5L290.5,40.7L291.2,43.2L292.3,45.4L294.5,44.0L296.7,45.5L298.7,43.5L301.3,42.7L302.7,41.5L304.4,42.2L304.6,40.1L306.6,39.8L304.3,40.9L302.0,40.1L300.0,39.1L298.0,38.1L295.9,37.2L294.2,35.6L291.7,36.3L289.7,38.1L287.5,37.6L285.2,37.7L283.0,36.4L280.9,34.8L278.7,35.3L276.5,34.8L274.8,35.9L272.9,36.3L271.2,37.2L269.4,37.7Z M202.0,36.9L204.7,37.0L206.4,39.4L208.6,37.9L210.9,36.5L213.1,35.5L215.4,35.8L217.1,37.9L219.8,37.7L222.6,37.7L225.4,37.3L226.3,35.5L227.9,34.2L228.6,32.3L226.0,32.5L223.3,32.4L221.6,33.5L219.9,34.5L217.9,34.2L216.6,32.2L214.2,32.8L212.7,31.4L210.6,31.5L208.7,32.4L206.6,31.6L204.4,32.5L204.3,35.4L202.0,36.9Z M285.3,67.0L287.6,67.3L289.9,67.4L291.6,69.6L294.2,69.1L296.1,68.1L297.9,69.3L297.8,67.1L299.5,65.8L298.1,67.8L295.8,67.0L294.7,65.3L294.2,63.3L291.6,63.0L289.6,64.8L286.9,64.6L285.3,67.0Z M327.9,88.0L330.2,88.1L331.8,89.9L334.1,89.3L336.4,90.0L338.7,90.3L340.3,92.2L341.7,89.9L344.0,88.5L346.0,89.8L347.6,91.6L349.0,93.6L351.1,92.2L352.7,90.1L351.0,88.4L350.9,85.9L348.4,85.9L346.1,84.8L344.1,83.2L342.0,81.7L339.5,81.6L337.9,83.8L336.2,82.1L334.9,80.0L332.2,80.6L330.5,83.1L329.5,85.7L327.9,88.0Z M677.0,23.0L679.2,22.3L681.4,22.6L683.6,22.0L685.9,22.1L688.0,20.9L690.1,19.8L692.6,19.5L694.7,20.9L697.0,19.8L699.3,18.6L701.4,20.6L704.2,21.1L706.3,19.5L708.9,19.7L711.4,20.3L713.9,19.5L716.3,18.7L718.8,19.1L721.3,18.2L723.8,18.6L726.6,19.1L728.8,17.2L730.6,17.7L732.7,17.9L733.7,20.1L732.4,21.7L730.1,21.7L728.8,23.4L726.9,23.0L725.0,23.7L723.1,23.9L720.5,24.7L718.6,26.9L716.1,27.5L713.7,26.3L711.4,25.5L708.9,26.0L709.9,27.4L710.9,28.9L712.4,30.1L714.2,29.3L711.8,29.5L709.5,29.1L707.2,29.8L705.3,31.4L702.7,32.2L700.7,30.3L699.5,32.5L698.3,34.8L695.4,34.6L692.9,33.1L690.3,32.0L687.6,31.4L686.6,28.9L684.1,28.5L682.4,26.6L681.7,24.1L679.6,22.3L677.0,23.0Z M820.5,56.6L822.1,57.8L824.1,58.1L826.2,57.8L827.6,59.5L830.1,59.6L831.7,61.5L832.3,59.1L834.5,58.3L836.0,56.7L838.0,58.4L840.0,59.9L837.9,60.4L836.4,58.6L835.3,56.5L836.5,54.5L834.6,54.3L834.4,52.2L834.9,50.7L834.7,49.0L836.5,46.9L838.3,44.7L840.8,43.2L843.6,44.0L845.6,45.3L848.1,45.3L849.0,43.6L849.0,41.4L850.1,39.7L852.2,40.1L854.2,39.8L856.7,40.7L859.4,41.1L861.9,40.2L863.8,38.2L866.3,37.9L868.4,36.4L870.6,37.5L872.5,35.8L874.7,36.6L876.9,36.6L879.3,36.5L880.8,34.3L878.6,34.9L876.3,34.2L874.1,34.1L871.9,33.5L869.3,34.5L866.6,34.0L864.9,32.6L863.0,32.0L861.0,32.1L858.8,34.2L855.8,34.4L853.4,35.7L850.7,36.4L848.9,38.1L846.6,37.9L844.6,39.3L842.9,41.0L840.5,42.1L838.3,40.6L836.4,42.4L835.5,44.8L833.9,47.1L831.2,46.9L828.7,47.9L826.1,48.4L824.5,50.7L822.3,52.4L822.3,54.9L820.5,56.6Z M978.3,24.3L980.7,23.7L982.8,22.3L985.2,21.9L987.6,21.6L990.1,22.8L992.4,21.4L994.7,23.0L997.3,22.1L999.1,24.3L1001.9,24.0L1004.5,23.5L1006.6,25.1L1007.7,27.6L1010.2,28.1L1007.5,27.9L1005.7,30.1L1003.7,29.3L1003.4,26.5L1001.3,25.7L998.9,25.3L996.9,26.7L994.9,28.2L992.4,28.1L990.1,27.1L987.6,27.4L985.7,26.7L984.4,25.2L983.5,23.4L981.0,24.6L978.3,24.3Z M287.1,26.8L285.1,25.1L282.5,24.0L279.8,24.0L277.9,23.3L276.5,21.8L275.4,23.9L273.2,24.0L270.6,24.9L267.9,25.1L265.8,26.8L267.9,28.5L270.4,29.8L273.2,29.6L274.8,28.9L276.5,28.5L278.2,28.9L279.8,29.6L282.3,28.3L285.1,28.5L287.1,26.8Z M301.6,28.5L300.5,27.0L299.5,25.2L297.7,26.1L296.0,25.4L294.2,26.1L292.7,26.4L291.4,27.0L290.3,28.5L291.4,30.0L293.1,29.2L294.2,30.9L296.0,30.0L297.7,30.9L298.9,29.7L300.5,30.0L301.6,28.5Z M252.4,27.2L250.9,26.0L248.8,26.1L247.0,25.2L244.6,26.5L242.2,25.2L240.2,25.6L238.3,26.0L236.8,27.2L238.3,28.5L240.4,27.7L242.2,29.2L244.6,28.7L247.0,29.2L248.7,27.5L250.9,28.5L252.4,27.2Z M247.4,30.6L246.2,29.5L244.5,29.8L243.0,28.8L241.0,27.7L239.1,28.8L237.5,29.2L235.9,29.5L234.6,30.6L235.9,31.7L237.3,32.7L239.1,32.4L241.0,31.4L243.0,32.4L244.3,30.7L246.2,31.7L247.4,30.6Z M269.4,31.8L268.7,30.9L266.9,30.2L264.7,30.2L263.0,30.9L262.3,31.8L263.0,32.8L264.7,33.4L266.9,33.4L268.7,32.8L269.4,31.8Z M268.7,48.2L267.8,46.9L265.5,46.2L264.1,46.4L262.6,46.2L260.3,46.9L259.5,48.2L260.3,49.4L262.6,50.2L264.1,50.5L265.5,50.2L267.8,49.4L268.7,48.2Z M306.6,41.5L305.6,40.2L302.9,39.5L301.3,39.5L299.6,39.5L297.0,40.2L296.0,41.5L297.0,42.7L299.6,43.5L301.3,44.0L302.9,43.5L305.6,42.7L306.6,41.5Z M366.8,49.4L365.5,48.2L363.7,48.0L362.0,47.4L359.8,46.9L357.6,47.4L355.6,46.7L354.0,48.2L352.7,49.4L354.0,50.7L355.6,52.0L357.6,51.4L359.8,51.1L362.0,51.4L363.7,51.0L365.5,50.7L366.8,49.4Z M371.1,72.1L370.3,70.6L368.2,69.7L365.5,69.7L363.4,70.6L362.6,72.1L363.4,73.5L365.5,74.4L368.2,74.4L370.3,73.5L371.1,72.1Z M350.2,93.8L349.3,92.8L347.0,92.2L345.6,93.3L344.2,92.2L341.9,92.8L341.0,93.8L341.9,94.8L344.2,95.4L345.6,96.1L347.0,95.4L349.3,94.8L350.2,93.8Z M222.2,38.5L221.4,37.7L219.3,37.1L216.7,37.1L214.5,37.7L213.7,38.5L214.5,39.4L216.7,39.9L219.3,39.9L221.4,39.4L222.2,38.5Z M307.3,31.0L306.5,30.1L304.4,29.6L301.7,29.6L299.6,30.1L298.8,31.0L299.6,31.9L301.7,32.4L304.4,32.4L306.5,31.9L307.3,31.0Z M279.3,30.2L278.8,29.4L277.3,29.0L275.6,29.0L274.2,29.4L273.6,30.2L274.2,30.9L275.6,31.4L277.3,31.4L278.8,30.9L279.3,30.2Z M850.7,18.4L848.1,17.4L845.5,17.0L843.6,15.2L841.4,13.9L839.0,14.7L838.6,17.6L837.0,19.2L835.6,16.7L832.9,16.3L831.2,14.3L828.7,14.0L826.4,14.0L824.5,15.4L822.6,16.7L820.4,17.0L817.5,16.5L815.2,18.4L817.5,20.5L820.4,19.9L821.9,22.3L824.5,22.7L826.5,23.8L828.6,23.2L830.8,21.9L832.9,20.5L835.2,19.6L837.2,21.1L839.7,21.1L841.3,19.0L843.4,19.0L845.5,19.9L847.9,18.3L850.7,18.4Z M1010.2,26.8L1009.5,24.9L1007.6,25.3L1006.5,27.4L1004.2,27.3L1003.6,24.9L1001.3,24.7L999.6,24.8L998.2,25.9L996.5,26.5L995.0,25.3L994.1,26.9L992.4,26.8L993.4,28.2L995.0,28.3L996.7,27.8L998.3,27.3L999.2,29.4L1001.3,28.9L1002.9,28.7L1004.5,28.7L1006.0,28.6L1007.6,28.3L1008.3,26.4L1010.2,26.8Z M1143.1,39.8L1141.8,39.0L1140.5,38.3L1139.1,40.1L1137.1,40.9L1135.9,39.1L1134.2,37.7L1132.9,36.2L1131.0,36.4L1129.5,37.5L1128.0,38.3L1126.9,39.6L1125.4,39.8L1126.6,40.7L1128.0,41.3L1129.2,42.7L1131.0,43.1L1132.7,43.0L1134.2,41.9L1135.6,43.2L1137.5,43.1L1139.0,42.2L1140.5,41.3L1141.4,39.7L1143.1,39.8Z M1153.7,40.2L1152.1,40.0L1151.1,38.8L1148.4,37.4L1145.7,38.8L1144.3,39.2L1143.1,40.2L1144.3,41.1L1145.7,41.7L1148.4,41.3L1151.1,41.7L1152.2,40.5L1153.7,40.2Z M1170.7,41.5L1169.4,40.0L1167.5,40.2L1166.3,42.0L1164.3,41.4L1162.5,41.6L1161.2,40.2L1159.6,40.9L1158.0,41.5L1159.7,41.8L1161.2,42.7L1162.8,43.0L1164.3,43.7L1165.9,42.9L1167.5,42.7L1169.4,42.9L1170.7,41.5Z M1149.5,47.8L1147.9,47.1L1146.3,46.7L1144.8,47.8L1143.1,48.2L1141.6,47.3L1139.9,46.7L1138.2,46.7L1136.7,47.8L1138.2,48.5L1139.9,48.8L1141.0,50.7L1143.1,50.5L1144.7,49.6L1146.3,48.8L1147.6,47.5L1149.5,47.8Z M167.3,119.4L166.9,118.8L166.7,118.1L166.4,117.4L165.7,117.2L165.1,116.6L164.3,116.9L163.5,117.1L162.9,117.5L162.6,118.3L163.0,119.0L162.7,119.7L162.6,120.5L163.5,120.5L163.6,121.5L164.3,121.8L165.1,122.3L165.7,121.9L166.4,121.4L167.1,120.9L166.5,119.8L167.3,119.4Z M162.7,114.8L162.8,113.9L161.7,113.7L161.9,112.8L161.1,112.2L160.1,112.3L159.1,112.7L158.6,113.7L158.9,114.4L158.8,115.1L158.6,115.9L159.6,116.3L160.1,117.2L161.1,117.6L161.9,116.7L162.3,116.2L162.0,115.2L162.7,114.8Z M170.1,123.6L169.3,123.0L169.3,121.9L168.5,121.6L167.5,121.5L166.9,122.3L166.1,122.7L165.6,123.6L166.1,124.5L167.1,124.6L167.5,125.6L168.4,125.0L169.3,125.2L169.5,124.3L170.1,123.6Z M158.8,113.5L158.9,112.6L158.3,111.9L157.6,111.9L157.1,111.5L156.3,111.8L156.1,112.6L155.6,113.5L156.1,114.4L156.8,114.8L157.1,115.6L157.6,115.2L158.3,115.2L158.4,114.3L158.8,113.5Z M180.4,132.8L179.6,132.2L179.7,131.2L179.0,130.8L178.2,130.7L177.7,131.4L177.0,131.9L177.3,132.8L177.0,133.7L177.3,134.7L178.2,134.8L179.1,135.0L179.7,134.4L180.1,133.6L180.4,132.8Z M183.6,136.6L183.4,135.9L183.1,135.3L182.3,135.6L181.9,134.9L181.6,135.6L180.9,135.8L180.6,136.6L180.9,137.3L181.2,138.0L181.9,138.2L182.5,138.4L183.1,137.9L183.6,137.3L183.6,136.6Z M173.3,126.5L173.4,125.8L172.8,125.5L172.3,125.0L171.6,125.3L171.1,125.5L170.6,126.0L171.1,126.5L170.6,127.1L171.1,127.4L171.6,127.7L172.2,127.9L172.8,127.5L173.3,127.1L173.3,126.5Z M166.9,123.2L166.4,122.3L166.5,121.2L165.6,120.7L164.9,121.2L164.9,122.1L165.2,122.8L164.9,123.5L164.9,124.2L165.6,124.7L165.6,125.6L166.5,125.1L167.2,124.2L166.9,123.2Z M157.0,111.8L156.6,111.5L156.6,110.9L155.7,110.6L155.0,111.3L154.8,111.8L155.0,112.4L155.7,113.1L156.6,112.8L156.7,112.3L157.0,111.8Z M376.4,542.9L375.6,542.1L375.8,540.9L375.1,540.5L374.3,540.4L373.6,541.1L373.1,541.8L373.5,542.5L373.5,543.3L373.1,544.0L373.6,544.8L374.3,545.3L375.0,545.2L375.8,544.9L375.7,543.7L376.4,542.9Z M374.6,549.6L374.6,548.6L374.0,548.0L373.2,547.8L372.5,547.6L372.1,548.3L371.3,548.7L370.9,549.6L371.3,550.5L372.0,550.9L372.5,551.6L373.2,551.4L374.0,551.2L374.0,550.2L374.6,549.6Z M373.9,556.3L373.7,555.3L373.3,554.3L372.6,553.9L371.8,553.8L371.4,554.7L370.6,555.2L370.5,555.9L370.7,556.7L370.6,557.4L371.1,558.2L371.8,558.7L372.4,558.2L373.3,558.3L373.6,557.3L373.9,556.3Z M373.9,563.4L374.1,562.5L373.4,561.9L373.3,561.1L372.5,560.8L371.8,560.6L371.2,561.4L370.6,562.1L370.6,563.0L370.1,563.8L370.6,564.7L370.8,565.8L371.8,566.3L372.7,566.5L373.3,565.7L373.3,564.9L373.8,564.2L373.9,563.4Z M375.0,569.7L375.1,568.5L374.3,567.7L373.4,568.0L372.8,567.2L372.5,568.2L371.6,568.6L371.5,569.3L371.8,570.1L371.6,570.8L372.3,571.4L372.8,572.1L373.5,571.6L374.3,571.7L374.2,570.5L375.0,569.7Z M378.2,575.6L378.0,574.5L377.3,573.9L376.5,573.9L375.9,573.6L375.2,573.5L374.3,574.1L373.5,574.7L373.0,575.6L373.5,576.5L374.2,577.3L375.2,577.6L375.8,577.3L376.5,577.2L377.3,577.2L378.1,576.6L378.2,575.6Z M383.5,581.0L382.8,580.5L382.4,579.7L381.7,579.0L380.8,579.7L380.0,579.4L379.5,579.9L378.6,579.6L378.1,580.3L378.1,581.0L378.1,581.7L378.6,582.4L379.6,581.9L380.0,582.6L380.8,582.3L381.7,583.0L382.4,582.3L382.8,581.5L383.5,581.0Z M390.6,585.6L389.9,585.3L389.5,584.6L388.7,585.2L388.0,584.0L387.1,584.4L386.1,584.5L385.2,585.1L385.6,585.6L385.2,586.2L386.3,586.2L387.1,586.8L387.9,586.8L388.7,586.1L389.5,586.6L389.9,585.9L390.6,585.6Z M396.6,587.3L396.4,586.5L395.7,586.5L394.6,586.9L393.6,586.3L392.8,586.8L391.9,586.8L391.9,587.7L392.7,588.0L393.6,588.3L394.6,587.7L395.7,588.1L395.9,587.3L396.6,587.3Z M378.5,565.5L378.3,564.7L378.5,563.7L378.1,562.9L377.9,562.2L377.2,562.2L377.0,563.2L376.5,564.1L376.2,565.0L376.2,566.0L376.5,567.0L376.7,568.0L377.2,568.8L378.0,568.9L378.1,568.1L377.8,567.2L378.9,566.5L378.5,565.5Z M377.5,557.1L377.4,556.4L377.4,555.6L377.1,554.8L376.4,555.1L376.2,554.3L375.7,555.0L375.5,555.9L375.1,556.7L376.0,557.6L375.5,558.4L376.0,559.1L376.2,560.0L376.4,559.3L377.1,559.4L377.6,558.7L377.0,557.8L377.5,557.1Z M661.0,95.1L660.7,94.6L660.4,94.1L659.5,94.6L658.9,93.9L658.3,94.3L657.7,94.5L658.2,95.1L657.7,95.6L658.2,96.2L658.9,96.3L659.7,96.8L660.4,96.1L660.7,95.6L661.0,95.1Z M657.8,102.6L657.3,101.9L657.4,101.0L656.5,100.6L655.9,101.0L655.8,101.7L656.1,102.6L655.8,103.5L656.3,104.0L656.5,104.7L657.4,104.3L657.3,103.3L657.8,102.6Z M668.5,89.6L668.3,89.0L667.7,88.8L666.7,89.1L665.9,88.6L665.3,89.2L664.4,89.2L664.4,90.1L665.1,90.4L665.9,90.7L666.8,90.6L667.7,90.5L667.7,89.7L668.5,89.6Z M682.0,80.4L681.9,79.7L681.4,79.1L680.8,79.1L680.2,78.8L679.5,79.0L679.3,79.7L679.3,80.4L679.3,81.2L679.8,81.5L680.2,82.1L680.9,82.5L681.4,81.7L682.0,81.2L682.0,80.4Z M690.8,70.0L690.4,69.3L689.6,69.1L688.7,68.5L687.8,69.2L686.9,68.9L686.1,68.7L685.4,69.1L684.7,69.5L684.7,70.4L685.4,70.8L686.1,71.4L686.9,71.0L687.8,70.8L688.7,71.0L689.6,70.8L690.0,70.0L690.8,70.0Z M695.1,67.9L695.1,67.0L694.3,66.9L693.4,66.7L692.5,66.6L691.9,67.3L691.0,67.3L690.7,67.9L691.0,68.4L691.8,68.7L692.5,69.1L693.4,69.4L694.3,68.8L694.9,68.6L695.1,67.9Z M701.8,65.3L701.3,65.0L701.1,64.4L700.4,64.2L699.6,64.1L698.9,64.2L698.4,64.8L698.8,65.3L698.4,65.9L699.1,66.1L699.6,66.6L700.5,67.1L701.1,66.3L701.5,65.9L701.8,65.3Z M707.1,62.8L706.8,62.4L706.4,62.0L705.6,62.4L705.0,61.8L704.3,62.0L703.7,62.4L703.7,63.3L704.3,63.8L705.0,63.9L705.7,64.2L706.4,63.7L707.1,63.6L707.1,62.8Z M721.6,59.9L720.8,59.2L719.9,59.2L719.0,59.1L718.2,58.7L717.6,59.5L717.6,60.3L718.2,60.9L719.0,60.7L719.9,60.5L720.8,60.6L721.6,59.9Z M724.8,194.8L724.2,194.1L723.5,193.7L722.7,194.0L722.1,194.2L721.5,194.4L721.5,195.2L722.1,195.3L722.7,195.6L723.4,195.2L724.2,195.4L724.8,194.8Z M729.8,201.1L729.3,200.3L728.7,199.9L728.1,200.0L727.7,200.5L727.1,200.6L727.1,201.5L727.5,202.0L728.1,202.1L728.6,201.5L729.3,201.9L729.8,201.1Z M731.9,191.9L731.5,191.0L730.6,190.8L729.9,191.4L729.9,192.3L730.6,192.9L731.5,192.7L731.9,191.9Z M734.8,204.0L734.4,203.3L733.5,203.2L732.7,203.6L732.7,204.4L733.5,204.8L734.4,204.7L734.8,204.0Z M727.0,197.7L726.7,196.9L726.1,196.7L725.6,197.3L725.6,198.2L726.1,198.7L726.7,198.5L727.0,197.7Z M711.9,195.6L711.6,194.6L710.8,194.4L710.2,195.1L710.7,195.6L710.2,196.2L710.8,196.8L711.6,196.6L711.9,195.6Z M1064.4,392.1L1064.3,391.8L1064.0,391.7L1063.7,391.9L1063.7,392.3L1064.0,392.5L1064.3,392.4L1064.4,392.1Z"/>
<path id="bordp" d="M138.2,64.5L138.2,103.5L145.3,104.7L150.6,109.3L157.7,106.0L164.8,111.0L170.8,118.5L177.2,121.5L177.2,126.5 M202.0,150.8L300.6,150.8L302.3,151.6L311.9,153.7L320.8,155.0 M342.0,163.4L345.6,166.3L345.9,175.9L343.5,180.1 M358.0,175.1L366.8,170.9L373.2,167.6L384.6,167.6L388.8,161.3L392.7,157.5L397.7,158.8L397.7,164.6L399.8,166.7 M222.9,219.9L231.5,219.1L244.6,224.9L254.5,224.9L254.5,222.9L260.5,222.9L267.6,231.6L272.9,234.6L275.4,230.8L280.0,232.1L285.3,240.9L287.1,245.5L293.5,247.6 M311.2,295.3L311.2,292.4L313.0,289.0L317.6,288.6L314.0,284.0L315.5,281.5L321.8,281.5L321.8,289.5L322.9,289.5 M321.8,281.5L325.0,278.6 M321.5,295.7L321.5,295.7L327.2,298.3L328.6,301.6 M327.2,301.6L330.7,298.3L334.2,297.8L337.4,294.1L343.1,293.2 M334.2,309.6L337.8,310.0L341.3,310.4 M344.2,322.1L344.2,316.3 M364.4,323.0L363.7,319.6 M382.8,307.5L381.0,312.1L381.4,321.3L386.3,326.7L391.7,330.5L398.8,330.1L397.7,339.3L399.8,347.7L400.9,351.0 M400.9,351.0L407.6,352.7L411.2,347.7L414.7,340.1L421.8,337.2L422.9,334.3 M422.9,334.3L420.4,330.9L425.3,321.7 M422.9,334.3L426.0,337.2L427.1,348.5L432.4,349.8L437.7,348.1 M435.3,331.3L432.4,339.3L437.7,348.1L444.8,346.4L451.9,346.4L455.1,338.5 M446.6,331.8L444.8,346.4 M400.9,351.0L390.6,351.5L392.0,361.1L389.9,373.7L380.0,377.0L376.4,386.2L381.0,395.9L387.8,396.3L387.8,402.1L391.7,402.1 M389.9,373.7L381.0,366.1L375.7,360.3L371.1,356.5L363.3,354.0L358.7,350.2 M371.1,356.5L370.4,362.8L361.5,370.3L358.0,377.0L353.4,374.1L353.4,370.3 M391.7,402.1L394.1,408.4L393.4,420.2L391.7,429.4L388.5,432.7 M391.7,429.4L397.0,435.7L395.2,443.2L397.7,451.6L400.5,452.4 M391.7,402.1L397.0,400.9L406.2,397.1L406.5,405.5L415.4,410.5L424.6,413.5L424.6,423.9L431.4,424.3L431.7,430.6L433.8,432.3L432.4,439.0 M400.5,452.4L407.6,448.6L415.8,449.1L419.0,439.8L426.0,436.9L432.4,439.0L432.4,448.2L440.2,449.5L440.9,456.6L445.2,456.6L444.5,463.3 M415.8,449.1L425.3,456.6L433.1,461.6L430.6,470.0L439.5,470.4L444.5,463.3L447.7,465.8L447.7,470.0L440.2,474.6L433.8,482.6 M433.8,482.6L440.9,485.1L448.4,493.5L448.7,497.2 M433.8,482.6L431.7,492.2L431.0,498.5 M400.5,452.4L395.9,458.7L395.2,469.2L390.6,481.7L388.1,494.3L390.6,502.7L386.3,515.2L383.9,532.0L384.6,544.6L381.7,557.1L378.5,565.5L381.7,569.7L393.4,574.7 M394.9,576.8L394.9,585.6 M606.8,180.1L608.9,180.1L615.0,180.1L615.7,183.1L613.2,188.5L612.5,196.0L611.4,200.2 M631.6,174.3L640.5,176.8L649.3,178.4 M646.9,142.0L652.9,146.6L658.6,148.7L667.1,150.8L664.9,156.7 M658.6,148.7L660.0,144.5L659.3,139.1L662.8,137.4L663.5,132.8 M664.9,156.7L659.6,162.1L662.8,163.8L662.1,169.7L664.6,172.6 M662.8,163.8L668.1,162.5L675.2,159.6L681.2,159.2L686.6,161.3L686.6,165.0 M664.9,156.7L672.0,157.1L675.2,159.6 M672.0,157.1L684.1,157.1L686.9,151.6L681.2,145.8L688.7,142.4L691.2,142.4L690.1,136.1L688.3,130.3 M686.9,151.6L691.2,150.8L698.3,152.5L699.0,155.0L695.1,159.6L686.6,161.3 M691.2,142.4L698.3,145.4L704.6,148.7L717.8,150.4L716.7,153.3 M698.3,152.5L704.6,148.7 M699.0,155.0L704.6,155.8L716.7,153.3L725.9,155.8L732.3,153.7 M695.1,159.6L696.5,161.3L704.6,163.8L710.0,162.5L716.7,153.3 M710.0,162.5L713.9,168.4L718.5,170.9L717.4,175.9L719.5,180.1L717.4,183.1L712.4,184.3L710.7,182.6L706.8,180.5 M686.6,165.0L692.2,165.5L696.5,161.3 M704.6,163.8L705.3,168.0L694.7,166.7L694.0,170.9L700.4,175.9L703.6,178.0 M705.3,168.0L706.1,173.8L710.0,176.8L706.8,180.5 M718.5,170.9L726.6,173.0L733.7,171.3L739.4,173.0 M717.4,183.1L724.8,182.6L731.2,181.4L732.3,184.3L730.2,185.2 M731.2,181.4L737.2,180.1 M710.7,182.6L711.4,187.2L708.9,189.8 M712.4,184.3L719.2,183.5 M725.9,155.8L732.3,153.7L738.0,165.5L743.3,166.3 M732.3,153.7L737.2,153.3L744.3,161.7L738.0,165.5 M717.8,150.4L723.1,144.5L721.6,140.3L721.3,136.1L722.7,129.9L718.8,128.2L707.5,128.2 M721.6,140.3L733.7,139.5L746.1,141.2L750.7,137.8L759.2,141.2L763.8,144.9L772.7,147.0L779.8,148.3L778.7,155.8L773.4,158.8 M750.7,137.8L748.9,133.2L753.9,132.0L747.2,126.5L747.5,123.2L738.0,121.1L736.2,116.0L734.8,115.2 M722.7,129.9L729.1,128.6L732.3,122.7L738.0,121.1 M718.8,128.2L718.8,125.7L713.1,124.4 M712.6,121.1L726.3,119.8L732.3,122.7 M724.5,113.5L730.2,113.9L734.8,115.2L736.5,107.2 M737.2,67.0L740.8,75.8L744.3,80.8L742.9,84.2L749.6,92.6L736.5,102.6 M711.0,67.0L722.0,71.6L721.6,79.6L723.8,80.4 M711.0,67.0L701.8,69.1L696.1,73.3L689.4,79.2L687.6,87.1L681.2,90.1L681.2,99.3L682.3,104.7L678.8,108.9 M711.0,67.0L716.0,67.9L729.4,64.5L737.2,62.8L740.8,63.7L737.2,67.0 M668.5,126.1L672.7,126.5 M731.2,181.4L732.3,184.3 M785.1,182.2L792.2,183.9L792.5,188.5L796.8,189.8L795.0,196.9L796.8,200.2L788.3,200.7L779.8,201.9L772.7,201.9L768.1,201.9L766.3,205.7 M779.8,173.8L790.4,177.6L802.5,180.5L804.6,181.8L809.9,181.0 M792.2,183.9L797.5,183.5L802.5,180.5 M796.8,189.8L802.8,193.1L808.1,189.8L811.3,195.2 M796.8,200.2L799.3,205.3L801.8,209.4L799.3,213.6L801.0,217.8L807.1,226.2L808.1,230.4 M788.3,200.7L784.0,210.3L775.5,216.2L776.9,221.2 M775.5,216.2L768.4,220.8L764.9,219.1L764.2,216.6L767.7,212.8L765.6,211.1 M776.9,221.2L769.1,224.1L772.7,228.3L770.9,230.4L765.6,233.7L761.7,232.9 M776.9,221.2L786.9,225.4L796.4,233.7L802.8,234.2L807.1,230.4L808.1,230.4 M802.8,234.2L806.4,236.7L809.6,236.7 M764.2,216.6L763.8,222.0L762.1,232.1 M759.2,224.9L761.7,232.5 M822.3,255.5L820.9,254.7 M822.3,255.5L833.7,261.0L835.4,263.9L832.9,272.3L822.3,276.5L811.7,278.1L804.6,285.3L794.0,283.2L791.1,286.5 M835.4,263.9L836.5,255.5L837.9,251.8 M832.9,272.3L833.7,261.0 M822.3,276.5L826.2,286.5 M811.3,195.2L811.3,195.2 M829.0,199.8L836.5,196.5L846.4,198.6L854.9,202.7L854.9,206.9L852.4,214.9L853.5,224.1L857.0,226.2L853.9,231.2L860.6,242.1L862.0,244.6L856.3,250.5 M853.9,231.2L871.9,231.2L873.4,226.2L883.6,222.4L886.1,216.6L890.0,213.2L891.4,205.3L903.5,200.2 M854.9,206.9L866.6,204.0L873.7,199.4L879.0,201.1L891.8,202.3L891.4,196.9L903.5,200.2 M903.5,200.2L913.8,207.4L918.0,219.9L916.9,224.9L925.1,229.6 M903.5,200.2L901.7,210.3L900.3,217.8L905.3,220.8L902.1,226.2L896.7,233.3L887.2,238.8L884.7,242.1L888.9,248.4L886.1,254.7L879.7,256.8 M925.1,229.6L921.9,235.4L933.3,241.7L950.3,245.5L950.3,239.2L942.8,238.8L925.1,229.6 M950.3,239.2L952.7,241.7L956.3,237.9L963.0,239.6L964.1,243.4L956.3,244.2L952.7,241.7 M963.0,239.6L974.7,233.7L982.9,237.9 M950.3,245.5L951.0,251.8L953.5,263.9L953.5,264.7 M951.0,251.8L956.3,247.1L965.2,251.3L961.3,256.8L965.2,261.0L965.5,269.4 M965.2,261.0L968.7,255.5L973.7,249.2L982.9,237.9L987.8,240.4L987.1,248.0L983.9,253.9L988.5,258.9L990.7,260.1L989.6,263.5L996.3,264.7L998.8,261.8L1001.3,261.0L1011.2,258.5L1016.2,260.1L1020.8,265.6 M989.6,263.5L992.8,270.6L994.6,274.4L997.1,274.0L996.0,281.5L999.9,279.8L1006.6,279.4L1009.5,286.9L1012.3,295.3L1019.0,294.1L1019.4,304.5L1013.4,307.1L1013.7,310.4L1008.4,312.5 M996.3,264.7L1000.2,266.4L1003.1,268.9L1008.7,269.8L1006.6,274.4L1010.9,278.1L1019.0,294.1 M1012.3,295.3L1003.8,296.2L1000.6,299.1L1002.7,307.1 M992.8,270.6L985.4,273.1L984.3,278.6L987.5,288.2L986.1,292.4L989.6,301.6L988.9,310.0 M993.2,328.8L996.3,332.2L999.5,330.1 M802.8,153.3L804.6,147.5L810.6,144.5L818.1,139.5L831.2,142.4L845.7,142.0L856.0,143.3L854.2,134.5L854.9,130.3L869.1,128.6L879.7,125.7L888.9,124.4L890.4,129.4L898.5,129.9L910.2,128.2L914.1,132.8L921.6,143.3L933.6,142.4L940.3,148.3L947.4,150.4 M947.4,150.4L942.1,159.2L932.2,158.3L929.7,165.5L921.9,179.3L922.3,179.7L910.2,184.3L898.9,190.6L899.6,194.4L903.5,200.2 M922.3,179.7L918.0,176.8L903.8,176.4L889.7,178.0L886.8,182.2L879.0,184.3L873.7,183.5L871.9,175.9L854.6,170.5L845.3,165.5L836.5,167.1L836.5,183.1L831.9,180.1L824.1,181.0 M836.5,183.1L840.4,183.1L845.7,177.2L850.7,181.0L858.5,188.5L865.6,193.1L873.7,199.4 M879.0,184.3L886.8,182.2L887.9,187.7L881.1,190.2L876.9,191.9L879.0,201.1 M889.7,178.0L887.9,187.7L898.9,190.6 M947.4,150.4L957.0,146.6L965.2,143.3L973.3,146.6L985.4,144.5L986.4,138.2L1000.2,141.2L1003.1,145.4L1017.3,146.6L1027.9,150.0L1038.5,148.3L1051.6,147.5L1063.0,160.4L1051.3,162.1L1047.7,155.4L1051.6,147.5 M947.4,150.4L960.5,160.9L960.5,166.7L976.1,170.5L979.7,177.2L998.8,178.0L1010.2,181.8L1029.3,176.8L1034.6,173.0L1034.6,167.1L1051.3,162.1 M1051.6,147.5L1063.3,135.3L1066.9,132.8L1083.2,133.6L1089.9,145.8L1102.0,156.2L1115.4,153.3L1109.4,167.6L1103.4,173.8L1101.3,178.9 M1101.3,178.9L1091.7,180.1L1087.8,181.0L1078.6,188.5 M1087.1,197.7L1093.1,194.4 M591.2,240.0L607.2,240.0L607.2,235.8L625.2,223.3L633.7,221.2L630.2,209.0 M577.7,266.4L591.9,266.8L591.9,259.7L595.5,257.6L595.5,247.1L607.2,247.1L607.2,241.7L621.0,251.3L642.3,267.7L649.7,276.5L652.9,276.1L652.9,285.7L638.7,293.2L635.5,293.2L630.9,296.6L627.4,299.1 M607.2,241.7L615.0,251.3L618.5,286.9L619.2,291.1L597.2,291.6L594.8,294.1L586.6,286.5L579.5,289.0 M594.8,294.1L597.6,304.1L589.4,303.3L578.8,304.1 M578.5,300.8L589.1,299.5 M597.6,304.1L607.9,310.0L610.0,313.3L608.9,320.5L611.1,331.3L611.4,337.6 M607.9,310.0L618.5,312.5L619.2,307.1L627.4,299.1 M589.4,314.6L599.0,314.2L600.4,317.9L601.5,320.5L597.2,327.2 M601.5,320.5L608.9,324.2 M590.9,318.4L593.7,314.6 M628.4,334.7L628.1,316.7L627.7,310.0L637.6,309.6L640.8,310.0L642.3,330.5 M618.5,312.5L628.1,316.7 M637.6,309.6L638.7,293.2 M640.8,310.0L646.5,305.0L650.8,307.1L647.6,323.0L647.6,329.3 M643.7,330.1L643.7,318.4L640.8,310.0 M646.5,305.0L650.8,307.1 M650.8,307.1L652.5,299.5L662.8,301.6L673.4,300.3L686.2,298.7L689.7,305.0L688.3,315.0L685.1,320.5L680.5,326.7L675.2,327.2L668.5,336.0 M686.2,298.7L692.9,285.3L694.7,271.0L691.2,259.7L680.5,257.6L671.7,245.9L673.1,229.1L671.7,229.1L667.8,219.5L664.6,214.1L668.5,201.5 M678.8,217.0L673.4,223.3L673.1,229.1 M652.9,276.1L658.6,274.4L680.5,257.6 M691.2,259.7L694.7,257.6L723.1,274.4L723.1,272.3L726.6,272.3L726.6,223.7 M723.1,274.4L723.1,290.3L719.2,290.3L716.0,303.3L719.2,310.0L722.0,319.6L727.3,312.9L735.5,315.8 M726.6,263.9L768.8,263.9 M692.9,285.3L691.2,299.5L687.6,301.2 M688.3,315.0L692.9,314.6L691.9,324.6L694.7,324.2L703.9,322.6L705.3,318.4L710.0,317.9L719.2,310.0 M691.9,324.6L689.4,330.9L695.1,346.8L685.1,346.8L678.1,346.4L678.1,351.9L672.7,351.9 M695.1,346.8L703.9,341.4L703.6,338.0L717.4,338.9L726.6,335.1L735.1,334.7 M722.0,319.6L735.1,334.7L747.5,341.4L747.9,339.3 M735.5,315.8L740.8,315.8L744.3,312.9L753.2,307.1L755.3,310.0L758.9,316.3L758.5,320.5L755.7,323.4L763.1,333.4L758.5,338.5L747.9,339.3 M755.3,310.0L761.7,310.8L766.3,302.9L767.4,296.2L772.3,293.6L774.8,280.7 M767.4,296.2L776.2,294.9L788.3,303.7L790.8,302.9 M788.3,303.7L786.2,310.0L790.4,307.9 M786.2,310.0L790.4,318.4L807.4,322.6L797.5,335.1L786.9,338.5L783.3,339.7L783.3,363.2 M763.1,333.4L766.3,337.6L773.0,341.0L783.3,339.7 M758.5,338.5L762.1,348.9L758.5,356.1L758.5,360.3L771.6,369.0L776.9,375.8 M747.5,341.4L747.2,346.4L742.9,358.6L742.9,361.9L746.1,360.7L758.5,360.3 M742.9,361.9L740.8,367.8L746.1,366.1L747.2,360.7 M740.8,367.8L742.2,374.5L747.2,369.9L746.1,366.1 M742.2,374.5L742.9,383.3L747.2,390.8L740.4,391.7L738.7,395.0L739.7,400.9L738.7,406.3L743.6,407.2L743.6,412.2L734.4,404.7L724.5,403.8L723.1,401.7L716.7,403.0L715.3,386.6L707.1,385.4L705.3,389.6L700.4,390.0L696.8,380.8L684.1,380.8L681.2,380.4 M703.9,341.4L700.7,358.2L695.4,365.3L694.7,374.9L684.1,375.3L683.4,374.5L689.0,364.0L689.4,358.6L685.1,346.8 M683.4,374.5L677.7,372.4 M678.1,351.9L678.1,346.4 M672.7,346.4L678.1,346.4 M747.2,390.8L754.6,395.4L758.5,395.9L760.3,404.2L770.9,405.1L781.2,400.0 M754.6,395.4L756.0,408.4L753.9,413.0L755.7,414.7L745.0,418.9L745.8,421.4L754.3,426.0L755.0,439.0L753.2,445.3L748.9,449.9L751.1,458.3L751.1,464.6L754.6,468.3 M760.3,404.2L760.6,416.8L764.9,423.1L763.1,427.7L759.6,421.8L755.7,414.7 M723.1,401.7L723.1,410.5L716.0,410.5L716.0,423.9L720.9,429.8L727.7,430.6 M679.8,428.5L687.6,429.0L703.2,429.0L720.9,429.8 M727.7,430.6L733.7,431.0L745.8,421.4 M727.7,430.6L730.9,438.2L736.2,441.9L742.2,449.1L748.9,449.9 M708.9,431.0L712.4,432.7L712.4,448.2L708.9,448.2L708.9,459.9L708.9,475.0L696.5,475.9 M708.9,459.9L711.7,468.7L718.5,462.9L728.7,463.3L733.3,455.3L742.2,449.1 M733.7,480.1L739.4,475.9L742.2,480.1L738.0,484.2L733.7,480.1 M747.9,465.0L751.4,465.0L751.4,468.3L747.9,470.0L747.2,466.2L747.9,465.0 M1137.8,367.0L1137.8,394.2 M1026.5,347.7L1030.7,352.3L1035.7,349.8L1044.2,350.2L1048.4,338.0L1054.5,338.5 M1077.9,395.4L1081.4,394.6"/>
<clipPath id="landclip"><use href="#landp"/></clipPath>
<clipPath id="boxclip"><rect x="0" y="0" width="1276.0" height="607.4"/></clipPath>
<filter id="blm" x="0" y="0" width="100%" height="100%" filterUnits="userSpaceOnUse" primitiveUnits="userSpaceOnUse"><feTurbulence type="fractalNoise" baseFrequency="0.09" numOctaves="2" seed="7" result="n"/><feDisplacementMap in="SourceGraphic" in2="n" scale="16" xChannelSelector="R" yChannelSelector="G" result="d"/><feTurbulence type="fractalNoise" baseFrequency="0.2" numOctaves="2" seed="31" result="m"/><feColorMatrix in="m" type="matrix" values="0 0 0 0 0  0 0 0 0 0  0 0 0 0 0  0 0 7 0 -2.2" result="ma"/><feComposite in="d" in2="ma" operator="in"/><feGaussianBlur stdDeviation="0.6"/></filter>
<filter id="blw" x="0" y="0" width="100%" height="100%" filterUnits="userSpaceOnUse" primitiveUnits="userSpaceOnUse"><feTurbulence type="fractalNoise" baseFrequency="0.09" numOctaves="2" seed="7" result="n"/><feDisplacementMap in="SourceGraphic" in2="n" scale="16" xChannelSelector="R" yChannelSelector="G" result="d"/><feTurbulence type="fractalNoise" baseFrequency="0.14" numOctaves="2" seed="53" result="m"/><feColorMatrix in="m" type="matrix" values="0 0 0 0 0  0 0 0 0 0  0 0 0 0 0  0 7 0 0 -2.9" result="ma"/><feComposite in="d" in2="ma" operator="in"/><feGaussianBlur stdDeviation="0.6"/></filter>
<filter id="bl" x="0" y="0" width="100%" height="100%" filterUnits="userSpaceOnUse" primitiveUnits="userSpaceOnUse"><feTurbulence type="fractalNoise" baseFrequency="0.09" numOctaves="2" seed="7" result="n"/><feDisplacementMap in="SourceGraphic" in2="n" scale="14" xChannelSelector="R" yChannelSelector="G"/><feGaussianBlur stdDeviation="0.7"/></filter>
<filter id="mot" x="0" y="0" width="1276" height="607" filterUnits="userSpaceOnUse"><feTurbulence type="fractalNoise" baseFrequency="0.11" numOctaves="2" seed="11"/><feColorMatrix type="matrix" values="0 0 0 0 0.50  0 0 0 0 0.79  0 0 0 0 0.50  5 0 0 0 -2.65"/></filter>
<filter id="mot2" x="0" y="0" width="1276" height="607" filterUnits="userSpaceOnUse"><feTurbulence type="fractalNoise" baseFrequency="0.13" numOctaves="2" seed="29"/><feColorMatrix type="matrix" values="0 0 0 0 0.80  0 0 0 0 0.93  0 0 0 0 0.77  0 5 0 0 -2.75"/></filter>
<g id="narrow"><path d="M0,0 L-19.6,67 L0,42.5 Z" fill="#000"/><path d="M0.3,2 L18.6,65 L0.3,42.5 Z" fill="#fff" stroke="#000" stroke-width="2" stroke-linejoin="miter"/></g>
</defs>
<g transform="translate(157.3,20)">
<g clip-path="url(#boxclip)">
<use href="#landp" fill="#d9d9d9"/>
<g clip-path="url(#landclip)">
<g filter="url(#blm)">
<ellipse cx="262.3" cy="144.5" rx="19.5" ry="9.2" fill="#a6cde4"/>
<ellipse cx="260.5" cy="145.4" rx="5.7" ry="2.9" fill="#7bb6dc"/>
<ellipse cx="219.8" cy="188.5" rx="9.9" ry="15.9" fill="#a6cde4"/>
<ellipse cx="218.0" cy="184.3" rx="2.4" ry="4.6" fill="#4a97c9"/>
<ellipse cx="225.1" cy="199.0" rx="1.8" ry="2.1" fill="#4a97c9"/>
<ellipse cx="272.9" cy="213.6" rx="9.6" ry="14.7" fill="#a6cde4"/>
<ellipse cx="274.7" cy="222.0" rx="3.3" ry="5.0" fill="#4a97c9"/>
<ellipse cx="271.1" cy="209.4" rx="2.1" ry="3.4" fill="#7bb6dc"/>
<ellipse cx="276.5" cy="251.3" rx="9.2" ry="14.2" fill="#a6cde4"/>
<ellipse cx="248.1" cy="217.8" rx="10.6" ry="5.4" fill="#c2dcec"/>
<ellipse cx="294.2" cy="226.2" rx="7.8" ry="5.9" fill="#fee08f"/>
<ellipse cx="321.8" cy="272.3" rx="4.6" ry="7.1" fill="#fee08f"/>
<ellipse cx="321.8" cy="271.4" rx="2.8" ry="4.6" fill="#f59a3c"/>
<ellipse cx="404.1" cy="117.3" rx="4.3" ry="4.2" fill="#f6e3b0"/>
<ellipse cx="420.0" cy="132.4" rx="4.3" ry="3.8" fill="#f6e3b0"/>
<ellipse cx="356.2" cy="185.6" rx="5.0" ry="4.2" fill="#f6e3b0"/>
<ellipse cx="251.7" cy="134.0" rx="3.5" ry="2.5" fill="#c2dcec"/>
<ellipse cx="269.4" cy="171.7" rx="10.6" ry="8.4" fill="#c2dcec"/>
<ellipse cx="283.6" cy="115.2" rx="8.9" ry="3.4" fill="#c2dcec"/>
<ellipse cx="393.4" cy="322.6" rx="11.3" ry="6.7" fill="#a6cde4"/>
<ellipse cx="436.0" cy="366.5" rx="7.8" ry="14.2" fill="#a6cde4"/>
<ellipse cx="437.7" cy="362.3" rx="4.3" ry="7.5" fill="#8fc1de"/>
<ellipse cx="492.7" cy="393.8" rx="19.5" ry="21.8" fill="#fee08f"/>
<ellipse cx="490.9" cy="399.2" rx="8.0" ry="9.1" fill="#ec7014"/>
<ellipse cx="503.3" cy="377.8" rx="3.7" ry="4.1" fill="#ec7014"/>
<ellipse cx="490.9" cy="416.8" rx="2.1" ry="2.5" fill="#ec7014"/>
<ellipse cx="439.5" cy="404.2" rx="28.4" ry="8.4" fill="#f6e3b0"/>
<ellipse cx="437.7" cy="435.7" rx="4.3" ry="9.2" fill="#fee08f"/>
<ellipse cx="438.4" cy="436.9" rx="1.3" ry="1.9" fill="#ec7014"/>
<ellipse cx="355.2" cy="374.9" rx="5.3" ry="12.6" fill="#a6cde4"/>
<ellipse cx="354.4" cy="377.0" rx="2.1" ry="4.3" fill="#4a97c9"/>
<ellipse cx="372.2" cy="398.0" rx="8.9" ry="12.6" fill="#c2dcec"/>
<ellipse cx="414.7" cy="485.9" rx="21.3" ry="41.9" fill="#a6cde4"/>
<ellipse cx="418.2" cy="506.9" rx="14.2" ry="12.6" fill="#7bb6dc"/>
<ellipse cx="421.8" cy="511.1" rx="6.0" ry="5.0" fill="#4a97c9"/>
<ellipse cx="411.2" cy="473.4" rx="8.9" ry="12.6" fill="#8fc1de"/>
<ellipse cx="451.9" cy="471.3" rx="12.4" ry="14.7" fill="#a6cde4"/>
<ellipse cx="430.6" cy="452.4" rx="11.3" ry="14.7" fill="#a6cde4"/>
<ellipse cx="432.4" cy="448.2" rx="3.0" ry="4.3" fill="#4a97c9"/>
<ellipse cx="395.9" cy="458.7" rx="2.1" ry="4.7" fill="#ec7014"/>
<ellipse cx="400.5" cy="465.0" rx="2.8" ry="10.5" fill="#fee08f"/>
<ellipse cx="386.3" cy="515.2" rx="4.6" ry="16.8" fill="#c2dcec"/>
<ellipse cx="475.0" cy="435.7" rx="3.5" ry="5.9" fill="#a6cde4"/>
<ellipse cx="735.5" cy="321.3" rx="35.4" ry="24.3" fill="#a6cde4"/>
<ellipse cx="726.6" cy="364.4" rx="17.7" ry="28.5" fill="#a6cde4"/>
<ellipse cx="723.1" cy="356.1" rx="8.9" ry="14.7" fill="#8fc1de"/>
<ellipse cx="735.5" cy="321.3" rx="24.1" ry="15.0" fill="#4a97c9"/>
<ellipse cx="684.1" cy="230.4" rx="9.2" ry="11.7" fill="#a6cde4"/>
<ellipse cx="685.1" cy="228.3" rx="2.7" ry="3.9" fill="#4a97c9"/>
<ellipse cx="620.3" cy="219.9" rx="9.2" ry="8.4" fill="#a6cde4"/>
<ellipse cx="661.0" cy="226.2" rx="7.1" ry="16.8" fill="#c2dcec"/>
<ellipse cx="641.5" cy="217.8" rx="5.3" ry="6.3" fill="#fee08f"/>
<ellipse cx="652.2" cy="259.7" rx="5.3" ry="6.3" fill="#c2dcec"/>
<ellipse cx="669.9" cy="312.1" rx="16.3" ry="13.4" fill="#fee08f"/>
<ellipse cx="659.3" cy="312.1" rx="2.1" ry="2.2" fill="#ec7014"/>
<ellipse cx="680.5" cy="312.1" rx="3.2" ry="1.9" fill="#ec7014"/>
<ellipse cx="673.4" cy="292.0" rx="12.8" ry="4.6" fill="#fee08f"/>
<ellipse cx="671.7" cy="292.4" rx="3.5" ry="1.6" fill="#ec7014"/>
<ellipse cx="633.4" cy="321.3" rx="5.3" ry="11.3" fill="#fee08f"/>
<ellipse cx="633.7" cy="326.7" rx="1.6" ry="2.2" fill="#ec7014"/>
<ellipse cx="615.0" cy="326.7" rx="4.6" ry="4.6" fill="#fee08f"/>
<ellipse cx="591.9" cy="281.9" rx="9.2" ry="4.2" fill="#fee08f"/>
<ellipse cx="590.1" cy="282.3" rx="2.1" ry="1.6" fill="#ec7014"/>
<ellipse cx="802.1" cy="245.1" rx="7.8" ry="6.7" fill="#a6cde4"/>
<ellipse cx="802.8" cy="244.2" rx="3.0" ry="2.8" fill="#4a97c9"/>
<ellipse cx="792.2" cy="293.2" rx="5.7" ry="6.7" fill="#a6cde4"/>
<ellipse cx="779.8" cy="263.9" rx="7.1" ry="12.6" fill="#c2dcec"/>
<ellipse cx="799.3" cy="219.9" rx="7.1" ry="13.4" fill="#fee08f"/>
<ellipse cx="798.6" cy="219.9" rx="3.5" ry="8.2" fill="#ec7014"/>
<ellipse cx="841.1" cy="242.1" rx="17.7" ry="5.0" fill="#fee08f" transform="rotate(18 841.1 242.1)"/>
<ellipse cx="841.1" cy="242.1" rx="11.2" ry="2.2" fill="#ec7014" transform="rotate(18 841.1 242.1)"/>
<ellipse cx="762.1" cy="377.0" rx="12.8" ry="13.0" fill="#fee08f"/>
<ellipse cx="769.1" cy="379.1" rx="2.1" ry="1.9" fill="#ec7014"/>
<ellipse cx="757.8" cy="368.6" rx="2.1" ry="1.6" fill="#ec7014"/>
<ellipse cx="765.6" cy="366.5" rx="2.4" ry="1.6" fill="#ec7014"/>
<ellipse cx="781.5" cy="360.3" rx="2.4" ry="10.1" fill="#ec7014" transform="rotate(-35 781.5 360.3)"/>
<ellipse cx="776.2" cy="366.5" rx="1.6" ry="5.7" fill="#ec7014" transform="rotate(-20 776.2 366.5)"/>
<ellipse cx="769.1" cy="427.3" rx="9.2" ry="10.9" fill="#fee08f"/>
<ellipse cx="770.9" cy="429.4" rx="4.0" ry="5.0" fill="#ec7014"/>
<ellipse cx="767.4" cy="421.0" rx="2.1" ry="2.5" fill="#ec7014"/>
<ellipse cx="691.2" cy="413.9" rx="5.7" ry="6.3" fill="#fee08f"/>
<ellipse cx="700.0" cy="446.1" rx="10.3" ry="16.8" fill="#a6cde4"/>
<ellipse cx="699.3" cy="442.4" rx="3.9" ry="5.7" fill="#4a97c9"/>
<ellipse cx="728.4" cy="479.6" rx="24.8" ry="18.9" fill="#a6cde4"/>
<ellipse cx="739.4" cy="474.2" rx="6.0" ry="7.8" fill="#4a97c9"/>
<ellipse cx="723.1" cy="485.9" rx="3.6" ry="3.6" fill="#4a97c9"/>
<ellipse cx="776.2" cy="322.6" rx="10.6" ry="12.6" fill="#c2dcec"/>
<ellipse cx="765.6" cy="194.4" rx="23.0" ry="7.1" fill="#a6cde4"/>
<ellipse cx="751.4" cy="196.9" rx="7.1" ry="4.2" fill="#8fc1de"/>
<ellipse cx="744.3" cy="261.8" rx="2.8" ry="2.5" fill="#fee08f"/>
<ellipse cx="730.2" cy="163.4" rx="16.3" ry="12.6" fill="#fee08f"/>
<ellipse cx="781.5" cy="145.4" rx="5.7" ry="6.3" fill="#fee08f"/>
<ellipse cx="691.2" cy="155.0" rx="7.4" ry="5.4" fill="#fee08f"/>
<ellipse cx="716.0" cy="171.7" rx="3.5" ry="8.4" fill="#f6e3b0"/>
<ellipse cx="790.4" cy="167.6" rx="10.6" ry="5.4" fill="#c2dcec"/>
<ellipse cx="868.4" cy="129.9" rx="17.7" ry="8.4" fill="#a6cde4"/>
<ellipse cx="648.6" cy="171.7" rx="7.1" ry="5.0" fill="#c2dcec"/>
<ellipse cx="997.8" cy="157.1" rx="30.1" ry="11.3" fill="#a6cde4"/>
<ellipse cx="990.3" cy="156.7" rx="4.8" ry="2.8" fill="#4a97c9"/>
<ellipse cx="1005.9" cy="162.1" rx="4.8" ry="2.8" fill="#4a97c9"/>
<ellipse cx="974.7" cy="159.2" rx="3.0" ry="2.5" fill="#4a97c9"/>
<ellipse cx="1081.1" cy="155.0" rx="9.2" ry="9.6" fill="#a6cde4"/>
<ellipse cx="1081.1" cy="154.2" rx="3.3" ry="3.6" fill="#4a97c9"/>
<ellipse cx="1066.9" cy="171.7" rx="14.2" ry="8.4" fill="#c2dcec"/>
<ellipse cx="928.6" cy="155.0" rx="12.8" ry="11.7" fill="#c2dcec"/>
<ellipse cx="943.9" cy="176.8" rx="6.1" ry="4.1" fill="#ec7014"/>
<ellipse cx="941.0" cy="199.0" rx="21.3" ry="14.7" fill="#a6cde4"/>
<ellipse cx="935.7" cy="205.3" rx="3.0" ry="2.1" fill="#4a97c9"/>
<ellipse cx="949.9" cy="194.8" rx="2.7" ry="2.1" fill="#4a97c9"/>
<ellipse cx="981.8" cy="215.7" rx="18.4" ry="11.7" fill="#fee08f"/>
<ellipse cx="973.7" cy="217.0" rx="4.3" ry="4.7" fill="#ec7014"/>
<ellipse cx="993.2" cy="218.2" rx="4.3" ry="4.7" fill="#ec7014"/>
<ellipse cx="983.6" cy="207.4" rx="1.6" ry="1.9" fill="#ec7014"/>
<ellipse cx="967.6" cy="205.3" rx="1.6" ry="1.9" fill="#ec7014"/>
<ellipse cx="963.4" cy="228.7" rx="3.0" ry="2.8" fill="#4a97c9"/>
<ellipse cx="1020.8" cy="230.4" rx="31.9" ry="23.0" fill="#a6cde4"/>
<ellipse cx="1008.4" cy="219.5" rx="4.8" ry="4.3" fill="#4a97c9"/>
<ellipse cx="1022.6" cy="240.0" rx="3.6" ry="5.3" fill="#4a97c9"/>
<ellipse cx="1035.0" cy="238.8" rx="3.5" ry="4.2" fill="#7bb6dc"/>
<ellipse cx="1011.9" cy="188.5" rx="7.4" ry="5.9" fill="#fee08f"/>
<ellipse cx="1064.4" cy="220.8" rx="5.3" ry="10.1" fill="#fee08f"/>
<ellipse cx="1065.5" cy="220.8" rx="2.4" ry="6.0" fill="#ec7014"/>
<ellipse cx="937.5" cy="235.8" rx="9.0" ry="2.5" fill="#ec7014" transform="rotate(12 937.5 235.8)"/>
<ellipse cx="880.8" cy="213.6" rx="2.9" ry="2.8" fill="#ec7014"/>
<ellipse cx="891.4" cy="194.8" rx="9.2" ry="5.0" fill="#fee08f"/>
<ellipse cx="900.3" cy="243.0" rx="7.1" ry="5.4" fill="#fee08f"/>
<ellipse cx="910.9" cy="270.2" rx="13.8" ry="17.6" fill="#a6cde4"/>
<ellipse cx="910.9" cy="271.0" rx="6.0" ry="6.1" fill="#4a97c9"/>
<ellipse cx="907.4" cy="255.5" rx="3.5" ry="5.9" fill="#7bb6dc"/>
<ellipse cx="828.7" cy="166.7" rx="1.9" ry="3.5" fill="#ec7014"/>
<ellipse cx="848.2" cy="168.4" rx="2.1" ry="2.5" fill="#ec7014"/>
<ellipse cx="857.8" cy="205.3" rx="10.6" ry="4.2" fill="#f6e3b0"/>
<ellipse cx="871.9" cy="226.2" rx="7.1" ry="6.3" fill="#f6e3b0"/>
<ellipse cx="829.4" cy="215.7" rx="1.3" ry="1.6" fill="#ec7014"/>
<ellipse cx="978.3" cy="266.0" rx="5.3" ry="13.4" fill="#fee08f"/>
<ellipse cx="994.2" cy="289.0" rx="6.7" ry="10.9" fill="#fee08f"/>
<ellipse cx="996.0" cy="295.3" rx="1.9" ry="2.5" fill="#ec7014"/>
<ellipse cx="1013.7" cy="302.4" rx="9.2" ry="8.0" fill="#fee08f"/>
<ellipse cx="1014.4" cy="302.4" rx="4.5" ry="3.8" fill="#ec7014"/>
<ellipse cx="1052.7" cy="333.9" rx="5.7" ry="6.3" fill="#fee08f"/>
<ellipse cx="1053.4" cy="335.1" rx="1.9" ry="2.2" fill="#ec7014"/>
<ellipse cx="999.5" cy="343.5" rx="4.3" ry="11.7" fill="#f6e3b0"/>
<ellipse cx="1020.8" cy="63.7" rx="9.2" ry="6.3" fill="#fee08f"/>
<ellipse cx="1050.9" cy="64.9" rx="8.2" ry="5.4" fill="#fee08f"/>
<ellipse cx="1084.6" cy="72.1" rx="16.3" ry="13.4" fill="#fee08f"/>
<ellipse cx="1137.8" cy="77.5" rx="31.9" ry="14.2" fill="#fee08f"/>
<ellipse cx="1116.5" cy="69.1" rx="10.6" ry="6.3" fill="#fee08f"/>
<ellipse cx="1190.9" cy="68.3" rx="21.3" ry="8.4" fill="#fee08f"/>
<ellipse cx="1074.0" cy="96.3" rx="14.9" ry="8.8" fill="#fee08f"/>
<ellipse cx="1112.2" cy="93.4" rx="9.2" ry="6.3" fill="#fee08f"/>
<ellipse cx="1006.6" cy="100.5" rx="23.4" ry="11.3" fill="#fee08f"/>
<ellipse cx="1098.8" cy="117.3" rx="14.9" ry="6.3" fill="#fee08f"/>
<ellipse cx="1159.0" cy="90.1" rx="10.6" ry="5.0" fill="#fee08f"/>
<ellipse cx="843.6" cy="46.1" rx="17.7" ry="10.5" fill="#c2dcec"/>
<ellipse cx="992.4" cy="25.1" rx="14.2" ry="4.2" fill="#c2dcec"/>
<ellipse cx="1104.1" cy="439.8" rx="22.0" ry="19.3" fill="#a6cde4"/>
<ellipse cx="1107.6" cy="437.7" rx="10.8" ry="9.3" fill="#4a97c9"/>
<ellipse cx="1132.5" cy="473.4" rx="10.6" ry="15.9" fill="#fee08f"/>
<ellipse cx="1135.3" cy="476.3" rx="3.5" ry="5.3" fill="#ec7014"/>
<ellipse cx="1127.1" cy="462.9" rx="1.6" ry="1.9" fill="#ec7014"/>
<ellipse cx="1162.6" cy="469.2" rx="15.9" ry="29.3" fill="#a6cde4"/>
<ellipse cx="1158.3" cy="493.9" rx="3.9" ry="4.3" fill="#4a97c9"/>
<ellipse cx="1063.3" cy="473.4" rx="12.4" ry="20.9" fill="#c2dcec"/>
<ellipse cx="1169.7" cy="504.8" rx="3.5" ry="5.0" fill="#a6cde4"/>
<ellipse cx="205.6" cy="51.1" rx="7.1" ry="4.2" fill="#f6e3b0"/>
<ellipse cx="336.7" cy="23.0" rx="10.6" ry="4.2" fill="#fee08f"/>
<ellipse cx="354.4" cy="12.6" rx="5.3" ry="1.9" fill="#ec7014"/>
</g>
<g filter="url(#bl)">
<ellipse cx="487.4" cy="395.9" rx="3.2" ry="5.0" fill="#a03b06"/>
<ellipse cx="496.2" cy="402.1" rx="3.2" ry="3.1" fill="#a03b06"/>
<ellipse cx="395.9" cy="467.1" rx="2.7" ry="10.7" fill="#a03b06"/>
<ellipse cx="746.1" cy="325.9" rx="16.7" ry="13.4" fill="#0b559f"/>
<ellipse cx="730.2" cy="318.4" rx="8.9" ry="5.4" fill="#0b559f"/>
<ellipse cx="797.5" cy="217.8" rx="1.9" ry="4.4" fill="#a03b06"/>
<ellipse cx="699.3" cy="441.1" rx="1.8" ry="2.9" fill="#0b559f"/>
<ellipse cx="739.4" cy="474.2" rx="3.5" ry="5.4" fill="#0b559f"/>
<ellipse cx="942.8" cy="176.4" rx="2.7" ry="2.2" fill="#a03b06"/>
<ellipse cx="972.9" cy="215.7" rx="2.1" ry="2.8" fill="#a03b06"/>
<ellipse cx="994.2" cy="219.9" rx="2.1" ry="3.1" fill="#a03b06"/>
<ellipse cx="1066.2" cy="219.9" rx="1.3" ry="3.5" fill="#a03b06"/>
<ellipse cx="944.6" cy="237.9" rx="2.7" ry="1.6" fill="#a03b06" transform="rotate(12 944.6 237.9)"/>
<ellipse cx="1015.5" cy="303.3" rx="2.1" ry="1.9" fill="#a03b06"/>
<ellipse cx="1096.3" cy="435.2" rx="4.3" ry="4.2" fill="#0b559f"/>
<ellipse cx="1117.6" cy="434.4" rx="3.5" ry="3.4" fill="#0b559f"/>
<ellipse cx="1102.3" cy="446.1" rx="5.3" ry="2.9" fill="#0b559f"/>
</g>
</g>
<use href="#seap" fill="#fff" stroke="#111" stroke-width="1.8" stroke-linejoin="round"/>
<use href="#lakep" fill="none" stroke="#111" stroke-width="1.6" stroke-linejoin="round"/>
<use href="#bordp" fill="none" stroke="#333" stroke-width="1.5" stroke-linejoin="round"/>
<use href="#landp" fill="none" stroke="#111" stroke-width="1.9" stroke-linejoin="round"/>
<use href="#arcp" fill="none" stroke="#111" stroke-width="2.8" stroke-linejoin="round"/>
<use href="#greenp" fill="#fff" stroke="#111" stroke-width="2.1" stroke-linejoin="round"/>
</g>
<rect x="0" y="0" width="1276.0" height="607.4" fill="none" stroke="#5a5a5a" stroke-width="1.7"/>
<path d="M0.0,0V-10 M0.0,607.4V618.4 M212.7,0V-10 M212.7,607.4V618.4 M425.3,0V-10 M425.3,607.4V618.4 M638.0,0V-10 M638.0,607.4V618.4 M850.7,0V-10 M850.7,607.4V618.4 M1063.3,0V-10 M1063.3,607.4V618.4 M1276.0,0V-10 M1276.0,607.4V618.4 M0,104.7H-10 M1276.0,104.7H1287.0 M0,230.4H-10 M1276.0,230.4H1287.0 M0,356.1H-10 M1276.0,356.1H1287.0 M0,481.7H-10 M1276.0,481.7H1287.0 M0,607.4H-10 M1276.0,607.4H1287.0" stroke="#5a5a5a" stroke-width="1.7" fill="none"/>
<use href="#narrow" transform="translate(75.3,485.4)"/>
<text x="75.9" y="477.7" text-anchor="middle" font-family="Liberation Sans, sans-serif" font-size="27.5" fill="#111">N</text>
</g></svg>
<div class="yl" style="top:219.1px">60<sup>o</sup>N</div>
<div class="yl" style="top:344.8px">30<sup>o</sup>N</div>
<div class="yl" style="top:470.5px">0<sup>o</sup></div>
<div class="yl" style="top:596.1px">30<sup>o</sup>S</div>
<div class="yl" style="top:721.8px">60<sup>o</sup>S</div>
<div class="xl" style="left:58.5px;top:777.0px">180<sup>o</sup></div>
<div class="xl" style="left:272.0px;top:777.0px">120<sup>o</sup>W</div>
<div class="xl" style="left:480.5px;top:777.0px">60<sup>o</sup>W</div>
<div class="xl" style="left:695.0px;top:777.0px">0<sup>o</sup></div>
<div class="xl" style="left:907.0px;top:777.0px">60<sup>o</sup>E</div>
<div class="xl" style="left:1120.5px;top:777.0px">120<sup>o</sup>E</div>
<div class="xl" style="left:1333.5px;top:777.0px">180<sup>o</sup></div>
<svg class="map" style="left:0;top:895.0px" width="1557" height="652" viewBox="0 0 1557 652">
<g transform="translate(157.3,20)">
<g clip-path="url(#boxclip)">
<use href="#landp" fill="#d9d9d9"/>
<g clip-path="url(#landclip)">
<g filter="url(#blm)">
<ellipse cx="258.7" cy="136.1" rx="30.1" ry="17.6" fill="#a6cde4"/>
<ellipse cx="256.6" cy="140.3" rx="10.8" ry="8.9" fill="#4a97c9"/>
<ellipse cx="276.5" cy="108.9" rx="21.3" ry="16.8" fill="#c2dcec"/>
<ellipse cx="290.6" cy="121.5" rx="10.6" ry="6.7" fill="#a6cde4"/>
<ellipse cx="276.5" cy="171.7" rx="11.3" ry="17.6" fill="#a6cde4"/>
<ellipse cx="219.8" cy="188.5" rx="7.8" ry="15.1" fill="#a6cde4"/>
<ellipse cx="218.0" cy="186.4" rx="2.7" ry="6.1" fill="#4a97c9"/>
<ellipse cx="278.2" cy="215.7" rx="11.0" ry="15.1" fill="#a6cde4"/>
<ellipse cx="278.2" cy="219.9" rx="5.3" ry="7.5" fill="#7bb6dc"/>
<ellipse cx="272.9" cy="251.3" rx="7.1" ry="12.6" fill="#c2dcec"/>
<ellipse cx="187.9" cy="117.3" rx="10.6" ry="8.4" fill="#fee08f"/>
<ellipse cx="110.6" cy="98.4" rx="7.1" ry="3.4" fill="#fee08f"/>
<ellipse cx="106.3" cy="75.4" rx="5.3" ry="4.2" fill="#f6e3b0"/>
<ellipse cx="428.9" cy="132.0" rx="5.7" ry="5.9" fill="#fee08f"/>
<ellipse cx="428.9" cy="131.1" rx="1.9" ry="1.9" fill="#ec7014"/>
<ellipse cx="321.5" cy="272.3" rx="3.5" ry="6.7" fill="#fee08f"/>
<ellipse cx="321.5" cy="272.3" rx="1.6" ry="3.5" fill="#ec7014"/>
<ellipse cx="296.0" cy="232.5" rx="3.5" ry="3.4" fill="#f6e3b0"/>
<ellipse cx="492.7" cy="395.0" rx="19.5" ry="25.1" fill="#fee08f"/>
<ellipse cx="492.7" cy="395.0" rx="9.0" ry="14.1" fill="#ec7014"/>
<ellipse cx="437.7" cy="372.8" rx="7.1" ry="18.9" fill="#a6cde4"/>
<ellipse cx="464.3" cy="433.6" rx="14.2" ry="14.7" fill="#a6cde4"/>
<ellipse cx="478.5" cy="439.8" rx="4.3" ry="5.0" fill="#7bb6dc"/>
<ellipse cx="416.5" cy="490.1" rx="17.7" ry="33.5" fill="#a6cde4"/>
<ellipse cx="416.5" cy="506.9" rx="12.1" ry="12.5" fill="#4a97c9"/>
<ellipse cx="425.3" cy="498.5" rx="6.0" ry="7.1" fill="#4a97c9"/>
<ellipse cx="432.4" cy="456.6" rx="8.9" ry="12.6" fill="#a6cde4"/>
<ellipse cx="430.6" cy="450.3" rx="3.0" ry="3.6" fill="#4a97c9"/>
<ellipse cx="395.9" cy="456.6" rx="2.1" ry="3.8" fill="#ec7014"/>
<ellipse cx="393.4" cy="538.3" rx="7.1" ry="7.5" fill="#fee08f"/>
<ellipse cx="414.0" cy="399.6" rx="4.3" ry="4.2" fill="#fee08f"/>
<ellipse cx="395.2" cy="439.8" rx="2.8" ry="6.3" fill="#fee08f"/>
<ellipse cx="357.3" cy="364.9" rx="4.3" ry="7.5" fill="#a6cde4"/>
<ellipse cx="356.6" cy="365.7" rx="1.8" ry="3.2" fill="#4a97c9"/>
<ellipse cx="389.9" cy="330.9" rx="8.9" ry="8.4" fill="#c2dcec"/>
<ellipse cx="354.4" cy="29.3" rx="10.6" ry="4.2" fill="#fee08f"/>
<ellipse cx="212.7" cy="52.4" rx="7.1" ry="4.2" fill="#f6e3b0"/>
<ellipse cx="737.2" cy="320.5" rx="31.9" ry="24.3" fill="#a6cde4"/>
<ellipse cx="726.6" cy="362.3" rx="17.7" ry="26.0" fill="#a6cde4"/>
<ellipse cx="737.2" cy="320.5" rx="22.6" ry="15.7" fill="#4a97c9"/>
<ellipse cx="666.4" cy="268.1" rx="51.4" ry="21.8" fill="#a6cde4"/>
<ellipse cx="659.3" cy="263.9" rx="28.4" ry="12.6" fill="#8fc1de"/>
<ellipse cx="669.9" cy="263.9" rx="17.7" ry="8.4" fill="#7bb6dc"/>
<ellipse cx="638.0" cy="276.5" rx="12.4" ry="10.5" fill="#8fc1de"/>
<ellipse cx="694.7" cy="238.8" rx="17.7" ry="14.7" fill="#a6cde4"/>
<ellipse cx="708.9" cy="284.8" rx="17.7" ry="12.6" fill="#a6cde4"/>
<ellipse cx="698.3" cy="301.6" rx="14.2" ry="10.5" fill="#a6cde4"/>
<ellipse cx="627.4" cy="284.8" rx="10.6" ry="8.4" fill="#a6cde4"/>
<ellipse cx="641.5" cy="213.6" rx="9.2" ry="10.9" fill="#fee08f"/>
<ellipse cx="639.8" cy="211.5" rx="1.9" ry="2.2" fill="#ec7014"/>
<ellipse cx="644.4" cy="217.8" rx="1.6" ry="1.9" fill="#ec7014"/>
<ellipse cx="666.4" cy="312.9" rx="16.3" ry="12.6" fill="#fee08f"/>
<ellipse cx="657.5" cy="310.4" rx="3.5" ry="3.5" fill="#ec7014"/>
<ellipse cx="677.0" cy="312.1" rx="3.2" ry="1.9" fill="#ec7014"/>
<ellipse cx="634.5" cy="320.5" rx="5.3" ry="12.6" fill="#fee08f"/>
<ellipse cx="635.2" cy="322.6" rx="1.6" ry="5.0" fill="#ec7014"/>
<ellipse cx="620.3" cy="326.7" rx="5.3" ry="4.2" fill="#fee08f"/>
<ellipse cx="627.4" cy="333.9" rx="9.3" ry="1.3" fill="#ec7014"/>
<ellipse cx="797.5" cy="243.0" rx="19.5" ry="16.8" fill="#a6cde4"/>
<ellipse cx="799.3" cy="243.0" rx="12.4" ry="10.9" fill="#7bb6dc"/>
<ellipse cx="801.8" cy="242.1" rx="6.9" ry="7.1" fill="#4a97c9"/>
<ellipse cx="779.8" cy="255.5" rx="5.3" ry="10.5" fill="#a6cde4"/>
<ellipse cx="797.5" cy="284.8" rx="10.6" ry="8.4" fill="#c2dcec"/>
<ellipse cx="765.6" cy="191.4" rx="22.0" ry="7.1" fill="#a6cde4"/>
<ellipse cx="795.7" cy="217.8" rx="3.5" ry="5.0" fill="#fee08f"/>
<ellipse cx="796.8" cy="219.5" rx="1.3" ry="2.2" fill="#ec7014"/>
<ellipse cx="769.1" cy="370.7" rx="14.2" ry="12.6" fill="#fee08f"/>
<ellipse cx="772.7" cy="362.3" rx="2.1" ry="1.6" fill="#ec7014"/>
<ellipse cx="762.1" cy="368.6" rx="1.9" ry="1.6" fill="#ec7014"/>
<ellipse cx="770.9" cy="381.2" rx="2.4" ry="1.6" fill="#ec7014"/>
<ellipse cx="794.0" cy="351.9" rx="2.1" ry="5.7" fill="#ec7014" transform="rotate(-35 794.0 351.9)"/>
<ellipse cx="783.3" cy="362.3" rx="1.6" ry="4.7" fill="#ec7014" transform="rotate(-30 783.3 362.3)"/>
<ellipse cx="767.4" cy="423.1" rx="10.6" ry="10.9" fill="#fee08f"/>
<ellipse cx="766.3" cy="425.2" rx="4.3" ry="5.0" fill="#ec7014"/>
<ellipse cx="779.8" cy="406.3" rx="2.1" ry="1.9" fill="#ec7014"/>
<ellipse cx="804.6" cy="439.8" rx="7.1" ry="25.1" fill="#f6e3b0"/>
<ellipse cx="689.7" cy="414.7" rx="2.4" ry="2.5" fill="#ec7014"/>
<ellipse cx="700.0" cy="444.0" rx="9.2" ry="15.9" fill="#a6cde4"/>
<ellipse cx="701.1" cy="444.0" rx="3.6" ry="6.4" fill="#4a97c9"/>
<ellipse cx="730.2" cy="477.5" rx="23.4" ry="16.3" fill="#a6cde4"/>
<ellipse cx="737.6" cy="473.4" rx="4.8" ry="6.8" fill="#4a97c9"/>
<ellipse cx="779.8" cy="318.4" rx="8.9" ry="12.6" fill="#c2dcec"/>
<ellipse cx="755.0" cy="354.0" rx="3.5" ry="12.6" fill="#f6e3b0"/>
<ellipse cx="733.7" cy="157.1" rx="18.4" ry="10.5" fill="#fee08f"/>
<ellipse cx="694.7" cy="155.8" rx="7.1" ry="4.2" fill="#fee08f"/>
<ellipse cx="772.7" cy="146.6" rx="5.3" ry="4.2" fill="#f6e3b0"/>
<ellipse cx="893.2" cy="117.3" rx="44.3" ry="25.1" fill="#a6cde4"/>
<ellipse cx="910.9" cy="142.4" rx="16.9" ry="10.0" fill="#4a97c9"/>
<ellipse cx="879.0" cy="104.7" rx="14.2" ry="8.4" fill="#8fc1de"/>
<ellipse cx="857.8" cy="155.0" rx="10.6" ry="8.4" fill="#c2dcec"/>
<ellipse cx="1010.2" cy="153.7" rx="29.1" ry="11.3" fill="#a6cde4"/>
<ellipse cx="992.4" cy="152.9" rx="4.5" ry="2.8" fill="#4a97c9"/>
<ellipse cx="1013.7" cy="159.2" rx="3.6" ry="2.5" fill="#4a97c9"/>
<ellipse cx="1077.5" cy="155.0" rx="19.8" ry="15.1" fill="#a6cde4"/>
<ellipse cx="1076.8" cy="152.9" rx="7.8" ry="7.8" fill="#4a97c9"/>
<ellipse cx="992.4" cy="213.6" rx="60.3" ry="27.2" fill="#a6cde4"/>
<ellipse cx="932.2" cy="203.6" rx="9.0" ry="5.3" fill="#4a97c9"/>
<ellipse cx="1023.6" cy="203.6" rx="7.5" ry="8.9" fill="#4a97c9"/>
<ellipse cx="1031.4" cy="226.2" rx="10.6" ry="8.4" fill="#7bb6dc"/>
<ellipse cx="1006.6" cy="238.8" rx="7.1" ry="8.4" fill="#7bb6dc"/>
<ellipse cx="957.0" cy="217.8" rx="7.1" ry="4.2" fill="#7bb6dc"/>
<ellipse cx="981.8" cy="217.8" rx="11.2" ry="5.0" fill="#ec7014"/>
<ellipse cx="1010.2" cy="185.2" rx="7.4" ry="5.4" fill="#fee08f"/>
<ellipse cx="1010.2" cy="186.0" rx="3.2" ry="2.5" fill="#ec7014"/>
<ellipse cx="996.0" cy="177.2" rx="14.2" ry="4.2" fill="#fee08f"/>
<ellipse cx="1066.2" cy="221.2" rx="5.3" ry="8.0" fill="#fee08f"/>
<ellipse cx="1066.5" cy="221.2" rx="2.4" ry="4.1" fill="#ec7014"/>
<ellipse cx="910.9" cy="268.1" rx="16.3" ry="23.5" fill="#a6cde4"/>
<ellipse cx="910.9" cy="278.6" rx="7.1" ry="10.5" fill="#7bb6dc"/>
<ellipse cx="891.4" cy="257.2" rx="3.6" ry="4.3" fill="#4a97c9"/>
<ellipse cx="918.0" cy="263.9" rx="3.6" ry="3.6" fill="#4a97c9"/>
<ellipse cx="939.3" cy="243.0" rx="4.0" ry="1.9" fill="#ec7014" transform="rotate(12 939.3 243.0)"/>
<ellipse cx="871.9" cy="230.4" rx="10.6" ry="10.5" fill="#f6e3b0"/>
<ellipse cx="838.3" cy="235.8" rx="12.8" ry="5.0" fill="#fee08f"/>
<ellipse cx="840.0" cy="238.8" rx="4.0" ry="1.9" fill="#ec7014"/>
<ellipse cx="828.3" cy="163.4" rx="2.1" ry="2.8" fill="#ec7014"/>
<ellipse cx="882.6" cy="205.3" rx="7.1" ry="4.2" fill="#f6e3b0"/>
<ellipse cx="1026.1" cy="59.5" rx="17.7" ry="5.4" fill="#fee08f"/>
<ellipse cx="1084.6" cy="75.4" rx="7.1" ry="10.9" fill="#fee08f"/>
<ellipse cx="1084.6" cy="73.3" rx="2.1" ry="3.1" fill="#ec7014"/>
<ellipse cx="1137.8" cy="81.7" rx="29.1" ry="12.6" fill="#fee08f"/>
<ellipse cx="994.2" cy="92.2" rx="8.2" ry="5.0" fill="#fee08f"/>
<ellipse cx="1114.4" cy="118.1" rx="10.6" ry="5.0" fill="#fee08f"/>
<ellipse cx="1076.8" cy="88.8" rx="5.3" ry="4.2" fill="#fee08f"/>
<ellipse cx="1169.7" cy="75.4" rx="10.6" ry="5.0" fill="#f6e3b0"/>
<ellipse cx="1245.2" cy="83.8" rx="12.8" ry="7.5" fill="#a6cde4"/>
<ellipse cx="1205.1" cy="121.5" rx="5.3" ry="16.8" fill="#f6e3b0"/>
<ellipse cx="921.6" cy="62.8" rx="10.6" ry="5.0" fill="#c2dcec"/>
<ellipse cx="1010.2" cy="299.9" rx="7.4" ry="5.9" fill="#fee08f"/>
<ellipse cx="1010.9" cy="300.3" rx="3.2" ry="2.5" fill="#ec7014"/>
<ellipse cx="992.4" cy="289.0" rx="5.3" ry="10.5" fill="#f6e3b0"/>
<ellipse cx="978.3" cy="268.1" rx="4.3" ry="10.5" fill="#f6e3b0"/>
<ellipse cx="1052.7" cy="335.1" rx="5.3" ry="5.4" fill="#fee08f"/>
<ellipse cx="999.5" cy="347.7" rx="4.3" ry="10.5" fill="#f6e3b0"/>
<ellipse cx="1144.9" cy="381.2" rx="8.9" ry="6.3" fill="#f6e3b0"/>
<ellipse cx="1109.4" cy="435.7" rx="22.0" ry="17.2" fill="#a6cde4"/>
<ellipse cx="1098.8" cy="433.6" rx="5.1" ry="5.3" fill="#4a97c9"/>
<ellipse cx="1116.9" cy="430.6" rx="4.8" ry="5.0" fill="#4a97c9"/>
<ellipse cx="1109.4" cy="446.1" rx="7.1" ry="4.2" fill="#7bb6dc"/>
<ellipse cx="1162.6" cy="473.4" rx="16.3" ry="37.7" fill="#a6cde4"/>
<ellipse cx="1156.9" cy="492.2" rx="6.3" ry="7.5" fill="#4a97c9"/>
<ellipse cx="1159.0" cy="460.8" rx="5.3" ry="8.4" fill="#7bb6dc"/>
<ellipse cx="1127.1" cy="469.2" rx="16.3" ry="13.4" fill="#fee08f"/>
<ellipse cx="1125.0" cy="462.9" rx="2.9" ry="2.8" fill="#ec7014"/>
<ellipse cx="1135.6" cy="473.4" rx="2.7" ry="3.1" fill="#ec7014"/>
<ellipse cx="1066.9" cy="469.2" rx="10.6" ry="16.8" fill="#c2dcec"/>
<ellipse cx="1063.3" cy="456.6" rx="7.1" ry="4.2" fill="#f6e3b0"/>
</g>
<g filter="url(#bl)">
<ellipse cx="489.1" cy="389.6" rx="3.2" ry="6.3" fill="#a03b06"/>
<ellipse cx="496.2" cy="404.2" rx="3.5" ry="4.7" fill="#a03b06"/>
<ellipse cx="503.3" cy="377.0" rx="3.2" ry="3.1" fill="#a03b06"/>
<ellipse cx="395.6" cy="466.7" rx="2.7" ry="10.7" fill="#a03b06"/>
<ellipse cx="744.3" cy="324.6" rx="16.3" ry="13.8" fill="#0b559f"/>
<ellipse cx="728.4" cy="316.3" rx="8.9" ry="5.4" fill="#0b559f"/>
<ellipse cx="803.9" cy="243.0" rx="3.2" ry="3.4" fill="#0b559f"/>
<ellipse cx="764.5" cy="426.0" rx="1.9" ry="2.5" fill="#a03b06"/>
<ellipse cx="737.6" cy="473.4" rx="2.8" ry="4.2" fill="#0b559f"/>
<ellipse cx="918.0" cy="144.5" rx="7.1" ry="5.0" fill="#2d7dbb"/>
<ellipse cx="1076.8" cy="151.6" rx="3.9" ry="4.2" fill="#0b559f"/>
<ellipse cx="976.5" cy="216.6" rx="3.2" ry="2.5" fill="#a03b06"/>
<ellipse cx="988.9" cy="219.1" rx="2.7" ry="2.5" fill="#a03b06"/>
<ellipse cx="1066.9" cy="221.2" rx="1.3" ry="2.2" fill="#a03b06"/>
<ellipse cx="1098.8" cy="433.6" rx="2.8" ry="2.9" fill="#0b559f"/>
<ellipse cx="1165.1" cy="508.1" rx="3.5" ry="4.2" fill="#0b559f"/>
<ellipse cx="1125.4" cy="462.9" rx="1.3" ry="1.3" fill="#a03b06"/>
</g>
</g>
<use href="#seap" fill="#fff" stroke="#111" stroke-width="1.8" stroke-linejoin="round"/>
<use href="#lakep" fill="none" stroke="#111" stroke-width="1.6" stroke-linejoin="round"/>
<use href="#bordp" fill="none" stroke="#333" stroke-width="1.5" stroke-linejoin="round"/>
<use href="#landp" fill="none" stroke="#111" stroke-width="1.9" stroke-linejoin="round"/>
<use href="#arcp" fill="none" stroke="#111" stroke-width="2.8" stroke-linejoin="round"/>
<use href="#greenp" fill="#fff" stroke="#111" stroke-width="2.1" stroke-linejoin="round"/>
</g>
<rect x="0" y="0" width="1276.0" height="607.4" fill="none" stroke="#5a5a5a" stroke-width="1.7"/>
<path d="M0.0,0V-10 M0.0,607.4V618.4 M212.7,0V-10 M212.7,607.4V618.4 M425.3,0V-10 M425.3,607.4V618.4 M638.0,0V-10 M638.0,607.4V618.4 M850.7,0V-10 M850.7,607.4V618.4 M1063.3,0V-10 M1063.3,607.4V618.4 M1276.0,0V-10 M1276.0,607.4V618.4 M0,104.7H-10 M1276.0,104.7H1287.0 M0,230.4H-10 M1276.0,230.4H1287.0 M0,356.1H-10 M1276.0,356.1H1287.0 M0,481.7H-10 M1276.0,481.7H1287.0 M0,607.4H-10 M1276.0,607.4H1287.0" stroke="#5a5a5a" stroke-width="1.7" fill="none"/>
<use href="#narrow" transform="translate(75.3,471.6)"/>
<text x="75.9" y="463.9" text-anchor="middle" font-family="Liberation Sans, sans-serif" font-size="27.5" fill="#111">N</text>
</g></svg>
<div class="yl" style="top:1003.5px">60<sup>o</sup>N</div>
<div class="yl" style="top:1129.2px">30<sup>o</sup>N</div>
<div class="yl" style="top:1254.9px">0<sup>o</sup></div>
<div class="yl" style="top:1380.5px">30<sup>o</sup>S</div>
<div class="yl" style="top:1506.2px">60<sup>o</sup>S</div>
<div class="xl" style="left:58.5px;top:1561.4px">180<sup>o</sup></div>
<div class="xl" style="left:272.0px;top:1561.4px">120<sup>o</sup>W</div>
<div class="xl" style="left:480.5px;top:1561.4px">60<sup>o</sup>W</div>
<div class="xl" style="left:695.0px;top:1561.4px">0<sup>o</sup></div>
<div class="xl" style="left:907.0px;top:1561.4px">60<sup>o</sup>E</div>
<div class="xl" style="left:1120.5px;top:1561.4px">120<sup>o</sup>E</div>
<div class="xl" style="left:1333.5px;top:1561.4px">180<sup>o</sup></div>
<svg class="map" style="left:0;top:1891.0px" width="1557" height="652" viewBox="0 0 1557 652">
<g transform="translate(157.3,20)">
<g clip-path="url(#boxclip)">
<use href="#landp" fill="#bfe5b8"/>
<g clip-path="url(#landclip)">
<rect x="0" y="0" width="1276" height="607" filter="url(#mot)" opacity="0.75"/>
<g filter="url(#bl)">
<ellipse cx="78.0" cy="81.7" rx="24.8" ry="15.1" fill="#fdd0a2"/>
<ellipse cx="70.9" cy="79.6" rx="10.6" ry="6.3" fill="#fdae6b"/>
<ellipse cx="106.3" cy="92.2" rx="10.6" ry="6.3" fill="#a1d99b"/>
<ellipse cx="198.5" cy="104.7" rx="46.1" ry="33.5" fill="#a1d99b"/>
<ellipse cx="233.9" cy="125.7" rx="19.5" ry="17.6" fill="#74c476"/>
<ellipse cx="219.8" cy="117.3" rx="7.1" ry="6.3" fill="#41ab5d"/>
<ellipse cx="184.3" cy="92.2" rx="14.2" ry="8.4" fill="#74c476"/>
<ellipse cx="159.5" cy="96.3" rx="10.6" ry="8.4" fill="#74c476"/>
<ellipse cx="262.3" cy="113.1" rx="17.7" ry="8.4" fill="#fdd0a2"/>
<ellipse cx="255.2" cy="111.0" rx="7.1" ry="3.8" fill="#fdae6b"/>
<ellipse cx="303.1" cy="134.0" rx="14.2" ry="11.7" fill="#fdd0a2"/>
<ellipse cx="202.0" cy="127.8" rx="9.2" ry="9.6" fill="#fdd0a2"/>
<ellipse cx="203.8" cy="127.8" rx="4.3" ry="4.2" fill="#fdae6b"/>
<ellipse cx="418.2" cy="136.1" rx="21.3" ry="12.6" fill="#fdd0a2"/>
<ellipse cx="425.3" cy="138.2" rx="8.9" ry="5.4" fill="#fdae6b"/>
<ellipse cx="354.4" cy="146.6" rx="12.8" ry="10.9" fill="#fdd0a2"/>
<ellipse cx="382.8" cy="117.3" rx="14.2" ry="10.5" fill="#a1d99b"/>
<ellipse cx="372.2" cy="150.8" rx="10.6" ry="6.3" fill="#74c476"/>
<ellipse cx="379.3" cy="169.7" rx="24.8" ry="10.9" fill="#41ab5d"/>
<ellipse cx="386.3" cy="165.5" rx="12.4" ry="5.4" fill="#238b45"/>
<ellipse cx="350.9" cy="184.3" rx="10.6" ry="8.4" fill="#74c476"/>
<ellipse cx="340.3" cy="167.6" rx="8.9" ry="8.4" fill="#74c476"/>
<ellipse cx="290.6" cy="184.3" rx="35.4" ry="25.1" fill="#a1d99b"/>
<ellipse cx="301.3" cy="175.9" rx="14.2" ry="12.6" fill="#74c476"/>
<ellipse cx="283.6" cy="159.2" rx="14.2" ry="8.4" fill="#74c476"/>
<ellipse cx="315.5" cy="196.9" rx="10.6" ry="10.5" fill="#74c476"/>
<ellipse cx="226.8" cy="209.4" rx="21.3" ry="15.1" fill="#fdd0a2"/>
<ellipse cx="223.3" cy="213.6" rx="10.6" ry="6.7" fill="#fdae6b"/>
<ellipse cx="280.0" cy="226.2" rx="14.2" ry="9.2" fill="#fdd0a2"/>
<ellipse cx="281.8" cy="228.3" rx="7.1" ry="4.2" fill="#fdae6b"/>
<ellipse cx="319.0" cy="222.0" rx="12.4" ry="10.5" fill="#fdd0a2"/>
<ellipse cx="343.8" cy="224.1" rx="8.9" ry="10.5" fill="#fdd0a2"/>
<ellipse cx="333.2" cy="199.0" rx="10.6" ry="6.3" fill="#fdd0a2"/>
<ellipse cx="345.6" cy="228.3" rx="4.3" ry="5.0" fill="#fdae6b"/>
<ellipse cx="235.7" cy="167.6" rx="8.9" ry="8.4" fill="#fdd0a2"/>
<ellipse cx="269.4" cy="196.9" rx="7.1" ry="6.3" fill="#fdd0a2"/>
<ellipse cx="272.9" cy="255.5" rx="10.6" ry="16.8" fill="#a1d99b"/>
<ellipse cx="290.6" cy="276.5" rx="10.6" ry="6.3" fill="#a1d99b"/>
<ellipse cx="320.8" cy="284.8" rx="9.2" ry="19.3" fill="#fdae6b"/>
<ellipse cx="320.8" cy="278.6" rx="5.3" ry="9.6" fill="#fd8d3c"/>
<ellipse cx="333.2" cy="299.5" rx="7.1" ry="8.4" fill="#fdae6b"/>
<ellipse cx="340.3" cy="314.2" rx="5.3" ry="6.3" fill="#a1d99b"/>
<ellipse cx="333.2" cy="20.9" rx="31.9" ry="12.6" fill="#fdd0a2"/>
<ellipse cx="340.3" cy="18.9" rx="17.7" ry="6.3" fill="#fdae6b"/>
<ellipse cx="248.1" cy="41.9" rx="21.3" ry="6.3" fill="#fdd0a2"/>
<ellipse cx="372.2" cy="62.8" rx="21.3" ry="10.5" fill="#fdd0a2"/>
<ellipse cx="212.7" cy="54.5" rx="17.7" ry="6.3" fill="#a1d99b"/>
<ellipse cx="404.1" cy="322.6" rx="28.4" ry="15.1" fill="#fdae6b"/>
<ellipse cx="414.7" cy="320.5" rx="10.6" ry="6.7" fill="#fd8d3c"/>
<ellipse cx="439.5" cy="345.6" rx="12.8" ry="19.3" fill="#fdae6b"/>
<ellipse cx="418.6" cy="354.8" rx="7.8" ry="9.2" fill="#f16913"/>
<ellipse cx="379.3" cy="335.1" rx="7.1" ry="12.6" fill="#fdd0a2"/>
<ellipse cx="397.0" cy="383.3" rx="30.1" ry="20.1" fill="#41ab5d"/>
<ellipse cx="386.3" cy="382.5" rx="12.8" ry="10.9" fill="#238b45"/>
<ellipse cx="414.7" cy="372.8" rx="14.2" ry="12.6" fill="#74c476"/>
<ellipse cx="372.2" cy="368.6" rx="10.6" ry="12.6" fill="#74c476"/>
<ellipse cx="418.2" cy="389.6" rx="7.1" ry="6.3" fill="#238b45"/>
<ellipse cx="453.7" cy="410.5" rx="24.8" ry="37.7" fill="#74c476"/>
<ellipse cx="455.5" cy="439.8" rx="17.7" ry="15.1" fill="#41ab5d"/>
<ellipse cx="446.6" cy="398.0" rx="10.6" ry="16.8" fill="#41ab5d"/>
<ellipse cx="467.9" cy="389.6" rx="8.9" ry="12.6" fill="#74c476"/>
<ellipse cx="464.3" cy="448.2" rx="8.9" ry="6.3" fill="#238b45"/>
<ellipse cx="492.7" cy="398.0" rx="19.8" ry="34.3" fill="#fdae6b"/>
<ellipse cx="498.0" cy="400.0" rx="14.2" ry="27.6" fill="#f16913"/>
<ellipse cx="499.8" cy="393.8" rx="9.9" ry="18.9" fill="#d94801"/>
<ellipse cx="492.7" cy="414.7" rx="6.4" ry="10.5" fill="#f16913"/>
<ellipse cx="485.6" cy="381.2" rx="7.1" ry="8.4" fill="#fd8d3c"/>
<ellipse cx="414.0" cy="400.9" rx="9.2" ry="8.4" fill="#fd8d3c"/>
<ellipse cx="414.0" cy="427.3" rx="5.7" ry="6.7" fill="#fd8d3c"/>
<ellipse cx="425.3" cy="458.7" rx="14.2" ry="11.7" fill="#fd8d3c"/>
<ellipse cx="421.8" cy="456.6" rx="7.1" ry="5.4" fill="#f16913"/>
<ellipse cx="436.0" cy="439.8" rx="5.3" ry="8.4" fill="#fdae6b"/>
<ellipse cx="391.7" cy="515.2" rx="7.1" ry="29.3" fill="#fdd0a2"/>
<ellipse cx="389.9" cy="481.7" rx="5.3" ry="20.9" fill="#fdd0a2"/>
<ellipse cx="397.0" cy="544.6" rx="8.9" ry="16.8" fill="#fdd0a2"/>
<ellipse cx="372.2" cy="406.3" rx="8.9" ry="16.8" fill="#a1d99b"/>
<ellipse cx="416.5" cy="496.4" rx="16.3" ry="25.1" fill="#a1d99b"/>
<ellipse cx="425.3" cy="498.5" rx="8.9" ry="12.6" fill="#74c476"/>
<ellipse cx="446.6" cy="488.0" rx="12.8" ry="11.7" fill="#41ab5d"/>
<ellipse cx="451.9" cy="477.5" rx="8.9" ry="8.4" fill="#238b45"/>
<ellipse cx="432.4" cy="473.4" rx="7.1" ry="8.4" fill="#74c476"/>
<ellipse cx="708.9" cy="159.2" rx="46.1" ry="26.0" fill="#74c476"/>
<ellipse cx="705.3" cy="157.1" rx="35.4" ry="19.3" fill="#41ab5d"/>
<ellipse cx="701.8" cy="155.0" rx="19.5" ry="10.9" fill="#238b45"/>
<ellipse cx="680.5" cy="146.6" rx="7.8" ry="6.3" fill="#238b45"/>
<ellipse cx="726.6" cy="169.7" rx="10.6" ry="6.3" fill="#238b45"/>
<ellipse cx="648.6" cy="163.4" rx="14.2" ry="12.6" fill="#74c476"/>
<ellipse cx="623.8" cy="184.3" rx="14.2" ry="10.5" fill="#a1d99b"/>
<ellipse cx="680.5" cy="175.9" rx="7.1" ry="8.4" fill="#41ab5d"/>
<ellipse cx="808.1" cy="113.1" rx="60.3" ry="29.3" fill="#a1d99b"/>
<ellipse cx="762.1" cy="125.7" rx="28.4" ry="16.8" fill="#74c476"/>
<ellipse cx="832.9" cy="117.3" rx="21.3" ry="12.6" fill="#74c476"/>
<ellipse cx="744.3" cy="104.7" rx="14.2" ry="8.4" fill="#74c476"/>
<ellipse cx="668.1" cy="100.5" rx="11.3" ry="15.1" fill="#fdd0a2"/>
<ellipse cx="730.2" cy="82.5" rx="19.5" ry="15.1" fill="#fdd0a2"/>
<ellipse cx="726.6" cy="79.6" rx="8.9" ry="6.3" fill="#fdae6b"/>
<ellipse cx="701.8" cy="77.5" rx="8.9" ry="8.4" fill="#fdd0a2"/>
<ellipse cx="755.0" cy="73.3" rx="10.6" ry="5.0" fill="#fdd0a2"/>
<ellipse cx="691.2" cy="83.8" rx="7.1" ry="12.6" fill="#a1d99b"/>
<ellipse cx="625.6" cy="119.8" rx="7.4" ry="8.8" fill="#fd8d3c"/>
<ellipse cx="625.6" cy="117.3" rx="3.5" ry="4.2" fill="#f16913"/>
<ellipse cx="609.6" cy="132.0" rx="6.4" ry="6.3" fill="#fdae6b"/>
<ellipse cx="632.7" cy="136.1" rx="5.3" ry="6.3" fill="#a1d99b"/>
<ellipse cx="574.2" cy="83.8" rx="10.6" ry="4.2" fill="#fdd0a2"/>
<ellipse cx="765.6" cy="191.9" rx="22.0" ry="6.7" fill="#74c476"/>
<ellipse cx="755.0" cy="186.4" rx="10.6" ry="3.4" fill="#41ab5d"/>
<ellipse cx="786.9" cy="178.0" rx="8.9" ry="4.2" fill="#41ab5d"/>
<ellipse cx="655.7" cy="251.3" rx="8.9" ry="8.4" fill="#fdd0a2"/>
<ellipse cx="691.2" cy="268.1" rx="7.1" ry="6.3" fill="#fdd0a2"/>
<ellipse cx="627.4" cy="263.9" rx="8.9" ry="8.4" fill="#fdd0a2"/>
<ellipse cx="609.6" cy="251.3" rx="7.1" ry="6.3" fill="#d9f0d3"/>
<ellipse cx="638.0" cy="238.8" rx="7.1" ry="5.0" fill="#fdd0a2"/>
<ellipse cx="680.5" cy="243.0" rx="7.1" ry="6.3" fill="#d9f0d3"/>
<ellipse cx="716.0" cy="263.9" rx="8.9" ry="6.3" fill="#d9f0d3"/>
<ellipse cx="737.2" cy="255.5" rx="7.1" ry="6.3" fill="#fdd0a2"/>
<ellipse cx="751.4" cy="276.5" rx="7.1" ry="6.3" fill="#d9f0d3"/>
<ellipse cx="708.9" cy="238.8" rx="7.1" ry="5.0" fill="#fdd0a2"/>
<ellipse cx="666.4" cy="280.7" rx="7.1" ry="5.0" fill="#d9f0d3"/>
<ellipse cx="797.5" cy="251.3" rx="8.9" ry="8.4" fill="#fdd0a2"/>
<ellipse cx="804.6" cy="270.2" rx="7.1" ry="6.3" fill="#fdd0a2"/>
<ellipse cx="786.9" cy="259.7" rx="5.3" ry="6.3" fill="#d9f0d3"/>
<ellipse cx="673.4" cy="253.4" rx="2.8" ry="3.4" fill="#f16913"/>
<ellipse cx="726.6" cy="280.7" rx="10.6" ry="6.3" fill="#d9f0d3"/>
<ellipse cx="620.3" cy="276.5" rx="7.1" ry="4.2" fill="#d9f0d3"/>
<ellipse cx="808.1" cy="263.9" rx="7.1" ry="10.5" fill="#fdd0a2"/>
<ellipse cx="794.0" cy="276.5" rx="7.1" ry="6.3" fill="#fdd0a2"/>
<ellipse cx="822.3" cy="276.5" rx="5.3" ry="6.3" fill="#fdd0a2"/>
<ellipse cx="701.8" cy="243.0" rx="7.1" ry="4.2" fill="#d9f0d3"/>
<ellipse cx="850.7" cy="217.8" rx="30.1" ry="21.8" fill="#fdd0a2"/>
<ellipse cx="850.7" cy="190.6" rx="28.4" ry="14.7" fill="#fdd0a2"/>
<ellipse cx="840.0" cy="205.3" rx="10.6" ry="6.3" fill="#fdae6b"/>
<ellipse cx="864.8" cy="184.3" rx="10.6" ry="6.3" fill="#fdae6b"/>
<ellipse cx="871.9" cy="222.0" rx="14.2" ry="16.8" fill="#fdd0a2"/>
<ellipse cx="815.2" cy="155.0" rx="30.1" ry="17.6" fill="#fdd0a2"/>
<ellipse cx="804.6" cy="146.6" rx="10.6" ry="6.3" fill="#fdae6b"/>
<ellipse cx="857.8" cy="167.6" rx="17.7" ry="12.6" fill="#fdd0a2"/>
<ellipse cx="794.0" cy="205.3" rx="7.1" ry="12.6" fill="#fdd0a2"/>
<ellipse cx="903.8" cy="104.7" rx="42.5" ry="15.1" fill="#fdd0a2"/>
<ellipse cx="937.9" cy="106.4" rx="18.4" ry="8.8" fill="#fd8d3c"/>
<ellipse cx="942.8" cy="104.7" rx="7.1" ry="4.2" fill="#f16913"/>
<ellipse cx="886.1" cy="111.0" rx="10.6" ry="5.4" fill="#fdae6b"/>
<ellipse cx="864.8" cy="96.3" rx="10.6" ry="5.0" fill="#fdae6b"/>
<ellipse cx="1020.8" cy="75.4" rx="49.6" ry="10.9" fill="#fdd0a2"/>
<ellipse cx="992.4" cy="75.4" rx="10.6" ry="5.0" fill="#fd8d3c"/>
<ellipse cx="1035.0" cy="77.5" rx="8.9" ry="4.2" fill="#fd8d3c"/>
<ellipse cx="1066.9" cy="78.3" rx="5.3" ry="3.8" fill="#f16913"/>
<ellipse cx="1010.2" cy="69.1" rx="7.1" ry="3.4" fill="#fdae6b"/>
<ellipse cx="1187.4" cy="67.0" rx="49.6" ry="10.9" fill="#fdd0a2"/>
<ellipse cx="1151.9" cy="64.9" rx="10.6" ry="5.0" fill="#fdae6b"/>
<ellipse cx="1222.8" cy="71.2" rx="10.6" ry="5.0" fill="#fdae6b"/>
<ellipse cx="1247.6" cy="75.4" rx="17.7" ry="8.4" fill="#fdd0a2"/>
<ellipse cx="1081.1" cy="104.7" rx="46.1" ry="21.8" fill="#a1d99b"/>
<ellipse cx="1056.2" cy="113.1" rx="17.7" ry="10.5" fill="#74c476"/>
<ellipse cx="1105.9" cy="117.3" rx="14.2" ry="8.4" fill="#74c476"/>
<ellipse cx="992.4" cy="117.3" rx="28.4" ry="12.6" fill="#a1d99b"/>
<ellipse cx="964.1" cy="125.7" rx="14.2" ry="8.4" fill="#74c476"/>
<ellipse cx="1081.1" cy="155.0" rx="29.1" ry="19.3" fill="#41ab5d"/>
<ellipse cx="1084.6" cy="155.0" rx="14.9" ry="15.1" fill="#238b45"/>
<ellipse cx="1091.7" cy="159.2" rx="7.1" ry="8.4" fill="#006d2c"/>
<ellipse cx="1109.4" cy="163.4" rx="8.9" ry="10.5" fill="#41ab5d"/>
<ellipse cx="1031.4" cy="230.4" rx="32.6" ry="34.3" fill="#41ab5d"/>
<ellipse cx="1031.4" cy="224.1" rx="22.0" ry="19.3" fill="#238b45"/>
<ellipse cx="1020.8" cy="217.8" rx="12.4" ry="10.5" fill="#006d2c"/>
<ellipse cx="1035.0" cy="243.0" rx="10.6" ry="8.4" fill="#006d2c"/>
<ellipse cx="1013.7" cy="251.3" rx="10.6" ry="8.4" fill="#238b45"/>
<ellipse cx="1052.7" cy="238.8" rx="7.1" ry="12.6" fill="#238b45"/>
<ellipse cx="1006.6" cy="205.3" rx="7.1" ry="6.3" fill="#238b45"/>
<ellipse cx="992.4" cy="159.2" rx="28.4" ry="10.9" fill="#d4eecd"/>
<ellipse cx="981.8" cy="157.1" rx="7.1" ry="3.4" fill="#fdd0a2"/>
<ellipse cx="1010.2" cy="165.5" rx="8.9" ry="3.4" fill="#fdd0a2"/>
<ellipse cx="1038.5" cy="171.7" rx="10.6" ry="5.0" fill="#fdd0a2"/>
<ellipse cx="914.5" cy="255.5" rx="25.5" ry="30.2" fill="#74c476"/>
<ellipse cx="910.9" cy="240.9" rx="14.9" ry="15.1" fill="#41ab5d"/>
<ellipse cx="907.4" cy="232.5" rx="7.1" ry="6.3" fill="#238b45"/>
<ellipse cx="918.0" cy="280.7" rx="8.9" ry="16.8" fill="#74c476"/>
<ellipse cx="939.3" cy="255.5" rx="10.6" ry="8.4" fill="#41ab5d"/>
<ellipse cx="900.3" cy="272.3" rx="3.5" ry="12.6" fill="#41ab5d"/>
<ellipse cx="893.2" cy="243.0" rx="7.1" ry="8.4" fill="#fdd0a2"/>
<ellipse cx="967.6" cy="251.3" rx="8.9" ry="8.4" fill="#41ab5d"/>
<ellipse cx="981.8" cy="263.9" rx="7.1" ry="12.6" fill="#74c476"/>
<ellipse cx="996.0" cy="268.1" rx="10.6" ry="8.4" fill="#41ab5d"/>
<ellipse cx="1010.2" cy="268.1" rx="7.1" ry="6.3" fill="#238b45"/>
<ellipse cx="1003.1" cy="295.3" rx="14.9" ry="17.6" fill="#fdae6b"/>
<ellipse cx="1012.6" cy="298.7" rx="4.6" ry="4.6" fill="#f16913"/>
<ellipse cx="996.0" cy="289.0" rx="5.3" ry="8.4" fill="#fd8d3c"/>
<ellipse cx="988.9" cy="305.8" rx="3.5" ry="12.6" fill="#a1d99b"/>
<ellipse cx="1089.9" cy="201.1" rx="5.7" ry="8.8" fill="#238b45"/>
<ellipse cx="1088.1" cy="188.5" rx="5.3" ry="6.3" fill="#41ab5d"/>
<ellipse cx="1127.1" cy="205.3" rx="7.1" ry="8.4" fill="#74c476"/>
<ellipse cx="1141.3" cy="173.8" rx="7.1" ry="4.2" fill="#74c476"/>
<ellipse cx="1102.3" cy="217.8" rx="3.5" ry="4.2" fill="#41ab5d"/>
<ellipse cx="1036.8" cy="358.2" rx="11.0" ry="10.9" fill="#fd8d3c"/>
<ellipse cx="1038.5" cy="356.1" rx="5.3" ry="5.4" fill="#f16913"/>
<ellipse cx="1049.2" cy="343.5" rx="7.1" ry="10.5" fill="#a1d99b"/>
<ellipse cx="999.5" cy="360.3" rx="7.1" ry="12.6" fill="#fdd0a2"/>
<ellipse cx="1006.6" cy="370.7" rx="5.3" ry="6.3" fill="#fdae6b"/>
<ellipse cx="985.4" cy="343.5" rx="5.3" ry="6.3" fill="#74c476"/>
<ellipse cx="1027.9" cy="386.6" rx="12.4" ry="2.5" fill="#fdd0a2"/>
<ellipse cx="1127.1" cy="374.9" rx="17.7" ry="8.4" fill="#a1d99b"/>
<ellipse cx="1139.5" cy="381.2" rx="3.5" ry="8.4" fill="#fdae6b"/>
<ellipse cx="1155.5" cy="383.3" rx="7.1" ry="4.2" fill="#fdd0a2"/>
<ellipse cx="1066.9" cy="364.4" rx="5.3" ry="8.4" fill="#a1d99b"/>
<ellipse cx="1066.9" cy="289.0" rx="3.5" ry="8.4" fill="#74c476"/>
<ellipse cx="1081.1" cy="324.6" rx="5.3" ry="6.3" fill="#fdd0a2"/>
<ellipse cx="1205.1" cy="121.5" rx="5.3" ry="16.8" fill="#a1d99b"/>
<ellipse cx="923.3" cy="324.6" rx="2.8" ry="6.3" fill="#74c476"/>
<ellipse cx="645.1" cy="322.6" rx="44.3" ry="15.1" fill="#fdae6b"/>
<ellipse cx="668.1" cy="317.5" rx="18.4" ry="12.6" fill="#fd8d3c"/>
<ellipse cx="623.8" cy="324.6" rx="10.6" ry="8.4" fill="#fd8d3c"/>
<ellipse cx="602.6" cy="320.5" rx="10.6" ry="10.5" fill="#74c476"/>
<ellipse cx="591.9" cy="303.7" rx="10.6" ry="6.3" fill="#a1d99b"/>
<ellipse cx="645.1" cy="329.7" rx="7.1" ry="3.4" fill="#f16913"/>
<ellipse cx="680.5" cy="307.9" rx="7.1" ry="4.2" fill="#f16913"/>
<ellipse cx="613.2" cy="333.0" rx="7.1" ry="4.2" fill="#41ab5d"/>
<ellipse cx="726.6" cy="339.3" rx="37.2" ry="27.6" fill="#74c476"/>
<ellipse cx="732.3" cy="344.3" rx="14.9" ry="13.0" fill="#238b45"/>
<ellipse cx="716.0" cy="351.9" rx="10.6" ry="10.5" fill="#41ab5d"/>
<ellipse cx="759.2" cy="325.5" rx="7.4" ry="17.2" fill="#41ab5d"/>
<ellipse cx="744.3" cy="314.2" rx="17.7" ry="8.4" fill="#74c476"/>
<ellipse cx="691.2" cy="343.5" rx="10.6" ry="12.6" fill="#41ab5d"/>
<ellipse cx="680.5" cy="360.3" rx="7.1" ry="10.5" fill="#74c476"/>
<ellipse cx="786.9" cy="351.9" rx="18.4" ry="26.0" fill="#fdae6b"/>
<ellipse cx="785.8" cy="365.7" rx="7.4" ry="13.0" fill="#fd8d3c"/>
<ellipse cx="797.5" cy="335.1" rx="10.6" ry="12.6" fill="#fdae6b"/>
<ellipse cx="801.0" cy="316.3" rx="10.6" ry="5.0" fill="#fdd0a2"/>
<ellipse cx="772.7" cy="305.8" rx="7.1" ry="12.6" fill="#a1d99b"/>
<ellipse cx="698.3" cy="402.1" rx="19.8" ry="30.2" fill="#fdd0a2"/>
<ellipse cx="721.6" cy="379.1" rx="7.4" ry="15.1" fill="#fd8d3c"/>
<ellipse cx="691.2" cy="410.5" rx="7.1" ry="12.6" fill="#fdae6b"/>
<ellipse cx="705.3" cy="389.6" rx="7.1" ry="8.4" fill="#fdae6b"/>
<ellipse cx="733.7" cy="402.1" rx="10.6" ry="8.4" fill="#74c476"/>
<ellipse cx="758.5" cy="372.8" rx="8.9" ry="12.6" fill="#fdae6b"/>
<ellipse cx="762.1" cy="389.6" rx="8.9" ry="8.4" fill="#74c476"/>
<ellipse cx="769.1" cy="423.1" rx="11.0" ry="13.0" fill="#fd8d3c"/>
<ellipse cx="767.4" cy="427.3" rx="5.7" ry="6.7" fill="#f16913"/>
<ellipse cx="776.2" cy="402.1" rx="5.3" ry="6.3" fill="#fdae6b"/>
<ellipse cx="733.7" cy="448.2" rx="22.0" ry="26.0" fill="#a1d99b"/>
<ellipse cx="740.8" cy="435.7" rx="10.6" ry="10.5" fill="#74c476"/>
<ellipse cx="726.6" cy="460.8" rx="10.6" ry="8.4" fill="#74c476"/>
<ellipse cx="744.3" cy="465.0" rx="7.1" ry="12.6" fill="#74c476"/>
<ellipse cx="755.0" cy="439.8" rx="5.3" ry="12.6" fill="#74c476"/>
<ellipse cx="700.0" cy="465.0" rx="14.5" ry="30.2" fill="#fdd0a2"/>
<ellipse cx="716.0" cy="485.9" rx="14.2" ry="10.5" fill="#fdd0a2"/>
<ellipse cx="694.7" cy="439.8" rx="7.1" ry="10.5" fill="#fdae6b"/>
<ellipse cx="705.3" cy="496.4" rx="7.1" ry="3.4" fill="#fdae6b"/>
<ellipse cx="804.6" cy="435.7" rx="10.6" ry="29.3" fill="#fdd0a2"/>
<ellipse cx="808.1" cy="427.3" rx="4.3" ry="12.6" fill="#fdae6b"/>
<ellipse cx="1084.6" cy="460.8" rx="40.8" ry="17.6" fill="#fdd0a2"/>
<ellipse cx="1070.4" cy="452.4" rx="10.6" ry="5.0" fill="#fdae6b"/>
<ellipse cx="1098.8" cy="465.0" rx="10.6" ry="4.2" fill="#fdae6b"/>
<ellipse cx="1056.2" cy="477.5" rx="7.1" ry="10.5" fill="#fdd0a2"/>
<ellipse cx="1123.6" cy="481.7" rx="10.6" ry="8.4" fill="#fdd0a2"/>
<ellipse cx="1116.5" cy="448.2" rx="8.9" ry="6.3" fill="#fdd0a2"/>
<ellipse cx="1155.5" cy="456.6" rx="18.4" ry="26.0" fill="#a1d99b"/>
<ellipse cx="1151.9" cy="439.8" rx="8.9" ry="12.6" fill="#74c476"/>
<ellipse cx="1109.4" cy="414.7" rx="12.4" ry="8.4" fill="#a1d99b"/>
<ellipse cx="1088.1" cy="427.3" rx="10.6" ry="6.3" fill="#a1d99b"/>
<ellipse cx="1162.6" cy="494.3" rx="14.5" ry="23.5" fill="#41ab5d"/>
<ellipse cx="1165.1" cy="506.9" rx="7.4" ry="10.9" fill="#006d2c"/>
<ellipse cx="1169.7" cy="485.9" rx="5.3" ry="12.6" fill="#238b45"/>
<ellipse cx="1151.9" cy="511.1" rx="7.1" ry="4.2" fill="#238b45"/>
<ellipse cx="1052.7" cy="496.4" rx="5.3" ry="5.0" fill="#74c476"/>
<ellipse cx="1157.3" cy="532.0" rx="4.6" ry="4.2" fill="#a1d99b"/>
<ellipse cx="1260.0" cy="517.3" rx="6.4" ry="10.9" fill="#fd8d3c"/>
<ellipse cx="1261.8" cy="515.2" rx="3.2" ry="5.4" fill="#f16913"/>
<ellipse cx="1244.1" cy="538.3" rx="8.9" ry="8.4" fill="#74c476"/>
<ellipse cx="1237.0" cy="546.7" rx="5.3" ry="4.2" fill="#fdd0a2"/>
</g>
<rect x="0" y="0" width="1276" height="607" filter="url(#mot)" opacity="0.45"/>
<rect x="0" y="0" width="1276" height="607" filter="url(#mot2)" opacity="0.6"/>
<g filter="url(#blw)"><ellipse cx="634.5" cy="257.6" rx="44.3" ry="29.3" fill="#ffffff"/><ellipse cx="609.6" cy="268.1" rx="21.3" ry="23.0" fill="#ffffff"/><ellipse cx="716.0" cy="257.6" rx="47.8" ry="33.5" fill="#ffffff"/><ellipse cx="673.4" cy="268.1" rx="28.4" ry="23.0" fill="#ffffff"/><ellipse cx="744.3" cy="272.3" rx="21.3" ry="23.0" fill="#ffffff"/><ellipse cx="648.6" cy="238.8" rx="17.7" ry="12.6" fill="#ffffff"/><ellipse cx="737.2" cy="243.0" rx="17.7" ry="12.6" fill="#ffffff"/><ellipse cx="801.0" cy="259.7" rx="24.8" ry="29.3" fill="#ffffff"/><ellipse cx="779.8" cy="240.9" rx="12.4" ry="12.6" fill="#ffffff"/><ellipse cx="815.2" cy="272.3" rx="14.2" ry="12.6" fill="#ffffff"/><ellipse cx="949.9" cy="194.8" rx="33.7" ry="7.1" fill="#ffffff"/><ellipse cx="935.7" cy="199.0" rx="17.7" ry="4.6" fill="#ffffff"/><ellipse cx="832.9" cy="219.9" rx="2.8" ry="3.4" fill="#ffffff"/></g>
<g filter="url(#bl)"><ellipse cx="634.5" cy="257.6" rx="19.9" ry="13.2" fill="#ffffff"/><ellipse cx="609.6" cy="268.1" rx="9.6" ry="10.4" fill="#ffffff"/><ellipse cx="716.0" cy="257.6" rx="21.5" ry="15.1" fill="#ffffff"/><ellipse cx="673.4" cy="268.1" rx="12.8" ry="10.4" fill="#ffffff"/><ellipse cx="744.3" cy="272.3" rx="9.6" ry="10.4" fill="#ffffff"/><ellipse cx="648.6" cy="238.8" rx="8.0" ry="5.7" fill="#ffffff"/><ellipse cx="737.2" cy="243.0" rx="8.0" ry="5.7" fill="#ffffff"/><ellipse cx="801.0" cy="259.7" rx="11.2" ry="13.2" fill="#ffffff"/><ellipse cx="779.8" cy="240.9" rx="5.6" ry="5.7" fill="#ffffff"/><ellipse cx="815.2" cy="272.3" rx="6.4" ry="5.7" fill="#ffffff"/><ellipse cx="949.9" cy="194.8" rx="15.2" ry="3.2" fill="#ffffff"/><ellipse cx="935.7" cy="199.0" rx="8.0" ry="2.1" fill="#ffffff"/><ellipse cx="832.9" cy="219.9" rx="1.3" ry="1.5" fill="#ffffff"/></g>
</g>
<use href="#seap" fill="#fff" stroke="#111" stroke-width="1.8" stroke-linejoin="round"/>
<use href="#lakep" fill="none" stroke="#111" stroke-width="1.6" stroke-linejoin="round"/>
<use href="#bordp" fill="none" stroke="#333" stroke-width="1.5" stroke-linejoin="round"/>
<use href="#landp" fill="none" stroke="#111" stroke-width="1.9" stroke-linejoin="round"/>
<use href="#arcp" fill="none" stroke="#111" stroke-width="2.8" stroke-linejoin="round"/>
<use href="#greenp" fill="#fff" stroke="#111" stroke-width="2.1" stroke-linejoin="round"/>
</g>
<rect x="0" y="0" width="1276.0" height="607.4" fill="none" stroke="#5a5a5a" stroke-width="1.7"/>
<path d="M0.0,0V-10 M0.0,607.4V618.4 M212.7,0V-10 M212.7,607.4V618.4 M425.3,0V-10 M425.3,607.4V618.4 M638.0,0V-10 M638.0,607.4V618.4 M850.7,0V-10 M850.7,607.4V618.4 M1063.3,0V-10 M1063.3,607.4V618.4 M1276.0,0V-10 M1276.0,607.4V618.4 M0,104.7H-10 M1276.0,104.7H1287.0 M0,230.4H-10 M1276.0,230.4H1287.0 M0,356.1H-10 M1276.0,356.1H1287.0 M0,481.7H-10 M1276.0,481.7H1287.0 M0,607.4H-10 M1276.0,607.4H1287.0" stroke="#5a5a5a" stroke-width="1.7" fill="none"/>
<use href="#narrow" transform="translate(75.3,468.1)"/>
<text x="75.9" y="460.4" text-anchor="middle" font-family="Liberation Sans, sans-serif" font-size="27.5" fill="#111">N</text>
</g></svg>
<div class="yl" style="top:1999.5px">60<sup>o</sup>N</div>
<div class="yl" style="top:2125.2px">30<sup>o</sup>N</div>
<div class="yl" style="top:2250.9px">0<sup>o</sup></div>
<div class="yl" style="top:2376.5px">30<sup>o</sup>S</div>
<div class="yl" style="top:2502.2px">60<sup>o</sup>S</div>
<div class="xl" style="left:58.5px;top:2557.4px">180<sup>o</sup></div>
<div class="xl" style="left:272.0px;top:2557.4px">120<sup>o</sup>W</div>
<div class="xl" style="left:480.5px;top:2557.4px">60<sup>o</sup>W</div>
<div class="xl" style="left:695.0px;top:2557.4px">0<sup>o</sup></div>
<div class="xl" style="left:907.0px;top:2557.4px">60<sup>o</sup>E</div>
<div class="xl" style="left:1120.5px;top:2557.4px">120<sup>o</sup>E</div>
<div class="xl" style="left:1333.5px;top:2557.4px">180<sup>o</sup></div>
<svg class="map" style="left:103.9px;top:1633.0px" width="1329.6" height="22.6">
<rect x="0.00" y="0" width="166.70" height="22.6" fill="#08519c"/>
<rect x="166.20" y="0" width="166.70" height="22.6" fill="#4292c6"/>
<rect x="332.40" y="0" width="166.70" height="22.6" fill="#9ecae1"/>
<rect x="498.60" y="0" width="166.70" height="22.6" fill="#d9d9d9"/>
<rect x="664.80" y="0" width="166.70" height="22.6" fill="#d9d9d9"/>
<rect x="831.00" y="0" width="166.70" height="22.6" fill="#fee391"/>
<rect x="997.20" y="0" width="166.70" height="22.6" fill="#ec7014"/>
<rect x="1163.40" y="0" width="166.70" height="22.6" fill="#993404"/>
<path d="M166.20,0V22.6" stroke="rgba(60,40,20,0.35)" stroke-width="1"/>
<path d="M332.40,0V22.6" stroke="rgba(60,40,20,0.35)" stroke-width="1"/>
<path d="M498.60,0V22.6" stroke="rgba(60,40,20,0.35)" stroke-width="1"/>
<path d="M664.80,0V22.6" stroke="rgba(60,40,20,0.35)" stroke-width="1"/>
<path d="M831.00,0V22.6" stroke="rgba(60,40,20,0.35)" stroke-width="1"/>
<path d="M997.20,0V22.6" stroke="rgba(60,40,20,0.35)" stroke-width="1"/>
<path d="M1163.40,0V22.6" stroke="rgba(60,40,20,0.35)" stroke-width="1"/>
<rect x="0.5" y="0.5" width="1328.6" height="21.6" fill="none" stroke="rgba(80,60,40,0.35)" stroke-width="1"/>
</svg>
<div class="cl" style="left:173.0px;top:1674.3px">−0.15</div>
<div class="cl" style="left:342.6px;top:1674.3px">−0.1</div>
<div class="cl" style="left:516.0px;top:1674.3px">−0.05</div>
<div class="cl" style="left:694.0px;top:1674.3px">0</div>
<div class="cl" style="left:837.0px;top:1674.3px">0.05</div>
<div class="cl" style="left:1003.7px;top:1674.3px">0.1</div>
<div class="cl" style="left:1171.0px;top:1674.3px">0.15</div>
<div class="un" style="left:688.5px;top:1725.8px">(K year<sup>−1</sup>)</div>
<svg class="map" style="left:46.8px;top:2633.0px" width="1463.8" height="22.6">
<rect x="0.00" y="0" width="122.48" height="22.6" fill="#a63603"/>
<rect x="121.98" y="0" width="122.48" height="22.6" fill="#d94801"/>
<rect x="243.97" y="0" width="122.48" height="22.6" fill="#f16913"/>
<rect x="365.95" y="0" width="122.48" height="22.6" fill="#fd8d3c"/>
<rect x="487.93" y="0" width="122.48" height="22.6" fill="#fdae6b"/>
<rect x="609.92" y="0" width="122.48" height="22.6" fill="#fdd0a2"/>
<rect x="731.90" y="0" width="122.48" height="22.6" fill="#c7e9c0"/>
<rect x="853.88" y="0" width="122.48" height="22.6" fill="#a1d99b"/>
<rect x="975.87" y="0" width="122.48" height="22.6" fill="#74c476"/>
<rect x="1097.85" y="0" width="122.48" height="22.6" fill="#41ab5d"/>
<rect x="1219.83" y="0" width="122.48" height="22.6" fill="#238b45"/>
<rect x="1341.82" y="0" width="122.48" height="22.6" fill="#006d2c"/>
<path d="M121.98,0V22.6" stroke="rgba(60,40,20,0.35)" stroke-width="1"/>
<path d="M243.97,0V22.6" stroke="rgba(60,40,20,0.35)" stroke-width="1"/>
<path d="M365.95,0V22.6" stroke="rgba(60,40,20,0.35)" stroke-width="1"/>
<path d="M487.93,0V22.6" stroke="rgba(60,40,20,0.35)" stroke-width="1"/>
<path d="M609.92,0V22.6" stroke="rgba(60,40,20,0.35)" stroke-width="1"/>
<path d="M731.90,0V22.6" stroke="rgba(60,40,20,0.35)" stroke-width="1"/>
<path d="M853.88,0V22.6" stroke="rgba(60,40,20,0.35)" stroke-width="1"/>
<path d="M975.87,0V22.6" stroke="rgba(60,40,20,0.35)" stroke-width="1"/>
<path d="M1097.85,0V22.6" stroke="rgba(60,40,20,0.35)" stroke-width="1"/>
<path d="M1219.83,0V22.6" stroke="rgba(60,40,20,0.35)" stroke-width="1"/>
<path d="M1341.82,0V22.6" stroke="rgba(60,40,20,0.35)" stroke-width="1"/>
<rect x="0.5" y="0.5" width="1462.8" height="21.6" fill="none" stroke="rgba(80,60,40,0.35)" stroke-width="1"/>
</svg>
<div class="cl" style="left:57.3px;top:2676.3px">−3</div>
<div class="cl" style="left:185.0px;top:2676.3px">−2.5</div>
<div class="cl" style="left:301.2px;top:2676.3px">−2</div>
<div class="cl" style="left:438.5px;top:2676.3px">−1.5</div>
<div class="cl" style="left:562.2px;top:2676.3px">−1</div>
<div class="cl" style="left:680.5px;top:2676.3px">0</div>
<div class="cl" style="left:814.0px;top:2676.3px">1</div>
<div class="cl" style="left:937.0px;top:2676.3px">1.5</div>
<div class="cl" style="left:1061.0px;top:2676.3px">2</div>
<div class="cl" style="left:1180.5px;top:2676.3px">2.5</div>
<div class="cl" style="left:1301.5px;top:2676.3px">3</div>
<div class="un" style="left:590.5px;top:2748.7px;letter-spacing:-0.65px">(10<sup>−2</sup> m<sup>2</sup> / m<sup>2</sup> year<sup>−1</sup>)</div>
</body></html>
